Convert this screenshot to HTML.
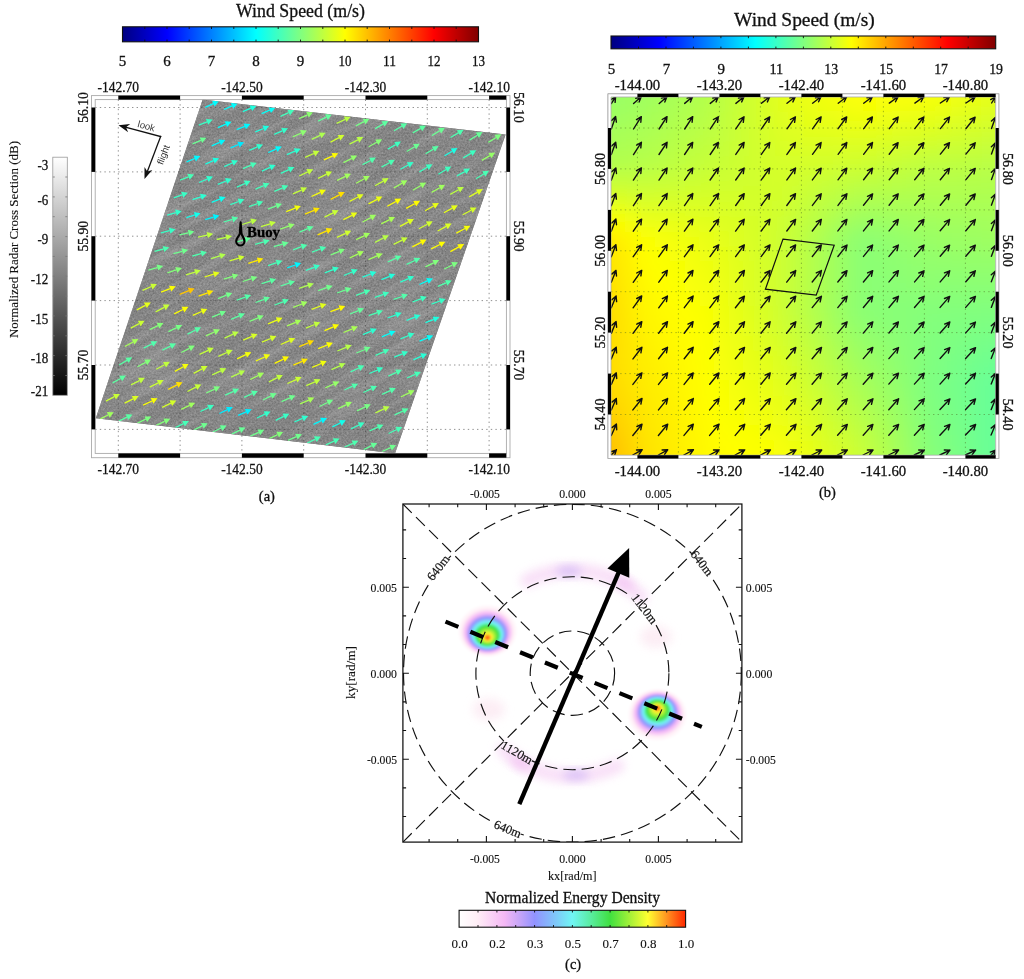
<!DOCTYPE html>
<html lang="en">
<head>
<meta charset="utf-8">
<title>SAR wind field, model wind field and wave spectrum</title>
<style>
html,body{margin:0;padding:0;background:#fff;}
body{width:1024px;height:979px;overflow:hidden;}
svg{display:block;font-family:"Liberation Serif", "DejaVu Serif", serif;}
</style>
</head>
<body>
<svg width="1024" height="979" viewBox="0 0 1024 979">
<defs>
<linearGradient id="jet" x1="0" x2="1" y1="0" y2="0"><stop offset="0" stop-color="#000080"/><stop offset="0.125" stop-color="#0000ff"/><stop offset="0.25" stop-color="#0080ff"/><stop offset="0.375" stop-color="#00ffff"/><stop offset="0.5" stop-color="#80ff80"/><stop offset="0.625" stop-color="#ffff00"/><stop offset="0.75" stop-color="#ff8000"/><stop offset="0.875" stop-color="#ff0000"/><stop offset="1" stop-color="#800000"/></linearGradient>
<linearGradient id="grey" x1="0" x2="0" y1="0" y2="1"><stop offset="0" stop-color="#ffffff"/><stop offset="1" stop-color="#000000"/></linearGradient>
<clipPath id="sarclip"><polygon points="202.7,99.6 505.6,134.6 395.0,453.4 95.8,418.3"/></clipPath>
<filter id="noise" x="0" y="0" width="100%" height="100%" color-interpolation-filters="sRGB"><feTurbulence type="fractalNoise" baseFrequency="0.55" numOctaves="2" seed="7" result="t"/><feColorMatrix in="t" type="matrix" values="0.24 0 0 0 0.395  0.24 0 0 0 0.395  0.24 0 0 0 0.395  0 0 0 0 1"/></filter>
<filter id="streak" x="0" y="0" width="100%" height="100%" color-interpolation-filters="sRGB"><feTurbulence type="fractalNoise" baseFrequency="0.012 0.11" numOctaves="2" seed="11" result="t"/><feColorMatrix in="t" type="matrix" values="0 0 0 0 1  0 0 0 0 1  0 0 0 0 1  1.6 0 0 0 -0.62"/></filter>
<clipPath id="bclip"><rect x="611.0" y="97.0" width="384.70000000000005" height="358.2"/></clipPath>
<filter id="bblur" x="-5%" y="-5%" width="110%" height="110%"><feGaussianBlur stdDeviation="9"/></filter>
<clipPath id="cclip"><rect x="402.9" y="504.0" width="339.0" height="338.1"/></clipPath>
<linearGradient id="ecm" x1="0" x2="1" y1="0" y2="0"><stop offset="0.0" stop-color="#ffffff"/><stop offset="0.08" stop-color="#ffeef6"/><stop offset="0.2" stop-color="#f5b8f5"/><stop offset="0.27" stop-color="#c4a4f8"/><stop offset="0.333" stop-color="#9292ff"/><stop offset="0.42" stop-color="#80c4fa"/><stop offset="0.5" stop-color="#70f6f4"/><stop offset="0.585" stop-color="#58ec9c"/><stop offset="0.667" stop-color="#40e040"/><stop offset="0.75" stop-color="#a0f038"/><stop offset="0.833" stop-color="#ffff30"/><stop offset="0.92" stop-color="#ff9020"/><stop offset="1.0" stop-color="#ff2800"/></linearGradient>
<filter id="fb6" x="-50%" y="-50%" width="200%" height="200%"><feGaussianBlur stdDeviation="5"/></filter>
<filter id="fb3" x="-50%" y="-50%" width="200%" height="200%"><feGaussianBlur stdDeviation="0.9"/></filter>
<radialGradient id="blob0" gradientUnits="userSpaceOnUse" cx="487.5" cy="630.8" r="26.5" fx="487.5" fy="638.3"><stop offset="0" stop-color="#ff2800"/><stop offset="0.065" stop-color="#ff831c"/><stop offset="0.14" stop-color="#fff62f"/><stop offset="0.245" stop-color="#a0f038"/><stop offset="0.35" stop-color="#40e040"/><stop offset="0.415" stop-color="#58ec9c"/><stop offset="0.47" stop-color="#70f6f4"/><stop offset="0.54" stop-color="#80c4fa"/><stop offset="0.605" stop-color="#9292ff"/><stop offset="0.66" stop-color="#c4a4f8"/><stop offset="0.73" stop-color="#f5b8f5"/><stop offset="0.86" stop-color="#ffeef6"/><stop offset="1.0" stop-color="#ffffff"/></radialGradient>
<radialGradient id="blob1" gradientUnits="userSpaceOnUse" cx="657.5" cy="714.9" r="26.5" fx="657.5" fy="707.4"><stop offset="0" stop-color="#ff2800"/><stop offset="0.065" stop-color="#ff831c"/><stop offset="0.14" stop-color="#fff62f"/><stop offset="0.245" stop-color="#a0f038"/><stop offset="0.35" stop-color="#40e040"/><stop offset="0.415" stop-color="#58ec9c"/><stop offset="0.47" stop-color="#70f6f4"/><stop offset="0.54" stop-color="#80c4fa"/><stop offset="0.605" stop-color="#9292ff"/><stop offset="0.66" stop-color="#c4a4f8"/><stop offset="0.73" stop-color="#f5b8f5"/><stop offset="0.86" stop-color="#ffeef6"/><stop offset="1.0" stop-color="#ffffff"/></radialGradient>
<mask id="ringmask" maskUnits="userSpaceOnUse" x="395" y="495" width="355" height="355"><rect x="397.9" y="499.0" width="349.0" height="348.1" fill="#fff"/><rect x="424.6" y="561.9" width="27.5" height="12" fill="#000" transform="rotate(-52 438.4 567.9)"/><rect x="688.0" y="557.2" width="27.5" height="12" fill="#000" transform="rotate(52 701.8 563.2)"/><rect x="627.4" y="602.9" width="34.0" height="12" fill="#000" transform="rotate(52 644.4 608.9)"/><rect x="499.9" y="746.6" width="34.0" height="12" fill="#000" transform="rotate(30 516.9 752.6)"/><rect x="493.9" y="823.2" width="27.5" height="12" fill="#000" transform="rotate(22 507.6 829.2)"/></mask>
</defs>
<rect width="1024" height="979" fill="#fff"/>
<text x="300.5" y="17.0" font-size="18" text-anchor="middle" fill="#111" textLength="129.0" lengthAdjust="spacingAndGlyphs" stroke="#111" stroke-width="0.3">Wind Speed (m/s)</text>
<rect x="122.5" y="26.8" width="356.0" height="14.999999999999996" fill="url(#jet)" stroke="#111" stroke-width="1.1"/>
<path d="M144.8 26.8v2.2M144.8 41.8v-2.2M167.0 26.8v2.2M167.0 41.8v-2.2M189.2 26.8v2.2M189.2 41.8v-2.2M211.5 26.8v2.2M211.5 41.8v-2.2M233.8 26.8v2.2M233.8 41.8v-2.2M256.0 26.8v2.2M256.0 41.8v-2.2M278.2 26.8v2.2M278.2 41.8v-2.2M300.5 26.8v2.2M300.5 41.8v-2.2M322.8 26.8v2.2M322.8 41.8v-2.2M345.0 26.8v2.2M345.0 41.8v-2.2M367.2 26.8v2.2M367.2 41.8v-2.2M389.5 26.8v2.2M389.5 41.8v-2.2M411.8 26.8v2.2M411.8 41.8v-2.2M434.0 26.8v2.2M434.0 41.8v-2.2M456.2 26.8v2.2M456.2 41.8v-2.2" stroke="#111" stroke-width="0.9" fill="none"/>
<text x="122.5" y="65.6" font-size="15" text-anchor="middle" fill="#111" stroke="#111" stroke-width="0.3">5</text>
<text x="167.0" y="65.6" font-size="15" text-anchor="middle" fill="#111" stroke="#111" stroke-width="0.3">6</text>
<text x="211.5" y="65.6" font-size="15" text-anchor="middle" fill="#111" stroke="#111" stroke-width="0.3">7</text>
<text x="256.0" y="65.6" font-size="15" text-anchor="middle" fill="#111" stroke="#111" stroke-width="0.3">8</text>
<text x="300.5" y="65.6" font-size="15" text-anchor="middle" fill="#111" stroke="#111" stroke-width="0.3">9</text>
<text x="345.0" y="65.6" font-size="15" text-anchor="middle" fill="#111" textLength="13.0" lengthAdjust="spacingAndGlyphs" stroke="#111" stroke-width="0.3">10</text>
<text x="389.5" y="65.6" font-size="15" text-anchor="middle" fill="#111" textLength="13.0" lengthAdjust="spacingAndGlyphs" stroke="#111" stroke-width="0.3">11</text>
<text x="434.0" y="65.6" font-size="15" text-anchor="middle" fill="#111" textLength="13.0" lengthAdjust="spacingAndGlyphs" stroke="#111" stroke-width="0.3">12</text>
<text x="478.5" y="65.6" font-size="15" text-anchor="middle" fill="#111" textLength="13.0" lengthAdjust="spacingAndGlyphs" stroke="#111" stroke-width="0.3">13</text>
<rect x="52.8" y="157.2" width="14.5" height="238.10000000000002" fill="url(#grey)" stroke="#999" stroke-width="0.8"/>
<path d="M52.8 177.0h2M67.3 177.0h-2M52.8 196.9h2M67.3 196.9h-2M52.8 216.7h2M67.3 216.7h-2M52.8 236.6h2M67.3 236.6h-2M52.8 256.4h2M67.3 256.4h-2M52.8 276.2h2M67.3 276.2h-2M52.8 296.1h2M67.3 296.1h-2M52.8 315.9h2M67.3 315.9h-2M52.8 335.8h2M67.3 335.8h-2M52.8 355.6h2M67.3 355.6h-2M52.8 375.5h2M67.3 375.5h-2" stroke="#777" stroke-width="0.8" fill="none"/>
<text x="48.2" y="170.0" font-size="15" text-anchor="end" fill="#111" textLength="10.8" lengthAdjust="spacingAndGlyphs" stroke="#111" stroke-width="0.3">-3</text>
<text x="48.2" y="205.3" font-size="15" text-anchor="end" fill="#111" textLength="10.8" lengthAdjust="spacingAndGlyphs" stroke="#111" stroke-width="0.3">-6</text>
<text x="48.2" y="244.4" font-size="15" text-anchor="end" fill="#111" textLength="10.8" lengthAdjust="spacingAndGlyphs" stroke="#111" stroke-width="0.3">-9</text>
<text x="48.2" y="284.0" font-size="15" text-anchor="end" fill="#111" textLength="17.4" lengthAdjust="spacingAndGlyphs" stroke="#111" stroke-width="0.3">-12</text>
<text x="48.2" y="323.8" font-size="15" text-anchor="end" fill="#111" textLength="17.4" lengthAdjust="spacingAndGlyphs" stroke="#111" stroke-width="0.3">-15</text>
<text x="48.2" y="363.0" font-size="15" text-anchor="end" fill="#111" textLength="17.4" lengthAdjust="spacingAndGlyphs" stroke="#111" stroke-width="0.3">-18</text>
<text x="48.2" y="396.0" font-size="15" text-anchor="end" fill="#111" textLength="17.4" lengthAdjust="spacingAndGlyphs" stroke="#111" stroke-width="0.3">-21</text>
<text x="17.6" y="239.5" font-size="13" text-anchor="middle" fill="#111" textLength="197.0" lengthAdjust="spacingAndGlyphs" transform="rotate(-90.0 17.6 239.5)" stroke="#111" stroke-width="0.12">Normalized Radar Cross Section (dB)</text>
<polygon points="202.7,99.6 505.6,134.6 395.0,453.4 95.8,418.3" fill="#848484"/>
<g clip-path="url(#sarclip)">
<rect x="90" y="95" width="420" height="362" filter="url(#noise)"/>
<g transform="rotate(-28 300 276)" opacity="0.22"><rect x="20" y="-20" width="560" height="600" filter="url(#streak)"/></g>
</g>
<path d="M118.3 99.6V453.4M180.1 99.6V453.4M241.9 99.6V453.4M303.7 99.6V453.4M365.5 99.6V453.4M427.3 99.6V453.4M489.1 99.6V453.4M95.2 107.5H506.4M95.2 171.9H506.4M95.2 236.2H506.4M95.2 300.6H506.4M95.2 365.0H506.4M95.2 429.4H506.4" stroke="#444" stroke-opacity="0.65" stroke-width="0.9" stroke-dasharray="1.4 3.2" fill="none"/>
<g clip-path="url(#sarclip)">
<path d="M205.3 107.3L213.3 103.7" stroke="#00fcff" stroke-width="1.3" fill="none"/><path d="M218.9 101.2L214.6 106.6L212.0 100.8Z" fill="#00fcff"/>
<path d="M224.1 109.5L232.2 105.9" stroke="#00feff" stroke-width="1.3" fill="none"/><path d="M237.7 103.5L233.4 108.8L230.9 103.1Z" fill="#00feff"/>
<path d="M242.8 111.7L251.0 108.1" stroke="#21ffde" stroke-width="1.3" fill="none"/><path d="M256.6 105.7L252.2 111.0L249.7 105.2Z" fill="#21ffde"/>
<path d="M261.6 113.7L269.8 110.2" stroke="#05fffa" stroke-width="1.3" fill="none"/><path d="M275.4 107.8L271.0 113.1L268.5 107.3Z" fill="#05fffa"/>
<path d="M280.4 116.3L288.7 112.6" stroke="#43ffbc" stroke-width="1.3" fill="none"/><path d="M294.2 110.0L290.0 115.4L287.4 109.7Z" fill="#43ffbc"/>
<path d="M299.0 118.7L307.5 114.8" stroke="#8dff72" stroke-width="1.3" fill="none"/><path d="M313.1 112.2L308.8 117.6L306.2 111.9Z" fill="#8dff72"/>
<path d="M318.2 121.2L326.4 117.1" stroke="#62ff9d" stroke-width="1.3" fill="none"/><path d="M331.9 114.5L327.8 120.0L325.0 114.3Z" fill="#62ff9d"/>
<path d="M336.6 123.4L345.2 119.3" stroke="#bcff43" stroke-width="1.3" fill="none"/><path d="M350.7 116.7L346.5 122.1L343.8 116.4Z" fill="#bcff43"/>
<path d="M355.8 125.8L364.1 121.6" stroke="#77ff88" stroke-width="1.3" fill="none"/><path d="M369.5 118.8L365.5 124.4L362.7 118.8Z" fill="#77ff88"/>
<path d="M375.1 128.6L383.1 124.1" stroke="#5dffa2" stroke-width="1.3" fill="none"/><path d="M388.4 121.0L384.6 126.8L381.5 121.3Z" fill="#5dffa2"/>
<path d="M394.0 130.8L401.9 126.3" stroke="#57ffa8" stroke-width="1.3" fill="none"/><path d="M407.2 123.2L403.5 129.0L400.3 123.5Z" fill="#57ffa8"/>
<path d="M412.7 132.9L420.7 128.4" stroke="#5cffa3" stroke-width="1.3" fill="none"/><path d="M426.0 125.5L422.3 131.2L419.2 125.7Z" fill="#5cffa3"/>
<path d="M431.8 135.6L439.7 130.8" stroke="#6bff94" stroke-width="1.3" fill="none"/><path d="M444.9 127.7L441.3 133.5L438.0 128.1Z" fill="#6bff94"/>
<path d="M450.5 137.5L458.4 132.9" stroke="#4effb1" stroke-width="1.3" fill="none"/><path d="M463.7 129.8L460.0 135.6L456.8 130.2Z" fill="#4effb1"/>
<path d="M469.5 140.1L477.3 135.2" stroke="#66ff99" stroke-width="1.3" fill="none"/><path d="M482.5 132.1L479.0 137.9L475.7 132.6Z" fill="#66ff99"/>
<path d="M488.3 142.4L496.2 137.5" stroke="#7fff80" stroke-width="1.3" fill="none"/><path d="M501.4 134.2L497.8 140.2L494.5 134.8Z" fill="#7fff80"/>
<path d="M198.7 125.2L207.0 121.8" stroke="#39ffc6" stroke-width="1.3" fill="none"/><path d="M212.7 119.5L208.2 124.7L205.9 118.9Z" fill="#39ffc6"/>
<path d="M217.9 127.7L225.9 124.2" stroke="#01fffe" stroke-width="1.3" fill="none"/><path d="M231.5 121.7L227.2 127.1L224.7 121.3Z" fill="#01fffe"/>
<path d="M236.7 129.7L244.8 126.3" stroke="#00f7ff" stroke-width="1.3" fill="none"/><path d="M250.4 123.9L246.0 129.2L243.5 123.4Z" fill="#00f7ff"/>
<path d="M255.3 131.9L263.6 128.5" stroke="#1effe1" stroke-width="1.3" fill="none"/><path d="M269.2 126.1L264.8 131.4L262.4 125.6Z" fill="#1effe1"/>
<path d="M274.2 134.4L282.4 130.8" stroke="#33ffcc" stroke-width="1.3" fill="none"/><path d="M288.0 128.3L283.7 133.7L281.2 127.9Z" fill="#33ffcc"/>
<path d="M292.7 136.8L301.3 133.0" stroke="#8eff71" stroke-width="1.3" fill="none"/><path d="M306.9 130.5L302.6 135.9L300.0 130.1Z" fill="#8eff71"/>
<path d="M311.6 139.4L320.2 135.4" stroke="#aeff51" stroke-width="1.3" fill="none"/><path d="M325.7 132.7L321.5 138.2L318.8 132.5Z" fill="#aeff51"/>
<path d="M330.5 142.1L339.1 137.7" stroke="#d0ff2f" stroke-width="1.3" fill="none"/><path d="M344.5 134.9L340.5 140.5L337.7 134.9Z" fill="#d0ff2f"/>
<path d="M349.4 144.2L357.9 139.9" stroke="#b9ff46" stroke-width="1.3" fill="none"/><path d="M363.3 137.1L359.3 142.7L356.5 137.1Z" fill="#b9ff46"/>
<path d="M368.6 146.7L376.8 142.2" stroke="#89ff76" stroke-width="1.3" fill="none"/><path d="M382.2 139.3L378.3 145.0L375.3 139.5Z" fill="#89ff76"/>
<path d="M387.9 149.1L395.7 144.6" stroke="#3fffc0" stroke-width="1.3" fill="none"/><path d="M401.0 141.5L397.3 147.3L394.2 141.9Z" fill="#3fffc0"/>
<path d="M406.7 151.5L414.6 146.8" stroke="#6cff93" stroke-width="1.3" fill="none"/><path d="M419.8 143.7L416.2 149.6L413.0 144.1Z" fill="#6cff93"/>
<path d="M425.6 153.7L433.4 149.1" stroke="#58ffa7" stroke-width="1.3" fill="none"/><path d="M438.7 145.9L435.0 151.8L431.8 146.4Z" fill="#58ffa7"/>
<path d="M444.6 155.8L452.3 151.3" stroke="#1bffe4" stroke-width="1.3" fill="none"/><path d="M457.5 148.1L453.9 154.0L450.6 148.6Z" fill="#1bffe4"/>
<path d="M463.2 157.9L471.0 153.4" stroke="#3effc1" stroke-width="1.3" fill="none"/><path d="M476.3 150.3L472.6 156.1L469.5 150.6Z" fill="#3effc1"/>
<path d="M481.8 160.4L489.9 155.6" stroke="#97ff68" stroke-width="1.3" fill="none"/><path d="M495.2 152.5L491.5 158.3L488.3 152.9Z" fill="#97ff68"/>
<path d="M192.5 143.9L200.9 140.3" stroke="#6bff94" stroke-width="1.3" fill="none"/><path d="M206.5 137.8L202.2 143.1L199.7 137.4Z" fill="#6bff94"/>
<path d="M211.7 145.9L219.7 142.4" stroke="#00f9ff" stroke-width="1.3" fill="none"/><path d="M225.4 140.0L221.0 145.3L218.5 139.6Z" fill="#00f9ff"/>
<path d="M230.5 147.9L238.5 144.6" stroke="#00e9ff" stroke-width="1.3" fill="none"/><path d="M244.2 142.2L239.8 147.5L237.3 141.7Z" fill="#00e9ff"/>
<path d="M249.2 150.4L257.4 146.9" stroke="#30ffcf" stroke-width="1.3" fill="none"/><path d="M263.0 144.4L258.7 149.8L256.2 144.0Z" fill="#30ffcf"/>
<path d="M268.2 152.5L276.2 149.1" stroke="#00fbff" stroke-width="1.3" fill="none"/><path d="M281.8 146.6L277.5 151.9L275.0 146.2Z" fill="#00fbff"/>
<path d="M286.8 154.7L295.1 151.2" stroke="#2dffd2" stroke-width="1.3" fill="none"/><path d="M300.7 148.8L296.3 154.1L293.8 148.3Z" fill="#2dffd2"/>
<path d="M305.1 157.3L313.9 153.5" stroke="#c4ff3b" stroke-width="1.3" fill="none"/><path d="M319.5 151.0L315.2 156.4L312.6 150.6Z" fill="#c4ff3b"/>
<path d="M323.9 159.9L332.8 155.8" stroke="#fffc00" stroke-width="1.3" fill="none"/><path d="M338.3 153.2L334.1 158.6L331.5 152.9Z" fill="#fffc00"/>
<path d="M343.4 162.6L351.8 158.3" stroke="#93ff6c" stroke-width="1.3" fill="none"/><path d="M357.2 155.4L353.2 161.0L350.3 155.5Z" fill="#93ff6c"/>
<path d="M362.5 164.7L370.6 160.5" stroke="#52ffad" stroke-width="1.3" fill="none"/><path d="M376.0 157.6L372.0 163.3L369.1 157.7Z" fill="#52ffad"/>
<path d="M381.5 167.1L389.5 162.7" stroke="#4bffb4" stroke-width="1.3" fill="none"/><path d="M394.8 159.8L391.0 165.5L388.0 160.0Z" fill="#4bffb4"/>
<path d="M400.4 169.3L408.3 165.0" stroke="#35ffca" stroke-width="1.3" fill="none"/><path d="M413.6 162.0L409.8 167.7L406.8 162.2Z" fill="#35ffca"/>
<path d="M419.4 171.9L427.2 167.3" stroke="#3dffc2" stroke-width="1.3" fill="none"/><path d="M432.5 164.2L428.8 170.0L425.6 164.6Z" fill="#3dffc2"/>
<path d="M438.3 174.2L446.1 169.5" stroke="#3fffc0" stroke-width="1.3" fill="none"/><path d="M451.3 166.4L447.7 172.3L444.5 166.8Z" fill="#3fffc0"/>
<path d="M456.9 175.9L464.8 171.6" stroke="#3effc1" stroke-width="1.3" fill="none"/><path d="M470.1 168.6L466.3 174.3L463.3 168.8Z" fill="#3effc1"/>
<path d="M476.0 178.7L483.8 174.0" stroke="#4affb5" stroke-width="1.3" fill="none"/><path d="M489.0 170.8L485.4 176.7L482.1 171.3Z" fill="#4affb5"/>
<path d="M186.6 161.9L194.7 158.5" stroke="#00f9ff" stroke-width="1.3" fill="none"/><path d="M200.3 156.1L195.9 161.4L193.5 155.6Z" fill="#00f9ff"/>
<path d="M205.3 164.1L213.5 160.7" stroke="#1dffe2" stroke-width="1.3" fill="none"/><path d="M219.2 158.3L214.8 163.6L212.3 157.8Z" fill="#1dffe2"/>
<path d="M224.2 166.6L232.4 163.0" stroke="#30ffcf" stroke-width="1.3" fill="none"/><path d="M238.0 160.5L233.7 165.8L231.1 160.1Z" fill="#30ffcf"/>
<path d="M242.9 168.7L251.2 165.1" stroke="#46ffb9" stroke-width="1.3" fill="none"/><path d="M256.8 162.7L252.4 168.0L250.0 162.2Z" fill="#46ffb9"/>
<path d="M261.9 171.1L270.1 167.4" stroke="#2fffd0" stroke-width="1.3" fill="none"/><path d="M275.7 164.9L271.4 170.3L268.8 164.5Z" fill="#2fffd0"/>
<path d="M280.7 173.3L288.9 169.6" stroke="#3affc5" stroke-width="1.3" fill="none"/><path d="M294.5 167.1L290.2 172.5L287.6 166.7Z" fill="#3affc5"/>
<path d="M299.2 176.0L307.8 171.9" stroke="#c2ff3d" stroke-width="1.3" fill="none"/><path d="M313.3 169.3L309.1 174.8L306.4 169.1Z" fill="#c2ff3d"/>
<path d="M318.0 178.3L326.6 174.2" stroke="#c6ff39" stroke-width="1.3" fill="none"/><path d="M332.1 171.5L328.0 177.0L325.3 171.3Z" fill="#c6ff39"/>
<path d="M337.0 180.4L345.5 176.4" stroke="#a3ff5c" stroke-width="1.3" fill="none"/><path d="M351.0 173.7L346.8 179.2L344.1 173.5Z" fill="#a3ff5c"/>
<path d="M356.1 183.2L364.4 178.8" stroke="#a1ff5e" stroke-width="1.3" fill="none"/><path d="M369.8 175.9L365.9 181.6L362.9 176.0Z" fill="#a1ff5e"/>
<path d="M375.0 185.8L383.3 181.1" stroke="#c3ff3c" stroke-width="1.3" fill="none"/><path d="M388.6 178.1L384.9 183.9L381.8 178.4Z" fill="#c3ff3c"/>
<path d="M393.9 187.9L402.1 183.3" stroke="#9fff60" stroke-width="1.3" fill="none"/><path d="M407.5 180.3L403.7 186.1L400.6 180.6Z" fill="#9fff60"/>
<path d="M412.8 190.2L421.0 185.5" stroke="#96ff69" stroke-width="1.3" fill="none"/><path d="M426.3 182.5L422.5 188.3L419.4 182.8Z" fill="#96ff69"/>
<path d="M431.6 192.4L439.8 187.7" stroke="#a0ff5f" stroke-width="1.3" fill="none"/><path d="M445.1 184.7L441.4 190.5L438.3 185.0Z" fill="#a0ff5f"/>
<path d="M450.2 194.4L458.6 189.8" stroke="#bcff43" stroke-width="1.3" fill="none"/><path d="M463.9 186.9L460.1 192.6L457.1 187.1Z" fill="#bcff43"/>
<path d="M469.1 196.9L477.5 192.1" stroke="#ddff22" stroke-width="1.3" fill="none"/><path d="M482.8 189.1L479.0 194.9L475.9 189.4Z" fill="#ddff22"/>
<path d="M180.1 180.2L188.5 176.8" stroke="#47ffb8" stroke-width="1.3" fill="none"/><path d="M194.1 174.4L189.7 179.7L187.3 173.8Z" fill="#47ffb8"/>
<path d="M199.1 182.5L207.4 179.0" stroke="#30ffcf" stroke-width="1.3" fill="none"/><path d="M213.0 176.6L208.6 181.9L206.1 176.1Z" fill="#30ffcf"/>
<path d="M217.8 184.3L226.1 181.0" stroke="#30ffcf" stroke-width="1.3" fill="none"/><path d="M231.8 178.8L227.3 184.0L225.0 178.1Z" fill="#30ffcf"/>
<path d="M236.8 187.1L245.0 183.5" stroke="#3bffc4" stroke-width="1.3" fill="none"/><path d="M250.6 181.0L246.3 186.3L243.8 180.6Z" fill="#3bffc4"/>
<path d="M255.5 189.1L263.8 185.6" stroke="#45ffba" stroke-width="1.3" fill="none"/><path d="M269.5 183.2L265.0 188.5L262.6 182.7Z" fill="#45ffba"/>
<path d="M274.3 191.4L282.7 187.8" stroke="#46ffb9" stroke-width="1.3" fill="none"/><path d="M288.3 185.4L283.9 190.7L281.4 184.9Z" fill="#46ffb9"/>
<path d="M292.8 193.9L301.5 190.1" stroke="#c4ff3b" stroke-width="1.3" fill="none"/><path d="M307.1 187.6L302.8 193.0L300.3 187.2Z" fill="#c4ff3b"/>
<path d="M311.5 196.5L320.4 192.4" stroke="#f6ff09" stroke-width="1.3" fill="none"/><path d="M326.0 189.8L321.7 195.2L319.1 189.5Z" fill="#f6ff09"/>
<path d="M330.6 199.4L339.4 194.8" stroke="#ffde00" stroke-width="1.3" fill="none"/><path d="M344.8 192.0L340.8 197.6L337.9 192.0Z" fill="#ffde00"/>
<path d="M349.5 201.4L358.2 197.0" stroke="#e2ff1d" stroke-width="1.3" fill="none"/><path d="M363.6 194.2L359.6 199.8L356.7 194.2Z" fill="#e2ff1d"/>
<path d="M368.5 203.8L377.1 199.3" stroke="#ebff14" stroke-width="1.3" fill="none"/><path d="M382.4 196.4L378.5 202.1L375.6 196.5Z" fill="#ebff14"/>
<path d="M387.3 206.2L395.9 201.5" stroke="#fdff02" stroke-width="1.3" fill="none"/><path d="M401.3 198.6L397.4 204.3L394.4 198.8Z" fill="#fdff02"/>
<path d="M406.1 208.4L414.7 203.7" stroke="#fffb00" stroke-width="1.3" fill="none"/><path d="M420.1 200.8L416.3 206.5L413.2 201.0Z" fill="#fffb00"/>
<path d="M425.1 210.7L433.6 206.0" stroke="#eaff15" stroke-width="1.3" fill="none"/><path d="M438.9 203.0L435.1 208.7L432.1 203.2Z" fill="#eaff15"/>
<path d="M443.9 212.8L452.4 208.1" stroke="#e7ff18" stroke-width="1.3" fill="none"/><path d="M457.8 205.2L453.9 210.9L450.9 205.4Z" fill="#e7ff18"/>
<path d="M462.7 214.8L471.2 210.3" stroke="#d6ff29" stroke-width="1.3" fill="none"/><path d="M476.6 207.4L472.7 213.1L469.7 207.5Z" fill="#d6ff29"/>
<path d="M173.7 197.9L182.2 194.8" stroke="#39ffc6" stroke-width="1.3" fill="none"/><path d="M187.9 192.7L183.3 197.7L181.1 191.8Z" fill="#39ffc6"/>
<path d="M192.5 199.6L201.0 196.8" stroke="#2cffd3" stroke-width="1.3" fill="none"/><path d="M206.8 194.9L202.0 199.8L200.0 193.8Z" fill="#2cffd3"/>
<path d="M211.6 202.4L219.9 199.2" stroke="#0ffff0" stroke-width="1.3" fill="none"/><path d="M225.6 197.1L221.0 202.2L218.8 196.3Z" fill="#0ffff0"/>
<path d="M230.3 204.6L238.7 201.5" stroke="#38ffc7" stroke-width="1.3" fill="none"/><path d="M244.4 199.3L239.8 204.4L237.6 198.5Z" fill="#38ffc7"/>
<path d="M249.0 206.6L257.5 203.6" stroke="#46ffb9" stroke-width="1.3" fill="none"/><path d="M263.3 201.5L258.6 206.5L256.5 200.6Z" fill="#46ffb9"/>
<path d="M267.8 209.2L276.4 205.9" stroke="#6dff92" stroke-width="1.3" fill="none"/><path d="M282.1 203.7L277.5 208.8L275.3 203.0Z" fill="#6dff92"/>
<path d="M286.2 211.7L295.3 208.1" stroke="#f4ff0b" stroke-width="1.3" fill="none"/><path d="M300.9 205.9L296.4 211.1L294.1 205.2Z" fill="#f4ff0b"/>
<path d="M304.9 214.1L314.1 210.4" stroke="#ffe400" stroke-width="1.3" fill="none"/><path d="M319.8 208.1L315.3 213.3L312.9 207.5Z" fill="#ffe400"/>
<path d="M324.5 217.1L333.1 212.9" stroke="#c8ff37" stroke-width="1.3" fill="none"/><path d="M338.6 210.3L334.5 215.8L331.7 210.1Z" fill="#c8ff37"/>
<path d="M343.3 219.7L352.0 215.3" stroke="#ebff14" stroke-width="1.3" fill="none"/><path d="M357.4 212.5L353.4 218.1L350.6 212.5Z" fill="#ebff14"/>
<path d="M362.6 222.0L370.9 217.6" stroke="#9eff61" stroke-width="1.3" fill="none"/><path d="M376.2 214.7L372.4 220.4L369.4 214.8Z" fill="#9eff61"/>
<path d="M381.2 223.9L389.6 219.7" stroke="#aaff55" stroke-width="1.3" fill="none"/><path d="M395.1 216.9L391.1 222.5L388.2 216.8Z" fill="#aaff55"/>
<path d="M399.9 226.4L408.5 221.9" stroke="#deff21" stroke-width="1.3" fill="none"/><path d="M413.9 219.1L410.0 224.7L407.0 219.1Z" fill="#deff21"/>
<path d="M418.9 228.8L427.4 224.2" stroke="#d1ff2e" stroke-width="1.3" fill="none"/><path d="M432.7 221.3L428.9 227.0L425.9 221.5Z" fill="#d1ff2e"/>
<path d="M437.7 231.0L446.2 226.4" stroke="#dbff24" stroke-width="1.3" fill="none"/><path d="M451.6 223.5L447.7 229.2L444.7 223.6Z" fill="#dbff24"/>
<path d="M456.3 233.1L465.0 228.5" stroke="#f7ff08" stroke-width="1.3" fill="none"/><path d="M470.4 225.7L466.5 231.3L463.5 225.7Z" fill="#f7ff08"/>
<path d="M167.2 215.1L175.9 212.7" stroke="#33ffcc" stroke-width="1.3" fill="none"/><path d="M181.8 211.0L176.8 215.7L175.0 209.6Z" fill="#33ffcc"/>
<path d="M186.3 217.7L194.8 215.0" stroke="#13ffec" stroke-width="1.3" fill="none"/><path d="M200.6 213.2L195.7 218.0L193.8 212.0Z" fill="#13ffec"/>
<path d="M205.2 219.7L213.6 217.1" stroke="#00f3ff" stroke-width="1.3" fill="none"/><path d="M219.4 215.4L214.5 220.2L212.7 214.1Z" fill="#00f3ff"/>
<path d="M223.7 222.0L232.4 219.3" stroke="#51ffae" stroke-width="1.3" fill="none"/><path d="M238.2 217.6L233.3 222.4L231.5 216.3Z" fill="#51ffae"/>
<path d="M242.2 224.5L251.3 221.6" stroke="#bbff44" stroke-width="1.3" fill="none"/><path d="M257.1 219.8L252.2 224.6L250.3 218.6Z" fill="#bbff44"/>
<path d="M261.0 226.7L270.1 223.8" stroke="#c3ff3c" stroke-width="1.3" fill="none"/><path d="M275.9 222.0L271.0 226.8L269.1 220.8Z" fill="#c3ff3c"/>
<path d="M280.1 229.1L289.0 226.1" stroke="#93ff6c" stroke-width="1.3" fill="none"/><path d="M294.7 224.2L290.0 229.1L288.0 223.1Z" fill="#93ff6c"/>
<path d="M299.4 232.1L307.9 228.7" stroke="#5dffa2" stroke-width="1.3" fill="none"/><path d="M313.6 226.4L309.1 231.6L306.7 225.7Z" fill="#5dffa2"/>
<path d="M317.6 234.8L326.8 230.9" stroke="#ffe500" stroke-width="1.3" fill="none"/><path d="M332.4 228.6L328.0 233.9L325.6 228.0Z" fill="#ffe500"/>
<path d="M336.9 237.3L345.7 233.3" stroke="#d0ff2f" stroke-width="1.3" fill="none"/><path d="M351.2 230.8L347.0 236.2L344.4 230.5Z" fill="#d0ff2f"/>
<path d="M356.1 239.7L364.6 235.6" stroke="#a2ff5d" stroke-width="1.3" fill="none"/><path d="M370.1 233.0L365.9 238.5L363.2 232.8Z" fill="#a2ff5d"/>
<path d="M375.0 242.3L383.5 238.0" stroke="#b8ff47" stroke-width="1.3" fill="none"/><path d="M388.9 235.2L384.9 240.8L382.0 235.2Z" fill="#b8ff47"/>
<path d="M393.6 244.3L402.2 240.1" stroke="#c7ff38" stroke-width="1.3" fill="none"/><path d="M407.7 237.4L403.6 242.9L400.9 237.3Z" fill="#c7ff38"/>
<path d="M412.3 246.8L421.1 242.3" stroke="#fffa00" stroke-width="1.3" fill="none"/><path d="M426.5 239.6L422.5 245.2L419.7 239.5Z" fill="#fffa00"/>
<path d="M431.1 248.9L439.9 244.5" stroke="#feff01" stroke-width="1.3" fill="none"/><path d="M445.4 241.8L441.3 247.3L438.5 241.7Z" fill="#feff01"/>
<path d="M450.3 251.6L458.9 246.9" stroke="#fffb00" stroke-width="1.3" fill="none"/><path d="M464.2 244.0L460.4 249.7L457.3 244.2Z" fill="#fffb00"/>
<path d="M160.9 232.9L169.6 230.7" stroke="#38ffc7" stroke-width="1.3" fill="none"/><path d="M175.6 229.3L170.4 233.8L168.9 227.7Z" fill="#38ffc7"/>
<path d="M179.4 234.8L188.4 232.8" stroke="#70ff8f" stroke-width="1.3" fill="none"/><path d="M194.4 231.5L189.1 235.9L187.8 229.7Z" fill="#70ff8f"/>
<path d="M198.0 237.2L207.3 235.1" stroke="#beff41" stroke-width="1.3" fill="none"/><path d="M213.2 233.7L208.0 238.1L206.6 232.0Z" fill="#beff41"/>
<path d="M216.8 239.5L226.1 237.3" stroke="#bbff44" stroke-width="1.3" fill="none"/><path d="M232.1 235.9L226.8 240.3L225.4 234.2Z" fill="#bbff44"/>
<path d="M236.2 242.1L245.0 239.7" stroke="#62ff9d" stroke-width="1.3" fill="none"/><path d="M250.9 238.1L245.8 242.7L244.2 236.7Z" fill="#62ff9d"/>
<path d="M255.1 244.3L263.8 241.9" stroke="#4cffb3" stroke-width="1.3" fill="none"/><path d="M269.7 240.3L264.7 244.9L263.0 238.9Z" fill="#4cffb3"/>
<path d="M273.8 246.7L282.7 244.1" stroke="#67ff98" stroke-width="1.3" fill="none"/><path d="M288.6 242.5L283.5 247.2L281.8 241.1Z" fill="#67ff98"/>
<path d="M293.1 249.8L301.6 246.7" stroke="#4fffb0" stroke-width="1.3" fill="none"/><path d="M307.4 244.7L302.7 249.7L300.6 243.8Z" fill="#4fffb0"/>
<path d="M312.0 252.1L320.5 249.0" stroke="#4affb5" stroke-width="1.3" fill="none"/><path d="M326.2 246.9L321.6 252.0L319.4 246.0Z" fill="#4affb5"/>
<path d="M330.7 254.8L339.4 251.3" stroke="#7fff80" stroke-width="1.3" fill="none"/><path d="M345.0 249.1L340.5 254.3L338.2 248.4Z" fill="#7fff80"/>
<path d="M349.8 257.9L358.3 253.9" stroke="#a6ff59" stroke-width="1.3" fill="none"/><path d="M363.9 251.3L359.7 256.7L357.0 251.0Z" fill="#a6ff59"/>
<path d="M368.5 259.7L377.1 255.9" stroke="#a3ff5c" stroke-width="1.3" fill="none"/><path d="M382.7 253.5L378.4 258.8L375.8 253.1Z" fill="#a3ff5c"/>
<path d="M387.7 262.0L396.0 258.2" stroke="#57ffa8" stroke-width="1.3" fill="none"/><path d="M401.5 255.7L397.3 261.1L394.7 255.4Z" fill="#57ffa8"/>
<path d="M406.6 264.4L414.9 260.5" stroke="#53ffac" stroke-width="1.3" fill="none"/><path d="M420.4 257.9L416.2 263.3L413.5 257.7Z" fill="#53ffac"/>
<path d="M425.4 266.9L433.7 262.8" stroke="#82ff7d" stroke-width="1.3" fill="none"/><path d="M439.2 260.1L435.1 265.6L432.3 259.9Z" fill="#82ff7d"/>
<path d="M444.2 269.0L452.5 265.0" stroke="#7dff82" stroke-width="1.3" fill="none"/><path d="M458.0 262.3L453.9 267.8L451.2 262.1Z" fill="#7dff82"/>
<path d="M154.6 251.3L163.5 249.0" stroke="#4cffb3" stroke-width="1.3" fill="none"/><path d="M169.4 247.6L164.2 252.1L162.7 246.0Z" fill="#4cffb3"/>
<path d="M173.4 253.6L182.3 251.3" stroke="#70ff8f" stroke-width="1.3" fill="none"/><path d="M188.2 249.8L183.1 254.3L181.5 248.2Z" fill="#70ff8f"/>
<path d="M192.4 256.0L201.2 253.6" stroke="#50ffaf" stroke-width="1.3" fill="none"/><path d="M207.0 252.0L202.0 256.6L200.3 250.5Z" fill="#50ffaf"/>
<path d="M210.9 258.7L220.0 255.9" stroke="#b2ff4d" stroke-width="1.3" fill="none"/><path d="M225.9 254.2L220.9 258.9L219.1 252.9Z" fill="#b2ff4d"/>
<path d="M229.6 260.8L238.9 258.1" stroke="#cfff30" stroke-width="1.3" fill="none"/><path d="M244.7 256.4L239.7 261.1L238.0 255.1Z" fill="#cfff30"/>
<path d="M248.3 263.3L257.7 260.4" stroke="#ffec00" stroke-width="1.3" fill="none"/><path d="M263.5 258.6L258.6 263.4L256.8 257.4Z" fill="#ffec00"/>
<path d="M268.0 265.6L276.6 262.7" stroke="#47ffb8" stroke-width="1.3" fill="none"/><path d="M282.4 260.8L277.6 265.7L275.6 259.7Z" fill="#47ffb8"/>
<path d="M287.2 267.9L295.4 265.0" stroke="#00f6ff" stroke-width="1.3" fill="none"/><path d="M301.2 263.0L296.5 268.0L294.4 262.0Z" fill="#00f6ff"/>
<path d="M305.8 270.4L314.3 267.3" stroke="#38ffc7" stroke-width="1.3" fill="none"/><path d="M320.0 265.2L315.4 270.2L313.2 264.3Z" fill="#38ffc7"/>
<path d="M324.8 272.8L333.2 269.6" stroke="#34ffcb" stroke-width="1.3" fill="none"/><path d="M338.9 267.4L334.3 272.5L332.0 266.6Z" fill="#34ffcb"/>
<path d="M343.8 275.5L352.1 272.0" stroke="#35ffca" stroke-width="1.3" fill="none"/><path d="M357.7 269.6L353.3 274.9L350.8 269.1Z" fill="#35ffca"/>
<path d="M362.5 277.2L370.8 274.0" stroke="#25ffda" stroke-width="1.3" fill="none"/><path d="M376.5 271.8L372.0 276.9L369.7 271.0Z" fill="#25ffda"/>
<path d="M381.4 279.7L389.7 276.3" stroke="#22ffdd" stroke-width="1.3" fill="none"/><path d="M395.3 274.0L390.9 279.2L388.5 273.4Z" fill="#22ffdd"/>
<path d="M400.3 282.2L408.6 278.6" stroke="#31ffce" stroke-width="1.3" fill="none"/><path d="M414.2 276.2L409.8 281.5L407.3 275.7Z" fill="#31ffce"/>
<path d="M419.4 284.5L427.4 280.9" stroke="#07fff8" stroke-width="1.3" fill="none"/><path d="M433.0 278.4L428.7 283.8L426.1 278.0Z" fill="#07fff8"/>
<path d="M437.8 286.4L446.2 282.9" stroke="#52ffad" stroke-width="1.3" fill="none"/><path d="M451.8 280.6L447.4 285.8L445.0 280.0Z" fill="#52ffad"/>
<path d="M148.4 270.2L157.3 267.6" stroke="#77ff88" stroke-width="1.3" fill="none"/><path d="M163.2 265.9L158.2 270.6L156.5 264.5Z" fill="#77ff88"/>
<path d="M167.4 272.8L176.2 269.9" stroke="#85ff7a" stroke-width="1.3" fill="none"/><path d="M182.0 268.1L177.2 272.9L175.2 267.0Z" fill="#85ff7a"/>
<path d="M185.9 274.9L195.0 272.1" stroke="#c0ff3f" stroke-width="1.3" fill="none"/><path d="M200.8 270.3L196.0 275.1L194.1 269.1Z" fill="#c0ff3f"/>
<path d="M204.5 277.0L213.8 274.2" stroke="#e6ff19" stroke-width="1.3" fill="none"/><path d="M219.7 272.5L214.7 277.2L212.9 271.2Z" fill="#e6ff19"/>
<path d="M223.7 279.1L232.7 276.4" stroke="#83ff7c" stroke-width="1.3" fill="none"/><path d="M238.5 274.7L233.6 279.4L231.8 273.4Z" fill="#83ff7c"/>
<path d="M242.7 281.5L251.5 278.7" stroke="#7bff84" stroke-width="1.3" fill="none"/><path d="M257.3 276.9L252.5 281.7L250.6 275.7Z" fill="#7bff84"/>
<path d="M261.6 283.7L270.4 280.9" stroke="#5bffa4" stroke-width="1.3" fill="none"/><path d="M276.2 279.1L271.3 283.9L269.4 277.9Z" fill="#5bffa4"/>
<path d="M280.5 286.0L289.2 283.1" stroke="#5bffa4" stroke-width="1.3" fill="none"/><path d="M295.0 281.3L290.2 286.1L288.2 280.1Z" fill="#5bffa4"/>
<path d="M299.0 288.3L308.0 285.4" stroke="#b0ff4f" stroke-width="1.3" fill="none"/><path d="M313.8 283.5L309.0 288.4L307.1 282.4Z" fill="#b0ff4f"/>
<path d="M318.2 290.7L326.9 287.7" stroke="#72ff8d" stroke-width="1.3" fill="none"/><path d="M332.7 285.7L327.9 290.7L325.9 284.7Z" fill="#72ff8d"/>
<path d="M337.0 293.0L345.7 289.9" stroke="#6bff94" stroke-width="1.3" fill="none"/><path d="M351.5 287.9L346.8 292.9L344.7 286.9Z" fill="#6bff94"/>
<path d="M356.1 295.4L364.6 292.2" stroke="#4affb5" stroke-width="1.3" fill="none"/><path d="M370.3 290.1L365.7 295.2L363.5 289.3Z" fill="#4affb5"/>
<path d="M374.9 297.4L383.4 294.3" stroke="#3effc1" stroke-width="1.3" fill="none"/><path d="M389.2 292.3L384.5 297.3L382.3 291.4Z" fill="#3effc1"/>
<path d="M393.6 299.4L402.2 296.5" stroke="#53ffac" stroke-width="1.3" fill="none"/><path d="M408.0 294.5L403.2 299.4L401.2 293.5Z" fill="#53ffac"/>
<path d="M412.6 301.9L421.1 298.8" stroke="#3effc1" stroke-width="1.3" fill="none"/><path d="M426.8 296.7L422.2 301.7L420.0 295.8Z" fill="#3effc1"/>
<path d="M431.5 304.2L439.9 301.0" stroke="#37ffc8" stroke-width="1.3" fill="none"/><path d="M445.6 298.9L441.0 303.9L438.8 298.0Z" fill="#37ffc8"/>
<path d="M142.6 290.3L151.4 286.5" stroke="#cbff34" stroke-width="1.3" fill="none"/><path d="M157.0 284.1L152.6 289.4L150.2 283.7Z" fill="#cbff34"/>
<path d="M161.1 292.2L170.2 288.6" stroke="#fbff04" stroke-width="1.3" fill="none"/><path d="M175.8 286.3L171.3 291.5L169.0 285.7Z" fill="#fbff04"/>
<path d="M179.6 294.4L189.0 290.7" stroke="#ffc500" stroke-width="1.3" fill="none"/><path d="M194.7 288.5L190.1 293.7L187.8 287.8Z" fill="#ffc500"/>
<path d="M198.5 296.2L207.8 292.8" stroke="#ffe700" stroke-width="1.3" fill="none"/><path d="M213.5 290.8L208.8 295.8L206.7 289.9Z" fill="#ffe700"/>
<path d="M218.0 298.6L226.6 295.2" stroke="#74ff8b" stroke-width="1.3" fill="none"/><path d="M232.3 292.9L227.8 298.1L225.5 292.3Z" fill="#74ff8b"/>
<path d="M236.8 300.2L245.4 297.2" stroke="#54ffab" stroke-width="1.3" fill="none"/><path d="M251.2 295.1L246.4 300.1L244.4 294.2Z" fill="#54ffab"/>
<path d="M255.6 302.5L264.2 299.4" stroke="#5fffa0" stroke-width="1.3" fill="none"/><path d="M270.0 297.3L265.3 302.4L263.2 296.4Z" fill="#5fffa0"/>
<path d="M274.6 305.0L283.1 301.8" stroke="#4effb1" stroke-width="1.3" fill="none"/><path d="M288.8 299.5L284.3 304.7L282.0 298.8Z" fill="#4effb1"/>
<path d="M293.2 307.4L302.0 304.0" stroke="#a1ff5e" stroke-width="1.3" fill="none"/><path d="M307.6 301.8L303.1 306.9L300.8 301.0Z" fill="#a1ff5e"/>
<path d="M311.6 309.3L320.7 306.0" stroke="#e2ff1d" stroke-width="1.3" fill="none"/><path d="M326.5 303.9L321.8 309.0L319.7 303.1Z" fill="#e2ff1d"/>
<path d="M330.4 311.7L339.6 308.3" stroke="#fffa00" stroke-width="1.3" fill="none"/><path d="M345.3 306.1L340.7 311.2L338.5 305.3Z" fill="#fffa00"/>
<path d="M349.9 314.0L358.5 310.6" stroke="#62ff9d" stroke-width="1.3" fill="none"/><path d="M364.1 308.3L359.6 313.5L357.3 307.7Z" fill="#62ff9d"/>
<path d="M368.7 315.7L377.2 312.6" stroke="#4affb5" stroke-width="1.3" fill="none"/><path d="M383.0 310.5L378.3 315.6L376.2 309.7Z" fill="#4affb5"/>
<path d="M387.6 318.0L396.1 314.9" stroke="#2fffd0" stroke-width="1.3" fill="none"/><path d="M401.8 312.8L397.2 317.8L395.0 311.9Z" fill="#2fffd0"/>
<path d="M406.6 320.3L414.9 317.1" stroke="#29ffd6" stroke-width="1.3" fill="none"/><path d="M420.6 314.9L416.0 320.1L413.8 314.2Z" fill="#29ffd6"/>
<path d="M425.5 322.7L433.8 319.4" stroke="#1fffe0" stroke-width="1.3" fill="none"/><path d="M439.5 317.1L434.9 322.3L432.6 316.5Z" fill="#1fffe0"/>
<path d="M136.8 309.8L145.4 305.3" stroke="#e6ff19" stroke-width="1.3" fill="none"/><path d="M150.8 302.4L146.9 308.1L143.9 302.5Z" fill="#e6ff19"/>
<path d="M155.7 311.8L164.2 307.4" stroke="#c7ff38" stroke-width="1.3" fill="none"/><path d="M169.6 304.6L165.7 310.2L162.8 304.6Z" fill="#c7ff38"/>
<path d="M174.2 313.9L183.0 309.5" stroke="#fdff02" stroke-width="1.3" fill="none"/><path d="M188.5 306.8L184.4 312.4L181.6 306.7Z" fill="#fdff02"/>
<path d="M192.8 315.3L201.7 311.5" stroke="#edff12" stroke-width="1.3" fill="none"/><path d="M207.3 309.0L203.0 314.4L200.5 308.6Z" fill="#edff12"/>
<path d="M212.0 317.2L220.5 313.6" stroke="#70ff8f" stroke-width="1.3" fill="none"/><path d="M226.1 311.2L221.7 316.5L219.3 310.7Z" fill="#70ff8f"/>
<path d="M230.9 319.3L239.3 315.8" stroke="#5cffa3" stroke-width="1.3" fill="none"/><path d="M245.0 313.4L240.5 318.7L238.1 312.9Z" fill="#5cffa3"/>
<path d="M249.5 321.3L258.1 317.9" stroke="#81ff7e" stroke-width="1.3" fill="none"/><path d="M263.8 315.6L259.3 320.8L257.0 315.0Z" fill="#81ff7e"/>
<path d="M268.0 323.8L277.0 320.1" stroke="#eaff15" stroke-width="1.3" fill="none"/><path d="M282.6 317.8L278.2 323.1L275.8 317.2Z" fill="#eaff15"/>
<path d="M287.0 325.8L295.8 322.3" stroke="#a7ff58" stroke-width="1.3" fill="none"/><path d="M301.4 320.0L297.0 325.2L294.6 319.4Z" fill="#a7ff58"/>
<path d="M305.8 328.1L314.6 324.5" stroke="#c2ff3d" stroke-width="1.3" fill="none"/><path d="M320.3 322.2L315.8 327.5L313.4 321.6Z" fill="#c2ff3d"/>
<path d="M324.5 330.6L333.5 326.8" stroke="#ffff00" stroke-width="1.3" fill="none"/><path d="M339.1 324.4L334.7 329.7L332.3 323.9Z" fill="#ffff00"/>
<path d="M343.5 332.5L352.3 328.9" stroke="#aaff55" stroke-width="1.3" fill="none"/><path d="M357.9 326.6L353.5 331.8L351.1 326.0Z" fill="#aaff55"/>
<path d="M362.9 334.7L371.1 331.2" stroke="#2dffd2" stroke-width="1.3" fill="none"/><path d="M376.8 328.8L372.4 334.1L369.9 328.3Z" fill="#2dffd2"/>
<path d="M381.8 336.8L390.0 333.4" stroke="#05fffa" stroke-width="1.3" fill="none"/><path d="M395.6 331.0L391.2 336.3L388.8 330.5Z" fill="#05fffa"/>
<path d="M400.4 338.8L408.8 335.5" stroke="#32ffcd" stroke-width="1.3" fill="none"/><path d="M414.4 333.2L409.9 338.4L407.6 332.6Z" fill="#32ffcd"/>
<path d="M419.5 341.1L427.6 337.8" stroke="#05fffa" stroke-width="1.3" fill="none"/><path d="M433.3 335.4L428.8 340.7L426.4 334.9Z" fill="#05fffa"/>
<path d="M130.7 328.1L139.2 323.6" stroke="#cbff34" stroke-width="1.3" fill="none"/><path d="M144.6 320.7L140.7 326.4L137.8 320.8Z" fill="#cbff34"/>
<path d="M149.6 329.7L158.0 325.6" stroke="#86ff79" stroke-width="1.3" fill="none"/><path d="M163.5 322.9L159.4 328.4L156.6 322.8Z" fill="#86ff79"/>
<path d="M168.4 331.7L176.8 327.7" stroke="#79ff86" stroke-width="1.3" fill="none"/><path d="M182.3 325.1L178.1 330.6L175.4 324.9Z" fill="#79ff86"/>
<path d="M187.5 334.1L195.6 330.0" stroke="#55ffaa" stroke-width="1.3" fill="none"/><path d="M201.1 327.3L197.0 332.9L194.2 327.2Z" fill="#55ffaa"/>
<path d="M205.8 335.8L214.4 332.0" stroke="#91ff6e" stroke-width="1.3" fill="none"/><path d="M219.9 329.5L215.6 334.9L213.1 329.1Z" fill="#91ff6e"/>
<path d="M224.5 338.1L233.2 334.2" stroke="#bcff43" stroke-width="1.3" fill="none"/><path d="M238.8 331.7L234.5 337.1L231.9 331.3Z" fill="#bcff43"/>
<path d="M243.1 340.2L252.0 336.3" stroke="#d8ff27" stroke-width="1.3" fill="none"/><path d="M257.6 333.9L253.2 339.2L250.8 333.4Z" fill="#d8ff27"/>
<path d="M261.9 342.2L270.8 338.5" stroke="#d5ff2a" stroke-width="1.3" fill="none"/><path d="M276.4 336.1L272.0 341.4L269.6 335.6Z" fill="#d5ff2a"/>
<path d="M280.7 344.5L289.6 340.7" stroke="#dfff20" stroke-width="1.3" fill="none"/><path d="M295.3 338.3L290.9 343.6L288.4 337.8Z" fill="#dfff20"/>
<path d="M299.2 346.6L308.4 342.8" stroke="#ffdb00" stroke-width="1.3" fill="none"/><path d="M314.1 340.5L309.6 345.7L307.3 339.9Z" fill="#ffdb00"/>
<path d="M318.2 348.7L327.3 345.0" stroke="#fdff02" stroke-width="1.3" fill="none"/><path d="M332.9 342.7L328.5 347.9L326.1 342.1Z" fill="#fdff02"/>
<path d="M337.4 351.0L346.1 347.3" stroke="#b7ff48" stroke-width="1.3" fill="none"/><path d="M351.8 344.9L347.3 350.2L344.9 344.4Z" fill="#b7ff48"/>
<path d="M356.4 353.0L365.0 349.5" stroke="#6eff91" stroke-width="1.3" fill="none"/><path d="M370.6 347.1L366.2 352.4L363.7 346.6Z" fill="#6eff91"/>
<path d="M375.5 355.4L383.8 351.8" stroke="#45ffba" stroke-width="1.3" fill="none"/><path d="M389.4 349.3L385.1 354.6L382.6 348.9Z" fill="#45ffba"/>
<path d="M394.2 357.2L402.6 353.8" stroke="#35ffca" stroke-width="1.3" fill="none"/><path d="M408.2 351.5L403.8 356.7L401.4 350.9Z" fill="#35ffca"/>
<path d="M413.3 359.9L421.5 356.2" stroke="#28ffd7" stroke-width="1.3" fill="none"/><path d="M427.1 353.7L422.8 359.1L420.2 353.3Z" fill="#28ffd7"/>
<path d="M124.8 346.5L133.1 342.0" stroke="#a7ff58" stroke-width="1.3" fill="none"/><path d="M138.4 339.0L134.6 344.7L131.6 339.2Z" fill="#a7ff58"/>
<path d="M143.7 348.2L151.8 344.0" stroke="#51ffae" stroke-width="1.3" fill="none"/><path d="M157.3 341.2L153.3 346.8L150.4 341.2Z" fill="#51ffae"/>
<path d="M162.4 350.1L170.6 346.1" stroke="#57ffa8" stroke-width="1.3" fill="none"/><path d="M176.1 343.4L172.0 348.9L169.2 343.3Z" fill="#57ffa8"/>
<path d="M181.2 352.5L189.5 348.4" stroke="#81ff7e" stroke-width="1.3" fill="none"/><path d="M194.9 345.6L190.9 351.2L188.1 345.5Z" fill="#81ff7e"/>
<path d="M199.5 354.4L208.2 350.4" stroke="#c4ff3b" stroke-width="1.3" fill="none"/><path d="M213.8 347.8L209.5 353.2L206.9 347.5Z" fill="#c4ff3b"/>
<path d="M218.3 356.4L227.0 352.5" stroke="#c4ff3b" stroke-width="1.3" fill="none"/><path d="M232.6 350.0L228.3 355.4L225.7 349.6Z" fill="#c4ff3b"/>
<path d="M237.0 358.8L245.9 354.7" stroke="#f4ff0b" stroke-width="1.3" fill="none"/><path d="M251.4 352.2L247.1 357.6L244.6 351.9Z" fill="#f4ff0b"/>
<path d="M255.8 361.0L264.7 357.0" stroke="#f4ff0b" stroke-width="1.3" fill="none"/><path d="M270.2 354.4L266.0 359.8L263.4 354.1Z" fill="#f4ff0b"/>
<path d="M274.6 363.3L283.5 359.2" stroke="#fff900" stroke-width="1.3" fill="none"/><path d="M289.1 356.6L284.8 362.0L282.2 356.3Z" fill="#fff900"/>
<path d="M293.3 365.2L302.3 361.3" stroke="#ffe900" stroke-width="1.3" fill="none"/><path d="M307.9 358.8L303.6 364.2L301.0 358.4Z" fill="#ffe900"/>
<path d="M312.2 367.4L321.2 363.5" stroke="#f2ff0d" stroke-width="1.3" fill="none"/><path d="M326.7 361.0L322.4 366.4L319.9 360.6Z" fill="#f2ff0d"/>
<path d="M331.4 369.7L340.0 365.8" stroke="#b4ff4b" stroke-width="1.3" fill="none"/><path d="M345.6 363.2L341.3 368.6L338.7 362.9Z" fill="#b4ff4b"/>
<path d="M350.6 371.8L358.9 368.0" stroke="#49ffb6" stroke-width="1.3" fill="none"/><path d="M364.4 365.4L360.2 370.9L357.5 365.1Z" fill="#49ffb6"/>
<path d="M369.3 373.5L377.6 370.0" stroke="#37ffc8" stroke-width="1.3" fill="none"/><path d="M383.2 367.6L378.8 372.9L376.4 367.1Z" fill="#37ffc8"/>
<path d="M388.3 376.2L396.5 372.4" stroke="#4fffb0" stroke-width="1.3" fill="none"/><path d="M402.0 369.8L397.8 375.2L395.2 369.5Z" fill="#4fffb0"/>
<path d="M406.9 378.0L415.3 374.4" stroke="#46ffb9" stroke-width="1.3" fill="none"/><path d="M420.9 372.0L416.5 377.3L414.0 371.5Z" fill="#46ffb9"/>
<path d="M119.1 365.0L127.0 360.4" stroke="#59ffa6" stroke-width="1.3" fill="none"/><path d="M132.2 357.3L128.6 363.1L125.4 357.7Z" fill="#59ffa6"/>
<path d="M137.5 366.8L145.7 362.4" stroke="#84ff7b" stroke-width="1.3" fill="none"/><path d="M151.1 359.5L147.2 365.2L144.2 359.6Z" fill="#84ff7b"/>
<path d="M156.2 369.3L164.6 364.7" stroke="#c1ff3e" stroke-width="1.3" fill="none"/><path d="M169.9 361.7L166.1 367.4L163.0 361.9Z" fill="#c1ff3e"/>
<path d="M174.8 371.4L183.4 366.8" stroke="#f5ff0a" stroke-width="1.3" fill="none"/><path d="M188.7 363.9L184.9 369.6L181.9 364.0Z" fill="#f5ff0a"/>
<path d="M193.6 373.3L202.1 368.9" stroke="#ccff33" stroke-width="1.3" fill="none"/><path d="M207.6 366.1L203.6 371.7L200.7 366.1Z" fill="#ccff33"/>
<path d="M212.2 374.9L220.9 370.9" stroke="#bdff42" stroke-width="1.3" fill="none"/><path d="M226.4 368.3L222.2 373.7L219.5 368.0Z" fill="#bdff42"/>
<path d="M231.1 377.1L239.7 373.1" stroke="#b6ff49" stroke-width="1.3" fill="none"/><path d="M245.2 370.5L241.0 375.9L238.4 370.2Z" fill="#b6ff49"/>
<path d="M250.1 379.5L258.6 375.4" stroke="#a3ff5c" stroke-width="1.3" fill="none"/><path d="M264.1 372.7L259.9 378.2L257.2 372.5Z" fill="#a3ff5c"/>
<path d="M268.9 381.9L277.4 377.6" stroke="#c1ff3e" stroke-width="1.3" fill="none"/><path d="M282.9 374.9L278.8 380.5L276.0 374.8Z" fill="#c1ff3e"/>
<path d="M287.4 383.5L296.1 379.6" stroke="#cbff34" stroke-width="1.3" fill="none"/><path d="M301.7 377.1L297.4 382.5L294.9 376.7Z" fill="#cbff34"/>
<path d="M306.2 385.7L315.0 381.8" stroke="#c2ff3d" stroke-width="1.3" fill="none"/><path d="M320.5 379.3L316.3 384.7L313.7 378.9Z" fill="#c2ff3d"/>
<path d="M325.3 387.9L333.8 384.0" stroke="#96ff69" stroke-width="1.3" fill="none"/><path d="M339.4 381.5L335.1 386.9L332.5 381.2Z" fill="#96ff69"/>
<path d="M344.4 390.0L352.6 386.2" stroke="#50ffaf" stroke-width="1.3" fill="none"/><path d="M358.2 383.7L354.0 389.1L351.3 383.4Z" fill="#50ffaf"/>
<path d="M363.3 392.5L371.5 388.6" stroke="#4cffb3" stroke-width="1.3" fill="none"/><path d="M377.0 385.9L372.9 391.4L370.2 385.7Z" fill="#4cffb3"/>
<path d="M382.0 394.3L390.3 390.6" stroke="#53ffac" stroke-width="1.3" fill="none"/><path d="M395.9 388.1L391.6 393.5L389.0 387.7Z" fill="#53ffac"/>
<path d="M400.7 397.0L409.2 392.9" stroke="#9fff60" stroke-width="1.3" fill="none"/><path d="M414.7 390.3L410.5 395.8L407.8 390.1Z" fill="#9fff60"/>
<path d="M112.6 382.9L120.7 378.5" stroke="#5dffa2" stroke-width="1.3" fill="none"/><path d="M126.0 375.6L122.2 381.3L119.2 375.7Z" fill="#5dffa2"/>
<path d="M130.9 384.9L139.4 380.6" stroke="#c1ff3e" stroke-width="1.3" fill="none"/><path d="M144.9 377.8L140.9 383.4L138.0 377.8Z" fill="#c1ff3e"/>
<path d="M149.7 387.1L158.3 382.8" stroke="#caff35" stroke-width="1.3" fill="none"/><path d="M163.7 380.0L159.7 385.6L156.8 380.0Z" fill="#caff35"/>
<path d="M168.2 389.4L177.1 384.9" stroke="#ffe000" stroke-width="1.3" fill="none"/><path d="M182.5 382.2L178.5 387.8L175.7 382.1Z" fill="#ffe000"/>
<path d="M187.4 391.5L195.9 387.1" stroke="#c6ff39" stroke-width="1.3" fill="none"/><path d="M201.4 384.4L197.3 390.0L194.5 384.3Z" fill="#c6ff39"/>
<path d="M206.2 393.0L214.7 389.1" stroke="#7dff82" stroke-width="1.3" fill="none"/><path d="M220.2 386.6L216.0 392.0L213.3 386.3Z" fill="#7dff82"/>
<path d="M225.2 395.2L233.5 391.4" stroke="#55ffaa" stroke-width="1.3" fill="none"/><path d="M239.0 388.8L234.8 394.2L232.2 388.5Z" fill="#55ffaa"/>
<path d="M244.0 397.3L252.3 393.5" stroke="#54ffab" stroke-width="1.3" fill="none"/><path d="M257.9 391.0L253.6 396.4L251.0 390.6Z" fill="#54ffab"/>
<path d="M262.9 400.0L271.2 395.9" stroke="#6eff91" stroke-width="1.3" fill="none"/><path d="M276.7 393.2L272.6 398.7L269.8 393.1Z" fill="#6eff91"/>
<path d="M281.5 401.7L290.0 397.9" stroke="#6fff90" stroke-width="1.3" fill="none"/><path d="M295.5 395.4L291.2 400.8L288.7 395.0Z" fill="#6fff90"/>
<path d="M300.1 403.9L308.8 400.1" stroke="#a8ff57" stroke-width="1.3" fill="none"/><path d="M314.3 397.6L310.1 403.0L307.5 397.2Z" fill="#a8ff57"/>
<path d="M319.4 406.5L327.7 402.5" stroke="#73ff8c" stroke-width="1.3" fill="none"/><path d="M333.2 399.8L329.1 405.3L326.3 399.6Z" fill="#73ff8c"/>
<path d="M338.0 408.6L346.5 404.6" stroke="#97ff68" stroke-width="1.3" fill="none"/><path d="M352.0 402.0L347.8 407.4L345.1 401.7Z" fill="#97ff68"/>
<path d="M357.0 410.9L365.3 406.9" stroke="#79ff86" stroke-width="1.3" fill="none"/><path d="M370.8 404.2L366.7 409.7L364.0 404.0Z" fill="#79ff86"/>
<path d="M375.4 412.8L384.1 408.9" stroke="#bcff43" stroke-width="1.3" fill="none"/><path d="M389.7 406.4L385.4 411.8L382.8 406.0Z" fill="#bcff43"/>
<path d="M394.6 414.8L402.9 411.1" stroke="#54ffab" stroke-width="1.3" fill="none"/><path d="M408.5 408.6L404.2 413.9L401.6 408.2Z" fill="#54ffab"/>
<path d="M105.9 401.1L114.4 396.7" stroke="#c9ff36" stroke-width="1.3" fill="none"/><path d="M119.9 393.9L115.9 399.5L113.0 393.9Z" fill="#c9ff36"/>
<path d="M124.6 403.1L133.2 398.8" stroke="#dbff24" stroke-width="1.3" fill="none"/><path d="M138.7 396.1L134.6 401.6L131.8 396.0Z" fill="#dbff24"/>
<path d="M143.2 405.2L152.0 401.0" stroke="#faff05" stroke-width="1.3" fill="none"/><path d="M157.5 398.3L153.4 403.8L150.7 398.1Z" fill="#faff05"/>
<path d="M162.2 407.3L170.9 403.1" stroke="#d5ff2a" stroke-width="1.3" fill="none"/><path d="M176.3 400.5L172.2 406.0L169.5 400.3Z" fill="#d5ff2a"/>
<path d="M181.1 409.3L189.7 405.3" stroke="#a0ff5f" stroke-width="1.3" fill="none"/><path d="M195.2 402.7L191.0 408.1L188.3 402.4Z" fill="#a0ff5f"/>
<path d="M200.4 411.5L208.5 407.6" stroke="#3cffc3" stroke-width="1.3" fill="none"/><path d="M214.0 404.9L209.9 410.4L207.1 404.7Z" fill="#3cffc3"/>
<path d="M219.5 413.5L227.3 409.7" stroke="#00ecff" stroke-width="1.3" fill="none"/><path d="M232.8 407.1L228.7 412.6L226.0 406.9Z" fill="#00ecff"/>
<path d="M238.1 415.3L246.1 411.8" stroke="#00f0ff" stroke-width="1.3" fill="none"/><path d="M251.7 409.3L247.4 414.7L244.8 408.9Z" fill="#00f0ff"/>
<path d="M256.9 418.0L265.0 414.1" stroke="#34ffcb" stroke-width="1.3" fill="none"/><path d="M270.5 411.5L266.3 417.0L263.6 411.3Z" fill="#34ffcb"/>
<path d="M275.7 420.3L283.8 416.4" stroke="#39ffc6" stroke-width="1.3" fill="none"/><path d="M289.3 413.7L285.2 419.2L282.5 413.5Z" fill="#39ffc6"/>
<path d="M294.4 422.0L302.6 418.4" stroke="#2fffd0" stroke-width="1.3" fill="none"/><path d="M308.2 415.9L303.9 421.2L301.3 415.5Z" fill="#2fffd0"/>
<path d="M313.5 424.3L321.4 420.6" stroke="#00f8ff" stroke-width="1.3" fill="none"/><path d="M327.0 418.1L322.8 423.5L320.1 417.8Z" fill="#00f8ff"/>
<path d="M332.4 426.9L340.3 423.0" stroke="#13ffec" stroke-width="1.3" fill="none"/><path d="M345.8 420.3L341.7 425.8L339.0 420.1Z" fill="#13ffec"/>
<path d="M350.9 428.8L359.1 425.0" stroke="#38ffc7" stroke-width="1.3" fill="none"/><path d="M364.6 422.5L360.4 427.9L357.8 422.2Z" fill="#38ffc7"/>
<path d="M369.6 430.9L377.9 427.2" stroke="#4fffb0" stroke-width="1.3" fill="none"/><path d="M383.5 424.7L379.2 430.1L376.6 424.3Z" fill="#4fffb0"/>
<path d="M388.6 433.5L396.8 429.5" stroke="#47ffb8" stroke-width="1.3" fill="none"/><path d="M402.3 426.9L398.2 432.4L395.4 426.7Z" fill="#47ffb8"/>
<path d="M99.8 419.2L108.2 415.0" stroke="#a1ff5e" stroke-width="1.3" fill="none"/><path d="M113.7 412.2L109.7 417.8L106.8 412.1Z" fill="#a1ff5e"/>
<path d="M118.9 421.2L127.0 417.1" stroke="#5affa5" stroke-width="1.3" fill="none"/><path d="M132.5 414.4L128.4 419.9L125.6 414.3Z" fill="#5affa5"/>
<path d="M137.4 423.2L145.8 419.2" stroke="#7eff81" stroke-width="1.3" fill="none"/><path d="M151.3 416.6L147.2 422.1L144.5 416.4Z" fill="#7eff81"/>
<path d="M156.2 425.3L164.6 421.4" stroke="#84ff7b" stroke-width="1.3" fill="none"/><path d="M170.2 418.8L166.0 424.2L163.3 418.5Z" fill="#84ff7b"/>
<path d="M175.4 427.7L183.5 423.7" stroke="#47ffb8" stroke-width="1.3" fill="none"/><path d="M189.0 421.0L184.9 426.5L182.1 420.9Z" fill="#47ffb8"/>
<path d="M194.0 429.8L202.3 425.8" stroke="#6fff90" stroke-width="1.3" fill="none"/><path d="M207.8 423.2L203.7 428.7L201.0 423.0Z" fill="#6fff90"/>
<path d="M212.9 432.0L221.2 428.0" stroke="#67ff98" stroke-width="1.3" fill="none"/><path d="M226.6 425.4L222.5 430.9L219.8 425.2Z" fill="#67ff98"/>
<path d="M231.7 434.1L240.0 430.2" stroke="#68ff97" stroke-width="1.3" fill="none"/><path d="M245.5 427.6L241.3 433.0L238.6 427.3Z" fill="#68ff97"/>
<path d="M250.3 436.1L258.8 432.3" stroke="#71ff8e" stroke-width="1.3" fill="none"/><path d="M264.3 429.8L260.1 435.2L257.5 429.4Z" fill="#71ff8e"/>
<path d="M269.2 438.7L277.6 434.6" stroke="#85ff7a" stroke-width="1.3" fill="none"/><path d="M283.1 432.0L279.0 437.5L276.3 431.8Z" fill="#85ff7a"/>
<path d="M287.9 440.4L296.4 436.6" stroke="#71ff8e" stroke-width="1.3" fill="none"/><path d="M302.0 434.2L297.7 439.5L295.1 433.8Z" fill="#71ff8e"/>
<path d="M307.2 443.1L315.3 439.1" stroke="#49ffb6" stroke-width="1.3" fill="none"/><path d="M320.8 436.4L316.7 441.9L313.9 436.2Z" fill="#49ffb6"/>
<path d="M325.8 444.8L334.1 441.1" stroke="#49ffb6" stroke-width="1.3" fill="none"/><path d="M339.6 438.6L335.4 444.0L332.8 438.2Z" fill="#49ffb6"/>
<path d="M344.6 447.0L352.9 443.3" stroke="#4fffb0" stroke-width="1.3" fill="none"/><path d="M358.5 440.8L354.2 446.1L351.6 440.4Z" fill="#4fffb0"/>
<path d="M363.6 449.7L371.8 445.7" stroke="#66ff99" stroke-width="1.3" fill="none"/><path d="M377.3 443.0L373.2 448.5L370.4 442.8Z" fill="#66ff99"/>
<path d="M382.2 451.5L390.6 447.7" stroke="#70ff8f" stroke-width="1.3" fill="none"/><path d="M396.1 445.2L391.9 450.6L389.3 444.8Z" fill="#70ff8f"/>
</g>
<rect x="91.5" y="95.6" width="418.5" height="362.1" fill="none" stroke="#aaa" stroke-width="0.9"/>
<rect x="95.2" y="99.6" width="411.2" height="353.79999999999995" fill="none" stroke="#aaa" stroke-width="0.9"/>
<g fill="#000"><rect x="118.3" y="95.6" width="61.8" height="4.0"/><rect x="118.3" y="453.4" width="61.8" height="4.3"/><rect x="241.9" y="95.6" width="61.8" height="4.0"/><rect x="241.9" y="453.4" width="61.8" height="4.3"/><rect x="365.5" y="95.6" width="61.8" height="4.0"/><rect x="365.5" y="453.4" width="61.8" height="4.3"/><rect x="489.1" y="95.6" width="17.3" height="4.0"/><rect x="489.1" y="453.4" width="17.3" height="4.3"/><rect x="91.5" y="107.5" width="3.7" height="64.4"/><rect x="506.4" y="107.5" width="3.6" height="64.4"/><rect x="91.5" y="236.2" width="3.7" height="64.4"/><rect x="506.4" y="236.2" width="3.6" height="64.4"/><rect x="91.5" y="365.0" width="3.7" height="64.4"/><rect x="506.4" y="365.0" width="3.6" height="64.4"/></g>
<text x="118.3" y="92.3" font-size="15.3" text-anchor="middle" fill="#111" textLength="41.5" lengthAdjust="spacingAndGlyphs" stroke="#111" stroke-width="0.3">-142.70</text>
<text x="118.3" y="473.7" font-size="15.3" text-anchor="middle" fill="#111" textLength="41.5" lengthAdjust="spacingAndGlyphs" stroke="#111" stroke-width="0.3">-142.70</text>
<text x="241.9" y="92.3" font-size="15.3" text-anchor="middle" fill="#111" textLength="41.5" lengthAdjust="spacingAndGlyphs" stroke="#111" stroke-width="0.3">-142.50</text>
<text x="241.9" y="473.7" font-size="15.3" text-anchor="middle" fill="#111" textLength="41.5" lengthAdjust="spacingAndGlyphs" stroke="#111" stroke-width="0.3">-142.50</text>
<text x="365.5" y="92.3" font-size="15.3" text-anchor="middle" fill="#111" textLength="41.5" lengthAdjust="spacingAndGlyphs" stroke="#111" stroke-width="0.3">-142.30</text>
<text x="365.5" y="473.7" font-size="15.3" text-anchor="middle" fill="#111" textLength="41.5" lengthAdjust="spacingAndGlyphs" stroke="#111" stroke-width="0.3">-142.30</text>
<text x="489.2" y="92.3" font-size="15.3" text-anchor="middle" fill="#111" textLength="41.5" lengthAdjust="spacingAndGlyphs" stroke="#111" stroke-width="0.3">-142.10</text>
<text x="489.2" y="473.7" font-size="15.3" text-anchor="middle" fill="#111" textLength="41.5" lengthAdjust="spacingAndGlyphs" stroke="#111" stroke-width="0.3">-142.10</text>
<text x="87.6" y="107.5" font-size="15.3" text-anchor="middle" fill="#111" textLength="30.7" lengthAdjust="spacingAndGlyphs" transform="rotate(-90.0 87.6 107.5)" stroke="#111" stroke-width="0.3">56.10</text>
<text x="513.8" y="107.5" font-size="15.3" text-anchor="middle" fill="#111" textLength="30.7" lengthAdjust="spacingAndGlyphs" transform="rotate(90.0 513.8 107.5)" stroke="#111" stroke-width="0.3">56.10</text>
<text x="87.6" y="236.2" font-size="15.3" text-anchor="middle" fill="#111" textLength="30.7" lengthAdjust="spacingAndGlyphs" transform="rotate(-90.0 87.6 236.2)" stroke="#111" stroke-width="0.3">55.90</text>
<text x="513.8" y="236.2" font-size="15.3" text-anchor="middle" fill="#111" textLength="30.7" lengthAdjust="spacingAndGlyphs" transform="rotate(90.0 513.8 236.2)" stroke="#111" stroke-width="0.3">55.90</text>
<text x="87.6" y="365.0" font-size="15.3" text-anchor="middle" fill="#111" textLength="30.7" lengthAdjust="spacingAndGlyphs" transform="rotate(-90.0 87.6 365.0)" stroke="#111" stroke-width="0.3">55.70</text>
<text x="513.8" y="365.0" font-size="15.3" text-anchor="middle" fill="#111" textLength="30.7" lengthAdjust="spacingAndGlyphs" transform="rotate(90.0 513.8 365.0)" stroke="#111" stroke-width="0.3">55.70</text>
<path d="M160.6 136.5L126.0 127.3" stroke="#111" stroke-width="1.3" fill="none" stroke-linecap="square"/><path d="M118.5 125.3L130.2 124.1L126.0 127.3L128.1 132.2Z" fill="#111"/>
<path d="M160.6 136.5L147.3 171.6" stroke="#111" stroke-width="1.3" fill="none" stroke-linecap="square"/><path d="M144.5 178.9L144.5 167.1L147.3 171.6L152.3 170.1Z" fill="#111"/>
<text x="145.5" y="129.2" font-size="9.5" text-anchor="middle" fill="#333" transform="rotate(15.5 145.5 129.2)" font-family='"Liberation Sans", "DejaVu Sans", sans-serif'>look</text>
<text x="166.3" y="155.8" font-size="9.5" text-anchor="middle" fill="#333" transform="rotate(-69.2 166.3 155.8)" font-family='"Liberation Sans", "DejaVu Sans", sans-serif'>flight</text>
<path d="M240.6 222.2 L239.8 233.4 C239.5 236.2 236.2 237.6 236.2 241.3 A4.15 4.15 0 1 0 244.5 241.3 C244.5 237.6 241.8 236.2 241.5 233.4 Z" fill="none" stroke="#000" stroke-width="2.1" stroke-linejoin="round"/>
<text x="247.0" y="237.0" font-size="14" text-anchor="start" fill="#000" textLength="33.0" lengthAdjust="spacingAndGlyphs" font-weight="bold" stroke="#000" stroke-width="0.3">Buoy</text>
<text x="266.9" y="501.0" font-size="14.5" text-anchor="middle" fill="#111" stroke="#111" stroke-width="0.3">(a)</text>
<text x="804.4" y="26.0" font-size="19" text-anchor="middle" fill="#111" textLength="140.6" lengthAdjust="spacingAndGlyphs" stroke="#111" stroke-width="0.3">Wind Speed (m/s)</text>
<rect x="611.0" y="36.0" width="384.70000000000005" height="12.799999999999997" fill="url(#jet)" stroke="#111" stroke-width="1.1"/>
<path d="M638.5 36.0v2.2M638.5 48.8v-2.2M666.0 36.0v2.2M666.0 48.8v-2.2M693.4 36.0v2.2M693.4 48.8v-2.2M720.9 36.0v2.2M720.9 48.8v-2.2M748.4 36.0v2.2M748.4 48.8v-2.2M775.9 36.0v2.2M775.9 48.8v-2.2M803.4 36.0v2.2M803.4 48.8v-2.2M830.8 36.0v2.2M830.8 48.8v-2.2M858.3 36.0v2.2M858.3 48.8v-2.2M885.8 36.0v2.2M885.8 48.8v-2.2M913.3 36.0v2.2M913.3 48.8v-2.2M940.7 36.0v2.2M940.7 48.8v-2.2M968.2 36.0v2.2M968.2 48.8v-2.2" stroke="#111" stroke-width="0.9" fill="none"/>
<text x="611.4" y="74.2" font-size="15" text-anchor="middle" fill="#111" stroke="#111" stroke-width="0.3">5</text>
<text x="666.4" y="74.2" font-size="15" text-anchor="middle" fill="#111" stroke="#111" stroke-width="0.3">7</text>
<text x="721.3" y="74.2" font-size="15" text-anchor="middle" fill="#111" stroke="#111" stroke-width="0.3">9</text>
<text x="776.3" y="74.2" font-size="15" text-anchor="middle" fill="#111" textLength="13.8" lengthAdjust="spacingAndGlyphs" stroke="#111" stroke-width="0.3">11</text>
<text x="831.2" y="74.2" font-size="15" text-anchor="middle" fill="#111" textLength="13.8" lengthAdjust="spacingAndGlyphs" stroke="#111" stroke-width="0.3">13</text>
<text x="886.2" y="74.2" font-size="15" text-anchor="middle" fill="#111" textLength="13.8" lengthAdjust="spacingAndGlyphs" stroke="#111" stroke-width="0.3">15</text>
<text x="941.1" y="74.2" font-size="15" text-anchor="middle" fill="#111" textLength="13.8" lengthAdjust="spacingAndGlyphs" stroke="#111" stroke-width="0.3">17</text>
<text x="996.1" y="74.2" font-size="15" text-anchor="middle" fill="#111" textLength="13.8" lengthAdjust="spacingAndGlyphs" stroke="#111" stroke-width="0.3">19</text>
<g clip-path="url(#bclip)"><g filter="url(#bblur)" shape-rendering="crispEdges">
<rect x="581.1" y="66.9" width="15.4" height="15.5" fill="#99ff66"/><rect x="595.9" y="66.9" width="15.4" height="15.5" fill="#99ff66"/><rect x="610.7" y="66.9" width="15.4" height="15.5" fill="#9aff65"/><rect x="625.5" y="66.9" width="15.4" height="15.5" fill="#9dff62"/><rect x="640.3" y="66.9" width="15.4" height="15.5" fill="#a0ff5f"/><rect x="655.1" y="66.9" width="15.4" height="15.5" fill="#a5ff5a"/><rect x="669.9" y="66.9" width="15.4" height="15.5" fill="#a9ff56"/><rect x="684.7" y="66.9" width="15.4" height="15.5" fill="#aeff51"/><rect x="699.5" y="66.9" width="15.4" height="15.5" fill="#b3ff4c"/><rect x="714.3" y="66.9" width="15.4" height="15.5" fill="#bcff43"/><rect x="729.1" y="66.9" width="15.4" height="15.5" fill="#c6ff39"/><rect x="743.9" y="66.9" width="15.4" height="15.5" fill="#d0ff2f"/><rect x="758.7" y="66.9" width="15.4" height="15.5" fill="#daff25"/><rect x="773.5" y="66.9" width="15.4" height="15.5" fill="#e4ff1b"/><rect x="788.3" y="66.9" width="15.4" height="15.5" fill="#e9ff16"/><rect x="803.1" y="66.9" width="15.4" height="15.5" fill="#eeff11"/><rect x="817.8" y="66.9" width="15.4" height="15.5" fill="#f3ff0c"/><rect x="832.6" y="66.9" width="15.4" height="15.5" fill="#f8ff07"/><rect x="847.4" y="66.9" width="15.4" height="15.5" fill="#fdff02"/><rect x="862.2" y="66.9" width="15.4" height="15.5" fill="#feff01"/><rect x="877.0" y="66.9" width="15.4" height="15.5" fill="#fdff02"/><rect x="891.8" y="66.9" width="15.4" height="15.5" fill="#fcff03"/><rect x="906.6" y="66.9" width="15.4" height="15.5" fill="#fbff04"/><rect x="921.4" y="66.9" width="15.4" height="15.5" fill="#f9ff06"/><rect x="936.2" y="66.9" width="15.4" height="15.5" fill="#f5ff0a"/><rect x="951.0" y="66.9" width="15.4" height="15.5" fill="#f0ff0f"/><rect x="965.8" y="66.9" width="15.4" height="15.5" fill="#ecff13"/><rect x="980.6" y="66.9" width="15.4" height="15.5" fill="#e8ff17"/><rect x="995.4" y="66.9" width="15.4" height="15.5" fill="#e5ff1a"/><rect x="1010.2" y="66.9" width="15.4" height="15.5" fill="#e5ff1a"/><rect x="581.1" y="81.8" width="15.4" height="15.5" fill="#99ff66"/><rect x="595.9" y="81.8" width="15.4" height="15.5" fill="#99ff66"/><rect x="610.7" y="81.8" width="15.4" height="15.5" fill="#9aff65"/><rect x="625.5" y="81.8" width="15.4" height="15.5" fill="#9dff62"/><rect x="640.3" y="81.8" width="15.4" height="15.5" fill="#a0ff5f"/><rect x="655.1" y="81.8" width="15.4" height="15.5" fill="#a5ff5a"/><rect x="669.9" y="81.8" width="15.4" height="15.5" fill="#a9ff56"/><rect x="684.7" y="81.8" width="15.4" height="15.5" fill="#aeff51"/><rect x="699.5" y="81.8" width="15.4" height="15.5" fill="#b3ff4c"/><rect x="714.3" y="81.8" width="15.4" height="15.5" fill="#bcff43"/><rect x="729.1" y="81.8" width="15.4" height="15.5" fill="#c6ff39"/><rect x="743.9" y="81.8" width="15.4" height="15.5" fill="#d0ff2f"/><rect x="758.7" y="81.8" width="15.4" height="15.5" fill="#daff25"/><rect x="773.5" y="81.8" width="15.4" height="15.5" fill="#e4ff1b"/><rect x="788.3" y="81.8" width="15.4" height="15.5" fill="#e9ff16"/><rect x="803.1" y="81.8" width="15.4" height="15.5" fill="#eeff11"/><rect x="817.8" y="81.8" width="15.4" height="15.5" fill="#f3ff0c"/><rect x="832.6" y="81.8" width="15.4" height="15.5" fill="#f8ff07"/><rect x="847.4" y="81.8" width="15.4" height="15.5" fill="#fdff02"/><rect x="862.2" y="81.8" width="15.4" height="15.5" fill="#feff01"/><rect x="877.0" y="81.8" width="15.4" height="15.5" fill="#fdff02"/><rect x="891.8" y="81.8" width="15.4" height="15.5" fill="#fcff03"/><rect x="906.6" y="81.8" width="15.4" height="15.5" fill="#fbff04"/><rect x="921.4" y="81.8" width="15.4" height="15.5" fill="#f9ff06"/><rect x="936.2" y="81.8" width="15.4" height="15.5" fill="#f5ff0a"/><rect x="951.0" y="81.8" width="15.4" height="15.5" fill="#f0ff0f"/><rect x="965.8" y="81.8" width="15.4" height="15.5" fill="#ecff13"/><rect x="980.6" y="81.8" width="15.4" height="15.5" fill="#e8ff17"/><rect x="995.4" y="81.8" width="15.4" height="15.5" fill="#e5ff1a"/><rect x="1010.2" y="81.8" width="15.4" height="15.5" fill="#e5ff1a"/><rect x="581.1" y="96.7" width="15.4" height="15.5" fill="#9cff63"/><rect x="595.9" y="96.7" width="15.4" height="15.5" fill="#9cff63"/><rect x="610.7" y="96.7" width="15.4" height="15.5" fill="#9dff62"/><rect x="625.5" y="96.7" width="15.4" height="15.5" fill="#9fff60"/><rect x="640.3" y="96.7" width="15.4" height="15.5" fill="#a3ff5c"/><rect x="655.1" y="96.7" width="15.4" height="15.5" fill="#a7ff58"/><rect x="669.9" y="96.7" width="15.4" height="15.5" fill="#acff53"/><rect x="684.7" y="96.7" width="15.4" height="15.5" fill="#b0ff4f"/><rect x="699.5" y="96.7" width="15.4" height="15.5" fill="#b5ff4a"/><rect x="714.3" y="96.7" width="15.4" height="15.5" fill="#beff41"/><rect x="729.1" y="96.7" width="15.4" height="15.5" fill="#c7ff38"/><rect x="743.9" y="96.7" width="15.4" height="15.5" fill="#d0ff2f"/><rect x="758.7" y="96.7" width="15.4" height="15.5" fill="#d9ff26"/><rect x="773.5" y="96.7" width="15.4" height="15.5" fill="#e2ff1d"/><rect x="788.3" y="96.7" width="15.4" height="15.5" fill="#e7ff18"/><rect x="803.1" y="96.7" width="15.4" height="15.5" fill="#ebff14"/><rect x="817.8" y="96.7" width="15.4" height="15.5" fill="#f0ff0f"/><rect x="832.6" y="96.7" width="15.4" height="15.5" fill="#f4ff0b"/><rect x="847.4" y="96.7" width="15.4" height="15.5" fill="#f8ff07"/><rect x="862.2" y="96.7" width="15.4" height="15.5" fill="#f9ff06"/><rect x="877.0" y="96.7" width="15.4" height="15.5" fill="#f7ff08"/><rect x="891.8" y="96.7" width="15.4" height="15.5" fill="#f6ff09"/><rect x="906.6" y="96.7" width="15.4" height="15.5" fill="#f5ff0a"/><rect x="921.4" y="96.7" width="15.4" height="15.5" fill="#f3ff0c"/><rect x="936.2" y="96.7" width="15.4" height="15.5" fill="#efff10"/><rect x="951.0" y="96.7" width="15.4" height="15.5" fill="#ebff14"/><rect x="965.8" y="96.7" width="15.4" height="15.5" fill="#e7ff18"/><rect x="980.6" y="96.7" width="15.4" height="15.5" fill="#e3ff1c"/><rect x="995.4" y="96.7" width="15.4" height="15.5" fill="#e1ff1e"/><rect x="1010.2" y="96.7" width="15.4" height="15.5" fill="#e1ff1e"/><rect x="581.1" y="111.6" width="15.4" height="15.5" fill="#a1ff5e"/><rect x="595.9" y="111.6" width="15.4" height="15.5" fill="#a1ff5e"/><rect x="610.7" y="111.6" width="15.4" height="15.5" fill="#a2ff5d"/><rect x="625.5" y="111.6" width="15.4" height="15.5" fill="#a5ff5a"/><rect x="640.3" y="111.6" width="15.4" height="15.5" fill="#a8ff57"/><rect x="655.1" y="111.6" width="15.4" height="15.5" fill="#acff53"/><rect x="669.9" y="111.6" width="15.4" height="15.5" fill="#b0ff4f"/><rect x="684.7" y="111.6" width="15.4" height="15.5" fill="#b5ff4a"/><rect x="699.5" y="111.6" width="15.4" height="15.5" fill="#b9ff46"/><rect x="714.3" y="111.6" width="15.4" height="15.5" fill="#c1ff3e"/><rect x="729.1" y="111.6" width="15.4" height="15.5" fill="#c8ff37"/><rect x="743.9" y="111.6" width="15.4" height="15.5" fill="#d0ff2f"/><rect x="758.7" y="111.6" width="15.4" height="15.5" fill="#d8ff27"/><rect x="773.5" y="111.6" width="15.4" height="15.5" fill="#dfff20"/><rect x="788.3" y="111.6" width="15.4" height="15.5" fill="#e3ff1c"/><rect x="803.1" y="111.6" width="15.4" height="15.5" fill="#e6ff19"/><rect x="817.8" y="111.6" width="15.4" height="15.5" fill="#e8ff17"/><rect x="832.6" y="111.6" width="15.4" height="15.5" fill="#ebff14"/><rect x="847.4" y="111.6" width="15.4" height="15.5" fill="#eeff11"/><rect x="862.2" y="111.6" width="15.4" height="15.5" fill="#eeff11"/><rect x="877.0" y="111.6" width="15.4" height="15.5" fill="#ecff13"/><rect x="891.8" y="111.6" width="15.4" height="15.5" fill="#eaff15"/><rect x="906.6" y="111.6" width="15.4" height="15.5" fill="#e8ff17"/><rect x="921.4" y="111.6" width="15.4" height="15.5" fill="#e6ff19"/><rect x="936.2" y="111.6" width="15.4" height="15.5" fill="#e3ff1c"/><rect x="951.0" y="111.6" width="15.4" height="15.5" fill="#dfff20"/><rect x="965.8" y="111.6" width="15.4" height="15.5" fill="#dcff23"/><rect x="980.6" y="111.6" width="15.4" height="15.5" fill="#d9ff26"/><rect x="995.4" y="111.6" width="15.4" height="15.5" fill="#d7ff28"/><rect x="1010.2" y="111.6" width="15.4" height="15.5" fill="#d7ff28"/><rect x="581.1" y="126.5" width="15.4" height="15.5" fill="#a6ff59"/><rect x="595.9" y="126.5" width="15.4" height="15.5" fill="#a6ff59"/><rect x="610.7" y="126.5" width="15.4" height="15.5" fill="#a8ff57"/><rect x="625.5" y="126.5" width="15.4" height="15.5" fill="#aaff55"/><rect x="640.3" y="126.5" width="15.4" height="15.5" fill="#adff52"/><rect x="655.1" y="126.5" width="15.4" height="15.5" fill="#b1ff4e"/><rect x="669.9" y="126.5" width="15.4" height="15.5" fill="#b5ff4a"/><rect x="684.7" y="126.5" width="15.4" height="15.5" fill="#b9ff46"/><rect x="699.5" y="126.5" width="15.4" height="15.5" fill="#bdff42"/><rect x="714.3" y="126.5" width="15.4" height="15.5" fill="#c3ff3c"/><rect x="729.1" y="126.5" width="15.4" height="15.5" fill="#caff35"/><rect x="743.9" y="126.5" width="15.4" height="15.5" fill="#d0ff2f"/><rect x="758.7" y="126.5" width="15.4" height="15.5" fill="#d6ff29"/><rect x="773.5" y="126.5" width="15.4" height="15.5" fill="#dcff23"/><rect x="788.3" y="126.5" width="15.4" height="15.5" fill="#dfff20"/><rect x="803.1" y="126.5" width="15.4" height="15.5" fill="#e0ff1f"/><rect x="817.8" y="126.5" width="15.4" height="15.5" fill="#e1ff1e"/><rect x="832.6" y="126.5" width="15.4" height="15.5" fill="#e3ff1c"/><rect x="847.4" y="126.5" width="15.4" height="15.5" fill="#e4ff1b"/><rect x="862.2" y="126.5" width="15.4" height="15.5" fill="#e3ff1c"/><rect x="877.0" y="126.5" width="15.4" height="15.5" fill="#e1ff1e"/><rect x="891.8" y="126.5" width="15.4" height="15.5" fill="#deff21"/><rect x="906.6" y="126.5" width="15.4" height="15.5" fill="#dcff23"/><rect x="921.4" y="126.5" width="15.4" height="15.5" fill="#daff25"/><rect x="936.2" y="126.5" width="15.4" height="15.5" fill="#d7ff28"/><rect x="951.0" y="126.5" width="15.4" height="15.5" fill="#d4ff2b"/><rect x="965.8" y="126.5" width="15.4" height="15.5" fill="#d2ff2d"/><rect x="980.6" y="126.5" width="15.4" height="15.5" fill="#cfff30"/><rect x="995.4" y="126.5" width="15.4" height="15.5" fill="#ceff31"/><rect x="1010.2" y="126.5" width="15.4" height="15.5" fill="#ceff31"/><rect x="581.1" y="141.5" width="15.4" height="15.5" fill="#acff53"/><rect x="595.9" y="141.5" width="15.4" height="15.5" fill="#acff53"/><rect x="610.7" y="141.5" width="15.4" height="15.5" fill="#adff52"/><rect x="625.5" y="141.5" width="15.4" height="15.5" fill="#afff50"/><rect x="640.3" y="141.5" width="15.4" height="15.5" fill="#b2ff4d"/><rect x="655.1" y="141.5" width="15.4" height="15.5" fill="#b6ff49"/><rect x="669.9" y="141.5" width="15.4" height="15.5" fill="#baff45"/><rect x="684.7" y="141.5" width="15.4" height="15.5" fill="#beff41"/><rect x="699.5" y="141.5" width="15.4" height="15.5" fill="#c1ff3e"/><rect x="714.3" y="141.5" width="15.4" height="15.5" fill="#c6ff39"/><rect x="729.1" y="141.5" width="15.4" height="15.5" fill="#cbff34"/><rect x="743.9" y="141.5" width="15.4" height="15.5" fill="#d0ff2f"/><rect x="758.7" y="141.5" width="15.4" height="15.5" fill="#d5ff2a"/><rect x="773.5" y="141.5" width="15.4" height="15.5" fill="#d9ff26"/><rect x="788.3" y="141.5" width="15.4" height="15.5" fill="#daff25"/><rect x="803.1" y="141.5" width="15.4" height="15.5" fill="#daff25"/><rect x="817.8" y="141.5" width="15.4" height="15.5" fill="#daff25"/><rect x="832.6" y="141.5" width="15.4" height="15.5" fill="#daff25"/><rect x="847.4" y="141.5" width="15.4" height="15.5" fill="#daff25"/><rect x="862.2" y="141.5" width="15.4" height="15.5" fill="#d8ff27"/><rect x="877.0" y="141.5" width="15.4" height="15.5" fill="#d5ff2a"/><rect x="891.8" y="141.5" width="15.4" height="15.5" fill="#d2ff2d"/><rect x="906.6" y="141.5" width="15.4" height="15.5" fill="#d0ff2f"/><rect x="921.4" y="141.5" width="15.4" height="15.5" fill="#cdff32"/><rect x="936.2" y="141.5" width="15.4" height="15.5" fill="#cbff34"/><rect x="951.0" y="141.5" width="15.4" height="15.5" fill="#c9ff36"/><rect x="965.8" y="141.5" width="15.4" height="15.5" fill="#c7ff38"/><rect x="980.6" y="141.5" width="15.4" height="15.5" fill="#c5ff3a"/><rect x="995.4" y="141.5" width="15.4" height="15.5" fill="#c4ff3b"/><rect x="1010.2" y="141.5" width="15.4" height="15.5" fill="#c4ff3b"/><rect x="581.1" y="156.4" width="15.4" height="15.5" fill="#b1ff4e"/><rect x="595.9" y="156.4" width="15.4" height="15.5" fill="#b1ff4e"/><rect x="610.7" y="156.4" width="15.4" height="15.5" fill="#b2ff4d"/><rect x="625.5" y="156.4" width="15.4" height="15.5" fill="#b5ff4a"/><rect x="640.3" y="156.4" width="15.4" height="15.5" fill="#b7ff48"/><rect x="655.1" y="156.4" width="15.4" height="15.5" fill="#bbff44"/><rect x="669.9" y="156.4" width="15.4" height="15.5" fill="#bfff40"/><rect x="684.7" y="156.4" width="15.4" height="15.5" fill="#c2ff3d"/><rect x="699.5" y="156.4" width="15.4" height="15.5" fill="#c6ff39"/><rect x="714.3" y="156.4" width="15.4" height="15.5" fill="#c9ff36"/><rect x="729.1" y="156.4" width="15.4" height="15.5" fill="#ccff33"/><rect x="743.9" y="156.4" width="15.4" height="15.5" fill="#d0ff2f"/><rect x="758.7" y="156.4" width="15.4" height="15.5" fill="#d3ff2c"/><rect x="773.5" y="156.4" width="15.4" height="15.5" fill="#d6ff29"/><rect x="788.3" y="156.4" width="15.4" height="15.5" fill="#d6ff29"/><rect x="803.1" y="156.4" width="15.4" height="15.5" fill="#d4ff2b"/><rect x="817.8" y="156.4" width="15.4" height="15.5" fill="#d3ff2c"/><rect x="832.6" y="156.4" width="15.4" height="15.5" fill="#d1ff2e"/><rect x="847.4" y="156.4" width="15.4" height="15.5" fill="#d0ff2f"/><rect x="862.2" y="156.4" width="15.4" height="15.5" fill="#cdff32"/><rect x="877.0" y="156.4" width="15.4" height="15.5" fill="#caff35"/><rect x="891.8" y="156.4" width="15.4" height="15.5" fill="#c7ff38"/><rect x="906.6" y="156.4" width="15.4" height="15.5" fill="#c3ff3c"/><rect x="921.4" y="156.4" width="15.4" height="15.5" fill="#c0ff3f"/><rect x="936.2" y="156.4" width="15.4" height="15.5" fill="#bfff40"/><rect x="951.0" y="156.4" width="15.4" height="15.5" fill="#beff41"/><rect x="965.8" y="156.4" width="15.4" height="15.5" fill="#bcff43"/><rect x="980.6" y="156.4" width="15.4" height="15.5" fill="#bbff44"/><rect x="995.4" y="156.4" width="15.4" height="15.5" fill="#baff45"/><rect x="1010.2" y="156.4" width="15.4" height="15.5" fill="#baff45"/><rect x="581.1" y="171.3" width="15.4" height="15.5" fill="#c1ff3e"/><rect x="595.9" y="171.3" width="15.4" height="15.5" fill="#c1ff3e"/><rect x="610.7" y="171.3" width="15.4" height="15.5" fill="#c2ff3d"/><rect x="625.5" y="171.3" width="15.4" height="15.5" fill="#c2ff3d"/><rect x="640.3" y="171.3" width="15.4" height="15.5" fill="#c3ff3c"/><rect x="655.1" y="171.3" width="15.4" height="15.5" fill="#c5ff3a"/><rect x="669.9" y="171.3" width="15.4" height="15.5" fill="#c8ff37"/><rect x="684.7" y="171.3" width="15.4" height="15.5" fill="#caff35"/><rect x="699.5" y="171.3" width="15.4" height="15.5" fill="#ccff33"/><rect x="714.3" y="171.3" width="15.4" height="15.5" fill="#ceff31"/><rect x="729.1" y="171.3" width="15.4" height="15.5" fill="#cfff30"/><rect x="743.9" y="171.3" width="15.4" height="15.5" fill="#d1ff2e"/><rect x="758.7" y="171.3" width="15.4" height="15.5" fill="#d3ff2c"/><rect x="773.5" y="171.3" width="15.4" height="15.5" fill="#d4ff2b"/><rect x="788.3" y="171.3" width="15.4" height="15.5" fill="#d2ff2d"/><rect x="803.1" y="171.3" width="15.4" height="15.5" fill="#ceff31"/><rect x="817.8" y="171.3" width="15.4" height="15.5" fill="#cbff34"/><rect x="832.6" y="171.3" width="15.4" height="15.5" fill="#c7ff38"/><rect x="847.4" y="171.3" width="15.4" height="15.5" fill="#c4ff3b"/><rect x="862.2" y="171.3" width="15.4" height="15.5" fill="#c1ff3e"/><rect x="877.0" y="171.3" width="15.4" height="15.5" fill="#beff41"/><rect x="891.8" y="171.3" width="15.4" height="15.5" fill="#bcff43"/><rect x="906.6" y="171.3" width="15.4" height="15.5" fill="#baff45"/><rect x="921.4" y="171.3" width="15.4" height="15.5" fill="#b7ff48"/><rect x="936.2" y="171.3" width="15.4" height="15.5" fill="#b7ff48"/><rect x="951.0" y="171.3" width="15.4" height="15.5" fill="#b6ff49"/><rect x="965.8" y="171.3" width="15.4" height="15.5" fill="#b5ff4a"/><rect x="980.6" y="171.3" width="15.4" height="15.5" fill="#b4ff4b"/><rect x="995.4" y="171.3" width="15.4" height="15.5" fill="#b4ff4b"/><rect x="1010.2" y="171.3" width="15.4" height="15.5" fill="#b4ff4b"/><rect x="581.1" y="186.2" width="15.4" height="15.5" fill="#d7ff28"/><rect x="595.9" y="186.2" width="15.4" height="15.5" fill="#d7ff28"/><rect x="610.7" y="186.2" width="15.4" height="15.5" fill="#d5ff2a"/><rect x="625.5" y="186.2" width="15.4" height="15.5" fill="#d2ff2d"/><rect x="640.3" y="186.2" width="15.4" height="15.5" fill="#d1ff2e"/><rect x="655.1" y="186.2" width="15.4" height="15.5" fill="#d2ff2d"/><rect x="669.9" y="186.2" width="15.4" height="15.5" fill="#d2ff2d"/><rect x="684.7" y="186.2" width="15.4" height="15.5" fill="#d3ff2c"/><rect x="699.5" y="186.2" width="15.4" height="15.5" fill="#d4ff2b"/><rect x="714.3" y="186.2" width="15.4" height="15.5" fill="#d3ff2c"/><rect x="729.1" y="186.2" width="15.4" height="15.5" fill="#d3ff2c"/><rect x="743.9" y="186.2" width="15.4" height="15.5" fill="#d3ff2c"/><rect x="758.7" y="186.2" width="15.4" height="15.5" fill="#d3ff2c"/><rect x="773.5" y="186.2" width="15.4" height="15.5" fill="#d3ff2c"/><rect x="788.3" y="186.2" width="15.4" height="15.5" fill="#ceff31"/><rect x="803.1" y="186.2" width="15.4" height="15.5" fill="#c8ff37"/><rect x="817.8" y="186.2" width="15.4" height="15.5" fill="#c2ff3d"/><rect x="832.6" y="186.2" width="15.4" height="15.5" fill="#bdff42"/><rect x="847.4" y="186.2" width="15.4" height="15.5" fill="#b7ff48"/><rect x="862.2" y="186.2" width="15.4" height="15.5" fill="#b4ff4b"/><rect x="877.0" y="186.2" width="15.4" height="15.5" fill="#b3ff4c"/><rect x="891.8" y="186.2" width="15.4" height="15.5" fill="#b2ff4d"/><rect x="906.6" y="186.2" width="15.4" height="15.5" fill="#b1ff4e"/><rect x="921.4" y="186.2" width="15.4" height="15.5" fill="#b0ff4f"/><rect x="936.2" y="186.2" width="15.4" height="15.5" fill="#b0ff4f"/><rect x="951.0" y="186.2" width="15.4" height="15.5" fill="#afff50"/><rect x="965.8" y="186.2" width="15.4" height="15.5" fill="#afff50"/><rect x="980.6" y="186.2" width="15.4" height="15.5" fill="#afff50"/><rect x="995.4" y="186.2" width="15.4" height="15.5" fill="#afff50"/><rect x="1010.2" y="186.2" width="15.4" height="15.5" fill="#afff50"/><rect x="581.1" y="201.2" width="15.4" height="15.5" fill="#ecff13"/><rect x="595.9" y="201.2" width="15.4" height="15.5" fill="#ecff13"/><rect x="610.7" y="201.2" width="15.4" height="15.5" fill="#e9ff16"/><rect x="625.5" y="201.2" width="15.4" height="15.5" fill="#e3ff1c"/><rect x="640.3" y="201.2" width="15.4" height="15.5" fill="#dfff20"/><rect x="655.1" y="201.2" width="15.4" height="15.5" fill="#deff21"/><rect x="669.9" y="201.2" width="15.4" height="15.5" fill="#ddff22"/><rect x="684.7" y="201.2" width="15.4" height="15.5" fill="#dcff23"/><rect x="699.5" y="201.2" width="15.4" height="15.5" fill="#dbff24"/><rect x="714.3" y="201.2" width="15.4" height="15.5" fill="#d9ff26"/><rect x="729.1" y="201.2" width="15.4" height="15.5" fill="#d7ff28"/><rect x="743.9" y="201.2" width="15.4" height="15.5" fill="#d5ff2a"/><rect x="758.7" y="201.2" width="15.4" height="15.5" fill="#d3ff2c"/><rect x="773.5" y="201.2" width="15.4" height="15.5" fill="#d1ff2e"/><rect x="788.3" y="201.2" width="15.4" height="15.5" fill="#caff35"/><rect x="803.1" y="201.2" width="15.4" height="15.5" fill="#c2ff3d"/><rect x="817.8" y="201.2" width="15.4" height="15.5" fill="#baff45"/><rect x="832.6" y="201.2" width="15.4" height="15.5" fill="#b2ff4d"/><rect x="847.4" y="201.2" width="15.4" height="15.5" fill="#aaff55"/><rect x="862.2" y="201.2" width="15.4" height="15.5" fill="#a7ff58"/><rect x="877.0" y="201.2" width="15.4" height="15.5" fill="#a7ff58"/><rect x="891.8" y="201.2" width="15.4" height="15.5" fill="#a8ff57"/><rect x="906.6" y="201.2" width="15.4" height="15.5" fill="#a8ff57"/><rect x="921.4" y="201.2" width="15.4" height="15.5" fill="#a9ff56"/><rect x="936.2" y="201.2" width="15.4" height="15.5" fill="#a9ff56"/><rect x="951.0" y="201.2" width="15.4" height="15.5" fill="#a9ff56"/><rect x="965.8" y="201.2" width="15.4" height="15.5" fill="#a9ff56"/><rect x="980.6" y="201.2" width="15.4" height="15.5" fill="#a9ff56"/><rect x="995.4" y="201.2" width="15.4" height="15.5" fill="#a9ff56"/><rect x="1010.2" y="201.2" width="15.4" height="15.5" fill="#a9ff56"/><rect x="581.1" y="216.1" width="15.4" height="15.5" fill="#fffd00"/><rect x="595.9" y="216.1" width="15.4" height="15.5" fill="#fffd00"/><rect x="610.7" y="216.1" width="15.4" height="15.5" fill="#fdff02"/><rect x="625.5" y="216.1" width="15.4" height="15.5" fill="#f4ff0b"/><rect x="640.3" y="216.1" width="15.4" height="15.5" fill="#edff12"/><rect x="655.1" y="216.1" width="15.4" height="15.5" fill="#ebff14"/><rect x="669.9" y="216.1" width="15.4" height="15.5" fill="#e8ff17"/><rect x="684.7" y="216.1" width="15.4" height="15.5" fill="#e5ff1a"/><rect x="699.5" y="216.1" width="15.4" height="15.5" fill="#e2ff1d"/><rect x="714.3" y="216.1" width="15.4" height="15.5" fill="#dfff20"/><rect x="729.1" y="216.1" width="15.4" height="15.5" fill="#dbff24"/><rect x="743.9" y="216.1" width="15.4" height="15.5" fill="#d7ff28"/><rect x="758.7" y="216.1" width="15.4" height="15.5" fill="#d3ff2c"/><rect x="773.5" y="216.1" width="15.4" height="15.5" fill="#cfff30"/><rect x="788.3" y="216.1" width="15.4" height="15.5" fill="#c6ff39"/><rect x="803.1" y="216.1" width="15.4" height="15.5" fill="#bcff43"/><rect x="817.8" y="216.1" width="15.4" height="15.5" fill="#b2ff4d"/><rect x="832.6" y="216.1" width="15.4" height="15.5" fill="#a7ff58"/><rect x="847.4" y="216.1" width="15.4" height="15.5" fill="#9dff62"/><rect x="862.2" y="216.1" width="15.4" height="15.5" fill="#9aff65"/><rect x="877.0" y="216.1" width="15.4" height="15.5" fill="#9cff63"/><rect x="891.8" y="216.1" width="15.4" height="15.5" fill="#9eff61"/><rect x="906.6" y="216.1" width="15.4" height="15.5" fill="#a0ff5f"/><rect x="921.4" y="216.1" width="15.4" height="15.5" fill="#a1ff5e"/><rect x="936.2" y="216.1" width="15.4" height="15.5" fill="#a2ff5d"/><rect x="951.0" y="216.1" width="15.4" height="15.5" fill="#a2ff5d"/><rect x="965.8" y="216.1" width="15.4" height="15.5" fill="#a3ff5c"/><rect x="980.6" y="216.1" width="15.4" height="15.5" fill="#a4ff5b"/><rect x="995.4" y="216.1" width="15.4" height="15.5" fill="#a4ff5b"/><rect x="1010.2" y="216.1" width="15.4" height="15.5" fill="#a4ff5b"/><rect x="581.1" y="231.0" width="15.4" height="15.5" fill="#ffe800"/><rect x="595.9" y="231.0" width="15.4" height="15.5" fill="#ffe800"/><rect x="610.7" y="231.0" width="15.4" height="15.5" fill="#ffee00"/><rect x="625.5" y="231.0" width="15.4" height="15.5" fill="#fffa00"/><rect x="640.3" y="231.0" width="15.4" height="15.5" fill="#fcff03"/><rect x="655.1" y="231.0" width="15.4" height="15.5" fill="#f7ff08"/><rect x="669.9" y="231.0" width="15.4" height="15.5" fill="#f3ff0c"/><rect x="684.7" y="231.0" width="15.4" height="15.5" fill="#eeff11"/><rect x="699.5" y="231.0" width="15.4" height="15.5" fill="#eaff15"/><rect x="714.3" y="231.0" width="15.4" height="15.5" fill="#e4ff1b"/><rect x="729.1" y="231.0" width="15.4" height="15.5" fill="#deff21"/><rect x="743.9" y="231.0" width="15.4" height="15.5" fill="#d9ff26"/><rect x="758.7" y="231.0" width="15.4" height="15.5" fill="#d3ff2c"/><rect x="773.5" y="231.0" width="15.4" height="15.5" fill="#cdff32"/><rect x="788.3" y="231.0" width="15.4" height="15.5" fill="#c2ff3d"/><rect x="803.1" y="231.0" width="15.4" height="15.5" fill="#b6ff49"/><rect x="817.8" y="231.0" width="15.4" height="15.5" fill="#a9ff56"/><rect x="832.6" y="231.0" width="15.4" height="15.5" fill="#9dff62"/><rect x="847.4" y="231.0" width="15.4" height="15.5" fill="#90ff6f"/><rect x="862.2" y="231.0" width="15.4" height="15.5" fill="#8dff72"/><rect x="877.0" y="231.0" width="15.4" height="15.5" fill="#90ff6f"/><rect x="891.8" y="231.0" width="15.4" height="15.5" fill="#94ff6b"/><rect x="906.6" y="231.0" width="15.4" height="15.5" fill="#97ff68"/><rect x="921.4" y="231.0" width="15.4" height="15.5" fill="#9aff65"/><rect x="936.2" y="231.0" width="15.4" height="15.5" fill="#9bff64"/><rect x="951.0" y="231.0" width="15.4" height="15.5" fill="#9cff63"/><rect x="965.8" y="231.0" width="15.4" height="15.5" fill="#9dff62"/><rect x="980.6" y="231.0" width="15.4" height="15.5" fill="#9eff61"/><rect x="995.4" y="231.0" width="15.4" height="15.5" fill="#9fff60"/><rect x="1010.2" y="231.0" width="15.4" height="15.5" fill="#9fff60"/><rect x="581.1" y="245.9" width="15.4" height="15.5" fill="#ffe400"/><rect x="595.9" y="245.9" width="15.4" height="15.5" fill="#ffe400"/><rect x="610.7" y="245.9" width="15.4" height="15.5" fill="#ffea00"/><rect x="625.5" y="245.9" width="15.4" height="15.5" fill="#fff600"/><rect x="640.3" y="245.9" width="15.4" height="15.5" fill="#ffff00"/><rect x="655.1" y="245.9" width="15.4" height="15.5" fill="#fbff04"/><rect x="669.9" y="245.9" width="15.4" height="15.5" fill="#f6ff09"/><rect x="684.7" y="245.9" width="15.4" height="15.5" fill="#f2ff0d"/><rect x="699.5" y="245.9" width="15.4" height="15.5" fill="#edff12"/><rect x="714.3" y="245.9" width="15.4" height="15.5" fill="#e7ff18"/><rect x="729.1" y="245.9" width="15.4" height="15.5" fill="#e1ff1e"/><rect x="743.9" y="245.9" width="15.4" height="15.5" fill="#daff25"/><rect x="758.7" y="245.9" width="15.4" height="15.5" fill="#d4ff2b"/><rect x="773.5" y="245.9" width="15.4" height="15.5" fill="#cdff32"/><rect x="788.3" y="245.9" width="15.4" height="15.5" fill="#c2ff3d"/><rect x="803.1" y="245.9" width="15.4" height="15.5" fill="#b5ff4a"/><rect x="817.8" y="245.9" width="15.4" height="15.5" fill="#a8ff57"/><rect x="832.6" y="245.9" width="15.4" height="15.5" fill="#9cff63"/><rect x="847.4" y="245.9" width="15.4" height="15.5" fill="#8fff70"/><rect x="862.2" y="245.9" width="15.4" height="15.5" fill="#8bff74"/><rect x="877.0" y="245.9" width="15.4" height="15.5" fill="#8eff71"/><rect x="891.8" y="245.9" width="15.4" height="15.5" fill="#90ff6f"/><rect x="906.6" y="245.9" width="15.4" height="15.5" fill="#93ff6c"/><rect x="921.4" y="245.9" width="15.4" height="15.5" fill="#95ff6a"/><rect x="936.2" y="245.9" width="15.4" height="15.5" fill="#96ff69"/><rect x="951.0" y="245.9" width="15.4" height="15.5" fill="#97ff68"/><rect x="965.8" y="245.9" width="15.4" height="15.5" fill="#97ff68"/><rect x="980.6" y="245.9" width="15.4" height="15.5" fill="#98ff67"/><rect x="995.4" y="245.9" width="15.4" height="15.5" fill="#98ff67"/><rect x="1010.2" y="245.9" width="15.4" height="15.5" fill="#98ff67"/><rect x="581.1" y="260.9" width="15.4" height="15.5" fill="#ffe100"/><rect x="595.9" y="260.9" width="15.4" height="15.5" fill="#ffe100"/><rect x="610.7" y="260.9" width="15.4" height="15.5" fill="#ffe800"/><rect x="625.5" y="260.9" width="15.4" height="15.5" fill="#fff400"/><rect x="640.3" y="260.9" width="15.4" height="15.5" fill="#fffd00"/><rect x="655.1" y="260.9" width="15.4" height="15.5" fill="#fdff02"/><rect x="669.9" y="260.9" width="15.4" height="15.5" fill="#f9ff06"/><rect x="684.7" y="260.9" width="15.4" height="15.5" fill="#f5ff0a"/><rect x="699.5" y="260.9" width="15.4" height="15.5" fill="#f1ff0e"/><rect x="714.3" y="260.9" width="15.4" height="15.5" fill="#eaff15"/><rect x="729.1" y="260.9" width="15.4" height="15.5" fill="#e3ff1c"/><rect x="743.9" y="260.9" width="15.4" height="15.5" fill="#dcff23"/><rect x="758.7" y="260.9" width="15.4" height="15.5" fill="#d4ff2b"/><rect x="773.5" y="260.9" width="15.4" height="15.5" fill="#cdff32"/><rect x="788.3" y="260.9" width="15.4" height="15.5" fill="#c2ff3d"/><rect x="803.1" y="260.9" width="15.4" height="15.5" fill="#b5ff4a"/><rect x="817.8" y="260.9" width="15.4" height="15.5" fill="#a8ff57"/><rect x="832.6" y="260.9" width="15.4" height="15.5" fill="#9cff63"/><rect x="847.4" y="260.9" width="15.4" height="15.5" fill="#8fff70"/><rect x="862.2" y="260.9" width="15.4" height="15.5" fill="#8bff74"/><rect x="877.0" y="260.9" width="15.4" height="15.5" fill="#8cff73"/><rect x="891.8" y="260.9" width="15.4" height="15.5" fill="#8eff71"/><rect x="906.6" y="260.9" width="15.4" height="15.5" fill="#90ff6f"/><rect x="921.4" y="260.9" width="15.4" height="15.5" fill="#91ff6e"/><rect x="936.2" y="260.9" width="15.4" height="15.5" fill="#91ff6e"/><rect x="951.0" y="260.9" width="15.4" height="15.5" fill="#91ff6e"/><rect x="965.8" y="260.9" width="15.4" height="15.5" fill="#92ff6d"/><rect x="980.6" y="260.9" width="15.4" height="15.5" fill="#92ff6d"/><rect x="995.4" y="260.9" width="15.4" height="15.5" fill="#92ff6d"/><rect x="1010.2" y="260.9" width="15.4" height="15.5" fill="#92ff6d"/><rect x="581.1" y="275.8" width="15.4" height="15.5" fill="#ffdf00"/><rect x="595.9" y="275.8" width="15.4" height="15.5" fill="#ffdf00"/><rect x="610.7" y="275.8" width="15.4" height="15.5" fill="#ffe500"/><rect x="625.5" y="275.8" width="15.4" height="15.5" fill="#fff200"/><rect x="640.3" y="275.8" width="15.4" height="15.5" fill="#fffa00"/><rect x="655.1" y="275.8" width="15.4" height="15.5" fill="#fffe00"/><rect x="669.9" y="275.8" width="15.4" height="15.5" fill="#fcff03"/><rect x="684.7" y="275.8" width="15.4" height="15.5" fill="#f8ff07"/><rect x="699.5" y="275.8" width="15.4" height="15.5" fill="#f4ff0b"/><rect x="714.3" y="275.8" width="15.4" height="15.5" fill="#ecff13"/><rect x="729.1" y="275.8" width="15.4" height="15.5" fill="#e5ff1a"/><rect x="743.9" y="275.8" width="15.4" height="15.5" fill="#ddff22"/><rect x="758.7" y="275.8" width="15.4" height="15.5" fill="#d5ff2a"/><rect x="773.5" y="275.8" width="15.4" height="15.5" fill="#ceff31"/><rect x="788.3" y="275.8" width="15.4" height="15.5" fill="#c2ff3d"/><rect x="803.1" y="275.8" width="15.4" height="15.5" fill="#b5ff4a"/><rect x="817.8" y="275.8" width="15.4" height="15.5" fill="#a8ff57"/><rect x="832.6" y="275.8" width="15.4" height="15.5" fill="#9cff63"/><rect x="847.4" y="275.8" width="15.4" height="15.5" fill="#8fff70"/><rect x="862.2" y="275.8" width="15.4" height="15.5" fill="#8aff75"/><rect x="877.0" y="275.8" width="15.4" height="15.5" fill="#8bff74"/><rect x="891.8" y="275.8" width="15.4" height="15.5" fill="#8bff74"/><rect x="906.6" y="275.8" width="15.4" height="15.5" fill="#8cff73"/><rect x="921.4" y="275.8" width="15.4" height="15.5" fill="#8dff72"/><rect x="936.2" y="275.8" width="15.4" height="15.5" fill="#8cff73"/><rect x="951.0" y="275.8" width="15.4" height="15.5" fill="#8cff73"/><rect x="965.8" y="275.8" width="15.4" height="15.5" fill="#8cff73"/><rect x="980.6" y="275.8" width="15.4" height="15.5" fill="#8cff73"/><rect x="995.4" y="275.8" width="15.4" height="15.5" fill="#8cff73"/><rect x="1010.2" y="275.8" width="15.4" height="15.5" fill="#8cff73"/><rect x="581.1" y="290.7" width="15.4" height="15.5" fill="#ffdd00"/><rect x="595.9" y="290.7" width="15.4" height="15.5" fill="#ffdd00"/><rect x="610.7" y="290.7" width="15.4" height="15.5" fill="#ffe300"/><rect x="625.5" y="290.7" width="15.4" height="15.5" fill="#fff000"/><rect x="640.3" y="290.7" width="15.4" height="15.5" fill="#fff800"/><rect x="655.1" y="290.7" width="15.4" height="15.5" fill="#fffc00"/><rect x="669.9" y="290.7" width="15.4" height="15.5" fill="#feff01"/><rect x="684.7" y="290.7" width="15.4" height="15.5" fill="#fbff04"/><rect x="699.5" y="290.7" width="15.4" height="15.5" fill="#f7ff08"/><rect x="714.3" y="290.7" width="15.4" height="15.5" fill="#efff10"/><rect x="729.1" y="290.7" width="15.4" height="15.5" fill="#e6ff19"/><rect x="743.9" y="290.7" width="15.4" height="15.5" fill="#deff21"/><rect x="758.7" y="290.7" width="15.4" height="15.5" fill="#d6ff29"/><rect x="773.5" y="290.7" width="15.4" height="15.5" fill="#ceff31"/><rect x="788.3" y="290.7" width="15.4" height="15.5" fill="#c2ff3d"/><rect x="803.1" y="290.7" width="15.4" height="15.5" fill="#b5ff4a"/><rect x="817.8" y="290.7" width="15.4" height="15.5" fill="#a8ff57"/><rect x="832.6" y="290.7" width="15.4" height="15.5" fill="#9cff63"/><rect x="847.4" y="290.7" width="15.4" height="15.5" fill="#8fff70"/><rect x="862.2" y="290.7" width="15.4" height="15.5" fill="#8aff75"/><rect x="877.0" y="290.7" width="15.4" height="15.5" fill="#89ff76"/><rect x="891.8" y="290.7" width="15.4" height="15.5" fill="#89ff76"/><rect x="906.6" y="290.7" width="15.4" height="15.5" fill="#89ff76"/><rect x="921.4" y="290.7" width="15.4" height="15.5" fill="#88ff77"/><rect x="936.2" y="290.7" width="15.4" height="15.5" fill="#88ff77"/><rect x="951.0" y="290.7" width="15.4" height="15.5" fill="#87ff78"/><rect x="965.8" y="290.7" width="15.4" height="15.5" fill="#86ff79"/><rect x="980.6" y="290.7" width="15.4" height="15.5" fill="#86ff79"/><rect x="995.4" y="290.7" width="15.4" height="15.5" fill="#85ff7a"/><rect x="1010.2" y="290.7" width="15.4" height="15.5" fill="#85ff7a"/><rect x="581.1" y="305.6" width="15.4" height="15.5" fill="#ffdb00"/><rect x="595.9" y="305.6" width="15.4" height="15.5" fill="#ffdb00"/><rect x="610.7" y="305.6" width="15.4" height="15.5" fill="#ffe100"/><rect x="625.5" y="305.6" width="15.4" height="15.5" fill="#ffee00"/><rect x="640.3" y="305.6" width="15.4" height="15.5" fill="#fff600"/><rect x="655.1" y="305.6" width="15.4" height="15.5" fill="#fffa00"/><rect x="669.9" y="305.6" width="15.4" height="15.5" fill="#fffd00"/><rect x="684.7" y="305.6" width="15.4" height="15.5" fill="#fdff02"/><rect x="699.5" y="305.6" width="15.4" height="15.5" fill="#faff05"/><rect x="714.3" y="305.6" width="15.4" height="15.5" fill="#f1ff0e"/><rect x="729.1" y="305.6" width="15.4" height="15.5" fill="#e8ff17"/><rect x="743.9" y="305.6" width="15.4" height="15.5" fill="#e0ff1f"/><rect x="758.7" y="305.6" width="15.4" height="15.5" fill="#d7ff28"/><rect x="773.5" y="305.6" width="15.4" height="15.5" fill="#ceff31"/><rect x="788.3" y="305.6" width="15.4" height="15.5" fill="#c2ff3d"/><rect x="803.1" y="305.6" width="15.4" height="15.5" fill="#b6ff49"/><rect x="817.8" y="305.6" width="15.4" height="15.5" fill="#a9ff56"/><rect x="832.6" y="305.6" width="15.4" height="15.5" fill="#9cff63"/><rect x="847.4" y="305.6" width="15.4" height="15.5" fill="#8fff70"/><rect x="862.2" y="305.6" width="15.4" height="15.5" fill="#8aff75"/><rect x="877.0" y="305.6" width="15.4" height="15.5" fill="#88ff77"/><rect x="891.8" y="305.6" width="15.4" height="15.5" fill="#87ff78"/><rect x="906.6" y="305.6" width="15.4" height="15.5" fill="#86ff79"/><rect x="921.4" y="305.6" width="15.4" height="15.5" fill="#84ff7b"/><rect x="936.2" y="305.6" width="15.4" height="15.5" fill="#83ff7c"/><rect x="951.0" y="305.6" width="15.4" height="15.5" fill="#82ff7d"/><rect x="965.8" y="305.6" width="15.4" height="15.5" fill="#81ff7e"/><rect x="980.6" y="305.6" width="15.4" height="15.5" fill="#80ff7f"/><rect x="995.4" y="305.6" width="15.4" height="15.5" fill="#7fff80"/><rect x="1010.2" y="305.6" width="15.4" height="15.5" fill="#7fff80"/><rect x="581.1" y="320.6" width="15.4" height="15.5" fill="#ffdb00"/><rect x="595.9" y="320.6" width="15.4" height="15.5" fill="#ffdb00"/><rect x="610.7" y="320.6" width="15.4" height="15.5" fill="#ffe100"/><rect x="625.5" y="320.6" width="15.4" height="15.5" fill="#ffec00"/><rect x="640.3" y="320.6" width="15.4" height="15.5" fill="#fff400"/><rect x="655.1" y="320.6" width="15.4" height="15.5" fill="#fff800"/><rect x="669.9" y="320.6" width="15.4" height="15.5" fill="#fffb00"/><rect x="684.7" y="320.6" width="15.4" height="15.5" fill="#ffff00"/><rect x="699.5" y="320.6" width="15.4" height="15.5" fill="#fbff04"/><rect x="714.3" y="320.6" width="15.4" height="15.5" fill="#f3ff0c"/><rect x="729.1" y="320.6" width="15.4" height="15.5" fill="#ebff14"/><rect x="743.9" y="320.6" width="15.4" height="15.5" fill="#e3ff1c"/><rect x="758.7" y="320.6" width="15.4" height="15.5" fill="#daff25"/><rect x="773.5" y="320.6" width="15.4" height="15.5" fill="#d2ff2d"/><rect x="788.3" y="320.6" width="15.4" height="15.5" fill="#c7ff38"/><rect x="803.1" y="320.6" width="15.4" height="15.5" fill="#bbff44"/><rect x="817.8" y="320.6" width="15.4" height="15.5" fill="#aeff51"/><rect x="832.6" y="320.6" width="15.4" height="15.5" fill="#a2ff5d"/><rect x="847.4" y="320.6" width="15.4" height="15.5" fill="#96ff69"/><rect x="862.2" y="320.6" width="15.4" height="15.5" fill="#8fff70"/><rect x="877.0" y="320.6" width="15.4" height="15.5" fill="#8cff73"/><rect x="891.8" y="320.6" width="15.4" height="15.5" fill="#89ff76"/><rect x="906.6" y="320.6" width="15.4" height="15.5" fill="#86ff79"/><rect x="921.4" y="320.6" width="15.4" height="15.5" fill="#83ff7c"/><rect x="936.2" y="320.6" width="15.4" height="15.5" fill="#81ff7e"/><rect x="951.0" y="320.6" width="15.4" height="15.5" fill="#7fff80"/><rect x="965.8" y="320.6" width="15.4" height="15.5" fill="#7dff82"/><rect x="980.6" y="320.6" width="15.4" height="15.5" fill="#7bff84"/><rect x="995.4" y="320.6" width="15.4" height="15.5" fill="#7aff85"/><rect x="1010.2" y="320.6" width="15.4" height="15.5" fill="#7aff85"/><rect x="581.1" y="335.5" width="15.4" height="15.5" fill="#ffdb00"/><rect x="595.9" y="335.5" width="15.4" height="15.5" fill="#ffdb00"/><rect x="610.7" y="335.5" width="15.4" height="15.5" fill="#ffe000"/><rect x="625.5" y="335.5" width="15.4" height="15.5" fill="#ffea00"/><rect x="640.3" y="335.5" width="15.4" height="15.5" fill="#fff200"/><rect x="655.1" y="335.5" width="15.4" height="15.5" fill="#fff600"/><rect x="669.9" y="335.5" width="15.4" height="15.5" fill="#fffa00"/><rect x="684.7" y="335.5" width="15.4" height="15.5" fill="#fffe00"/><rect x="699.5" y="335.5" width="15.4" height="15.5" fill="#fcff03"/><rect x="714.3" y="335.5" width="15.4" height="15.5" fill="#f5ff0a"/><rect x="729.1" y="335.5" width="15.4" height="15.5" fill="#edff12"/><rect x="743.9" y="335.5" width="15.4" height="15.5" fill="#e6ff19"/><rect x="758.7" y="335.5" width="15.4" height="15.5" fill="#deff21"/><rect x="773.5" y="335.5" width="15.4" height="15.5" fill="#d6ff29"/><rect x="788.3" y="335.5" width="15.4" height="15.5" fill="#cbff34"/><rect x="803.1" y="335.5" width="15.4" height="15.5" fill="#c0ff3f"/><rect x="817.8" y="335.5" width="15.4" height="15.5" fill="#b4ff4b"/><rect x="832.6" y="335.5" width="15.4" height="15.5" fill="#a8ff57"/><rect x="847.4" y="335.5" width="15.4" height="15.5" fill="#9cff63"/><rect x="862.2" y="335.5" width="15.4" height="15.5" fill="#94ff6b"/><rect x="877.0" y="335.5" width="15.4" height="15.5" fill="#90ff6f"/><rect x="891.8" y="335.5" width="15.4" height="15.5" fill="#8bff74"/><rect x="906.6" y="335.5" width="15.4" height="15.5" fill="#86ff79"/><rect x="921.4" y="335.5" width="15.4" height="15.5" fill="#82ff7d"/><rect x="936.2" y="335.5" width="15.4" height="15.5" fill="#7fff80"/><rect x="951.0" y="335.5" width="15.4" height="15.5" fill="#7cff83"/><rect x="965.8" y="335.5" width="15.4" height="15.5" fill="#79ff86"/><rect x="980.6" y="335.5" width="15.4" height="15.5" fill="#76ff89"/><rect x="995.4" y="335.5" width="15.4" height="15.5" fill="#74ff8b"/><rect x="1010.2" y="335.5" width="15.4" height="15.5" fill="#74ff8b"/><rect x="581.1" y="350.4" width="15.4" height="15.5" fill="#ffdb00"/><rect x="595.9" y="350.4" width="15.4" height="15.5" fill="#ffdb00"/><rect x="610.7" y="350.4" width="15.4" height="15.5" fill="#ffe000"/><rect x="625.5" y="350.4" width="15.4" height="15.5" fill="#ffe900"/><rect x="640.3" y="350.4" width="15.4" height="15.5" fill="#fff000"/><rect x="655.1" y="350.4" width="15.4" height="15.5" fill="#fff400"/><rect x="669.9" y="350.4" width="15.4" height="15.5" fill="#fff800"/><rect x="684.7" y="350.4" width="15.4" height="15.5" fill="#fffd00"/><rect x="699.5" y="350.4" width="15.4" height="15.5" fill="#fdff02"/><rect x="714.3" y="350.4" width="15.4" height="15.5" fill="#f6ff09"/><rect x="729.1" y="350.4" width="15.4" height="15.5" fill="#efff10"/><rect x="743.9" y="350.4" width="15.4" height="15.5" fill="#e8ff17"/><rect x="758.7" y="350.4" width="15.4" height="15.5" fill="#e1ff1e"/><rect x="773.5" y="350.4" width="15.4" height="15.5" fill="#dbff24"/><rect x="788.3" y="350.4" width="15.4" height="15.5" fill="#d0ff2f"/><rect x="803.1" y="350.4" width="15.4" height="15.5" fill="#c5ff3a"/><rect x="817.8" y="350.4" width="15.4" height="15.5" fill="#b9ff46"/><rect x="832.6" y="350.4" width="15.4" height="15.5" fill="#aeff51"/><rect x="847.4" y="350.4" width="15.4" height="15.5" fill="#a2ff5d"/><rect x="862.2" y="350.4" width="15.4" height="15.5" fill="#9aff65"/><rect x="877.0" y="350.4" width="15.4" height="15.5" fill="#93ff6c"/><rect x="891.8" y="350.4" width="15.4" height="15.5" fill="#8dff72"/><rect x="906.6" y="350.4" width="15.4" height="15.5" fill="#87ff78"/><rect x="921.4" y="350.4" width="15.4" height="15.5" fill="#81ff7e"/><rect x="936.2" y="350.4" width="15.4" height="15.5" fill="#7dff82"/><rect x="951.0" y="350.4" width="15.4" height="15.5" fill="#79ff86"/><rect x="965.8" y="350.4" width="15.4" height="15.5" fill="#75ff8a"/><rect x="980.6" y="350.4" width="15.4" height="15.5" fill="#71ff8e"/><rect x="995.4" y="350.4" width="15.4" height="15.5" fill="#6fff90"/><rect x="1010.2" y="350.4" width="15.4" height="15.5" fill="#6fff90"/><rect x="581.1" y="365.3" width="15.4" height="15.5" fill="#ffdb00"/><rect x="595.9" y="365.3" width="15.4" height="15.5" fill="#ffdb00"/><rect x="610.7" y="365.3" width="15.4" height="15.5" fill="#ffdf00"/><rect x="625.5" y="365.3" width="15.4" height="15.5" fill="#ffe700"/><rect x="640.3" y="365.3" width="15.4" height="15.5" fill="#ffee00"/><rect x="655.1" y="365.3" width="15.4" height="15.5" fill="#fff200"/><rect x="669.9" y="365.3" width="15.4" height="15.5" fill="#fff700"/><rect x="684.7" y="365.3" width="15.4" height="15.5" fill="#fffb00"/><rect x="699.5" y="365.3" width="15.4" height="15.5" fill="#feff01"/><rect x="714.3" y="365.3" width="15.4" height="15.5" fill="#f8ff07"/><rect x="729.1" y="365.3" width="15.4" height="15.5" fill="#f2ff0d"/><rect x="743.9" y="365.3" width="15.4" height="15.5" fill="#ebff14"/><rect x="758.7" y="365.3" width="15.4" height="15.5" fill="#e5ff1a"/><rect x="773.5" y="365.3" width="15.4" height="15.5" fill="#dfff20"/><rect x="788.3" y="365.3" width="15.4" height="15.5" fill="#d5ff2a"/><rect x="803.1" y="365.3" width="15.4" height="15.5" fill="#c9ff36"/><rect x="817.8" y="365.3" width="15.4" height="15.5" fill="#beff41"/><rect x="832.6" y="365.3" width="15.4" height="15.5" fill="#b3ff4c"/><rect x="847.4" y="365.3" width="15.4" height="15.5" fill="#a8ff57"/><rect x="862.2" y="365.3" width="15.4" height="15.5" fill="#9fff60"/><rect x="877.0" y="365.3" width="15.4" height="15.5" fill="#97ff68"/><rect x="891.8" y="365.3" width="15.4" height="15.5" fill="#8fff70"/><rect x="906.6" y="365.3" width="15.4" height="15.5" fill="#87ff78"/><rect x="921.4" y="365.3" width="15.4" height="15.5" fill="#7fff80"/><rect x="936.2" y="365.3" width="15.4" height="15.5" fill="#7bff84"/><rect x="951.0" y="365.3" width="15.4" height="15.5" fill="#76ff89"/><rect x="965.8" y="365.3" width="15.4" height="15.5" fill="#71ff8e"/><rect x="980.6" y="365.3" width="15.4" height="15.5" fill="#6cff93"/><rect x="995.4" y="365.3" width="15.4" height="15.5" fill="#6aff95"/><rect x="1010.2" y="365.3" width="15.4" height="15.5" fill="#6aff95"/><rect x="581.1" y="380.3" width="15.4" height="15.5" fill="#ffd900"/><rect x="595.9" y="380.3" width="15.4" height="15.5" fill="#ffd900"/><rect x="610.7" y="380.3" width="15.4" height="15.5" fill="#ffdd00"/><rect x="625.5" y="380.3" width="15.4" height="15.5" fill="#ffe500"/><rect x="640.3" y="380.3" width="15.4" height="15.5" fill="#ffec00"/><rect x="655.1" y="380.3" width="15.4" height="15.5" fill="#fff100"/><rect x="669.9" y="380.3" width="15.4" height="15.5" fill="#fff500"/><rect x="684.7" y="380.3" width="15.4" height="15.5" fill="#fffa00"/><rect x="699.5" y="380.3" width="15.4" height="15.5" fill="#ffff00"/><rect x="714.3" y="380.3" width="15.4" height="15.5" fill="#faff05"/><rect x="729.1" y="380.3" width="15.4" height="15.5" fill="#f4ff0b"/><rect x="743.9" y="380.3" width="15.4" height="15.5" fill="#eeff11"/><rect x="758.7" y="380.3" width="15.4" height="15.5" fill="#e9ff16"/><rect x="773.5" y="380.3" width="15.4" height="15.5" fill="#e3ff1c"/><rect x="788.3" y="380.3" width="15.4" height="15.5" fill="#d9ff26"/><rect x="803.1" y="380.3" width="15.4" height="15.5" fill="#cfff30"/><rect x="817.8" y="380.3" width="15.4" height="15.5" fill="#c4ff3b"/><rect x="832.6" y="380.3" width="15.4" height="15.5" fill="#b9ff46"/><rect x="847.4" y="380.3" width="15.4" height="15.5" fill="#afff50"/><rect x="862.2" y="380.3" width="15.4" height="15.5" fill="#a5ff5a"/><rect x="877.0" y="380.3" width="15.4" height="15.5" fill="#9bff64"/><rect x="891.8" y="380.3" width="15.4" height="15.5" fill="#92ff6d"/><rect x="906.6" y="380.3" width="15.4" height="15.5" fill="#88ff77"/><rect x="921.4" y="380.3" width="15.4" height="15.5" fill="#7fff80"/><rect x="936.2" y="380.3" width="15.4" height="15.5" fill="#7aff85"/><rect x="951.0" y="380.3" width="15.4" height="15.5" fill="#74ff8b"/><rect x="965.8" y="380.3" width="15.4" height="15.5" fill="#6eff91"/><rect x="980.6" y="380.3" width="15.4" height="15.5" fill="#69ff96"/><rect x="995.4" y="380.3" width="15.4" height="15.5" fill="#66ff99"/><rect x="1010.2" y="380.3" width="15.4" height="15.5" fill="#66ff99"/><rect x="581.1" y="395.2" width="15.4" height="15.5" fill="#ffd300"/><rect x="595.9" y="395.2" width="15.4" height="15.5" fill="#ffd300"/><rect x="610.7" y="395.2" width="15.4" height="15.5" fill="#ffd800"/><rect x="625.5" y="395.2" width="15.4" height="15.5" fill="#ffe200"/><rect x="640.3" y="395.2" width="15.4" height="15.5" fill="#ffea00"/><rect x="655.1" y="395.2" width="15.4" height="15.5" fill="#ffef00"/><rect x="669.9" y="395.2" width="15.4" height="15.5" fill="#fff400"/><rect x="684.7" y="395.2" width="15.4" height="15.5" fill="#fff900"/><rect x="699.5" y="395.2" width="15.4" height="15.5" fill="#fffe00"/><rect x="714.3" y="395.2" width="15.4" height="15.5" fill="#fcff03"/><rect x="729.1" y="395.2" width="15.4" height="15.5" fill="#f7ff08"/><rect x="743.9" y="395.2" width="15.4" height="15.5" fill="#f2ff0d"/><rect x="758.7" y="395.2" width="15.4" height="15.5" fill="#edff12"/><rect x="773.5" y="395.2" width="15.4" height="15.5" fill="#e8ff17"/><rect x="788.3" y="395.2" width="15.4" height="15.5" fill="#dfff20"/><rect x="803.1" y="395.2" width="15.4" height="15.5" fill="#d5ff2a"/><rect x="817.8" y="395.2" width="15.4" height="15.5" fill="#cbff34"/><rect x="832.6" y="395.2" width="15.4" height="15.5" fill="#c0ff3f"/><rect x="847.4" y="395.2" width="15.4" height="15.5" fill="#b6ff49"/><rect x="862.2" y="395.2" width="15.4" height="15.5" fill="#abff54"/><rect x="877.0" y="395.2" width="15.4" height="15.5" fill="#a1ff5e"/><rect x="891.8" y="395.2" width="15.4" height="15.5" fill="#96ff69"/><rect x="906.6" y="395.2" width="15.4" height="15.5" fill="#8bff74"/><rect x="921.4" y="395.2" width="15.4" height="15.5" fill="#81ff7e"/><rect x="936.2" y="395.2" width="15.4" height="15.5" fill="#7bff84"/><rect x="951.0" y="395.2" width="15.4" height="15.5" fill="#75ff8a"/><rect x="965.8" y="395.2" width="15.4" height="15.5" fill="#6fff90"/><rect x="980.6" y="395.2" width="15.4" height="15.5" fill="#69ff96"/><rect x="995.4" y="395.2" width="15.4" height="15.5" fill="#66ff99"/><rect x="1010.2" y="395.2" width="15.4" height="15.5" fill="#66ff99"/><rect x="581.1" y="410.1" width="15.4" height="15.5" fill="#ffcd00"/><rect x="595.9" y="410.1" width="15.4" height="15.5" fill="#ffcd00"/><rect x="610.7" y="410.1" width="15.4" height="15.5" fill="#ffd300"/><rect x="625.5" y="410.1" width="15.4" height="15.5" fill="#ffdf00"/><rect x="640.3" y="410.1" width="15.4" height="15.5" fill="#ffe800"/><rect x="655.1" y="410.1" width="15.4" height="15.5" fill="#ffed00"/><rect x="669.9" y="410.1" width="15.4" height="15.5" fill="#fff200"/><rect x="684.7" y="410.1" width="15.4" height="15.5" fill="#fff700"/><rect x="699.5" y="410.1" width="15.4" height="15.5" fill="#fffd00"/><rect x="714.3" y="410.1" width="15.4" height="15.5" fill="#fdff02"/><rect x="729.1" y="410.1" width="15.4" height="15.5" fill="#f9ff06"/><rect x="743.9" y="410.1" width="15.4" height="15.5" fill="#f5ff0a"/><rect x="758.7" y="410.1" width="15.4" height="15.5" fill="#f1ff0e"/><rect x="773.5" y="410.1" width="15.4" height="15.5" fill="#edff12"/><rect x="788.3" y="410.1" width="15.4" height="15.5" fill="#e5ff1a"/><rect x="803.1" y="410.1" width="15.4" height="15.5" fill="#dbff24"/><rect x="817.8" y="410.1" width="15.4" height="15.5" fill="#d1ff2e"/><rect x="832.6" y="410.1" width="15.4" height="15.5" fill="#c7ff38"/><rect x="847.4" y="410.1" width="15.4" height="15.5" fill="#bdff42"/><rect x="862.2" y="410.1" width="15.4" height="15.5" fill="#b2ff4d"/><rect x="877.0" y="410.1" width="15.4" height="15.5" fill="#a6ff59"/><rect x="891.8" y="410.1" width="15.4" height="15.5" fill="#9aff65"/><rect x="906.6" y="410.1" width="15.4" height="15.5" fill="#8eff71"/><rect x="921.4" y="410.1" width="15.4" height="15.5" fill="#83ff7c"/><rect x="936.2" y="410.1" width="15.4" height="15.5" fill="#7dff82"/><rect x="951.0" y="410.1" width="15.4" height="15.5" fill="#76ff89"/><rect x="965.8" y="410.1" width="15.4" height="15.5" fill="#70ff8f"/><rect x="980.6" y="410.1" width="15.4" height="15.5" fill="#69ff96"/><rect x="995.4" y="410.1" width="15.4" height="15.5" fill="#66ff99"/><rect x="1010.2" y="410.1" width="15.4" height="15.5" fill="#66ff99"/><rect x="581.1" y="425.0" width="15.4" height="15.5" fill="#ffc600"/><rect x="595.9" y="425.0" width="15.4" height="15.5" fill="#ffc600"/><rect x="610.7" y="425.0" width="15.4" height="15.5" fill="#ffcd00"/><rect x="625.5" y="425.0" width="15.4" height="15.5" fill="#ffdb00"/><rect x="640.3" y="425.0" width="15.4" height="15.5" fill="#ffe600"/><rect x="655.1" y="425.0" width="15.4" height="15.5" fill="#ffeb00"/><rect x="669.9" y="425.0" width="15.4" height="15.5" fill="#fff100"/><rect x="684.7" y="425.0" width="15.4" height="15.5" fill="#fff600"/><rect x="699.5" y="425.0" width="15.4" height="15.5" fill="#fffb00"/><rect x="714.3" y="425.0" width="15.4" height="15.5" fill="#ffff00"/><rect x="729.1" y="425.0" width="15.4" height="15.5" fill="#fcff03"/><rect x="743.9" y="425.0" width="15.4" height="15.5" fill="#f9ff06"/><rect x="758.7" y="425.0" width="15.4" height="15.5" fill="#f6ff09"/><rect x="773.5" y="425.0" width="15.4" height="15.5" fill="#f3ff0c"/><rect x="788.3" y="425.0" width="15.4" height="15.5" fill="#eaff15"/><rect x="803.1" y="425.0" width="15.4" height="15.5" fill="#e1ff1e"/><rect x="817.8" y="425.0" width="15.4" height="15.5" fill="#d7ff28"/><rect x="832.6" y="425.0" width="15.4" height="15.5" fill="#ceff31"/><rect x="847.4" y="425.0" width="15.4" height="15.5" fill="#c5ff3a"/><rect x="862.2" y="425.0" width="15.4" height="15.5" fill="#b9ff46"/><rect x="877.0" y="425.0" width="15.4" height="15.5" fill="#acff53"/><rect x="891.8" y="425.0" width="15.4" height="15.5" fill="#9fff60"/><rect x="906.6" y="425.0" width="15.4" height="15.5" fill="#91ff6e"/><rect x="921.4" y="425.0" width="15.4" height="15.5" fill="#85ff7a"/><rect x="936.2" y="425.0" width="15.4" height="15.5" fill="#7eff81"/><rect x="951.0" y="425.0" width="15.4" height="15.5" fill="#77ff88"/><rect x="965.8" y="425.0" width="15.4" height="15.5" fill="#70ff8f"/><rect x="980.6" y="425.0" width="15.4" height="15.5" fill="#69ff96"/><rect x="995.4" y="425.0" width="15.4" height="15.5" fill="#66ff99"/><rect x="1010.2" y="425.0" width="15.4" height="15.5" fill="#66ff99"/><rect x="581.1" y="440.0" width="15.4" height="15.5" fill="#ffc000"/><rect x="595.9" y="440.0" width="15.4" height="15.5" fill="#ffc000"/><rect x="610.7" y="440.0" width="15.4" height="15.5" fill="#ffc800"/><rect x="625.5" y="440.0" width="15.4" height="15.5" fill="#ffd800"/><rect x="640.3" y="440.0" width="15.4" height="15.5" fill="#ffe400"/><rect x="655.1" y="440.0" width="15.4" height="15.5" fill="#ffe900"/><rect x="669.9" y="440.0" width="15.4" height="15.5" fill="#ffef00"/><rect x="684.7" y="440.0" width="15.4" height="15.5" fill="#fff500"/><rect x="699.5" y="440.0" width="15.4" height="15.5" fill="#fffa00"/><rect x="714.3" y="440.0" width="15.4" height="15.5" fill="#fffd00"/><rect x="729.1" y="440.0" width="15.4" height="15.5" fill="#ffff00"/><rect x="743.9" y="440.0" width="15.4" height="15.5" fill="#fcff03"/><rect x="758.7" y="440.0" width="15.4" height="15.5" fill="#faff05"/><rect x="773.5" y="440.0" width="15.4" height="15.5" fill="#f8ff07"/><rect x="788.3" y="440.0" width="15.4" height="15.5" fill="#f0ff0f"/><rect x="803.1" y="440.0" width="15.4" height="15.5" fill="#e7ff18"/><rect x="817.8" y="440.0" width="15.4" height="15.5" fill="#deff21"/><rect x="832.6" y="440.0" width="15.4" height="15.5" fill="#d5ff2a"/><rect x="847.4" y="440.0" width="15.4" height="15.5" fill="#ccff33"/><rect x="862.2" y="440.0" width="15.4" height="15.5" fill="#c0ff3f"/><rect x="877.0" y="440.0" width="15.4" height="15.5" fill="#b1ff4e"/><rect x="891.8" y="440.0" width="15.4" height="15.5" fill="#a3ff5c"/><rect x="906.6" y="440.0" width="15.4" height="15.5" fill="#94ff6b"/><rect x="921.4" y="440.0" width="15.4" height="15.5" fill="#87ff78"/><rect x="936.2" y="440.0" width="15.4" height="15.5" fill="#80ff7f"/><rect x="951.0" y="440.0" width="15.4" height="15.5" fill="#79ff86"/><rect x="965.8" y="440.0" width="15.4" height="15.5" fill="#71ff8e"/><rect x="980.6" y="440.0" width="15.4" height="15.5" fill="#6aff95"/><rect x="995.4" y="440.0" width="15.4" height="15.5" fill="#66ff99"/><rect x="1010.2" y="440.0" width="15.4" height="15.5" fill="#66ff99"/><rect x="581.1" y="454.9" width="15.4" height="15.5" fill="#ffbd00"/><rect x="595.9" y="454.9" width="15.4" height="15.5" fill="#ffbd00"/><rect x="610.7" y="454.9" width="15.4" height="15.5" fill="#ffc500"/><rect x="625.5" y="454.9" width="15.4" height="15.5" fill="#ffd600"/><rect x="640.3" y="454.9" width="15.4" height="15.5" fill="#ffe300"/><rect x="655.1" y="454.9" width="15.4" height="15.5" fill="#ffe900"/><rect x="669.9" y="454.9" width="15.4" height="15.5" fill="#ffee00"/><rect x="684.7" y="454.9" width="15.4" height="15.5" fill="#fff400"/><rect x="699.5" y="454.9" width="15.4" height="15.5" fill="#fffa00"/><rect x="714.3" y="454.9" width="15.4" height="15.5" fill="#fffc00"/><rect x="729.1" y="454.9" width="15.4" height="15.5" fill="#fffe00"/><rect x="743.9" y="454.9" width="15.4" height="15.5" fill="#feff01"/><rect x="758.7" y="454.9" width="15.4" height="15.5" fill="#fcff03"/><rect x="773.5" y="454.9" width="15.4" height="15.5" fill="#faff05"/><rect x="788.3" y="454.9" width="15.4" height="15.5" fill="#f3ff0c"/><rect x="803.1" y="454.9" width="15.4" height="15.5" fill="#eaff15"/><rect x="817.8" y="454.9" width="15.4" height="15.5" fill="#e1ff1e"/><rect x="832.6" y="454.9" width="15.4" height="15.5" fill="#d8ff27"/><rect x="847.4" y="454.9" width="15.4" height="15.5" fill="#d0ff2f"/><rect x="862.2" y="454.9" width="15.4" height="15.5" fill="#c3ff3c"/><rect x="877.0" y="454.9" width="15.4" height="15.5" fill="#b4ff4b"/><rect x="891.8" y="454.9" width="15.4" height="15.5" fill="#a5ff5a"/><rect x="906.6" y="454.9" width="15.4" height="15.5" fill="#96ff69"/><rect x="921.4" y="454.9" width="15.4" height="15.5" fill="#88ff77"/><rect x="936.2" y="454.9" width="15.4" height="15.5" fill="#81ff7e"/><rect x="951.0" y="454.9" width="15.4" height="15.5" fill="#79ff86"/><rect x="965.8" y="454.9" width="15.4" height="15.5" fill="#71ff8e"/><rect x="980.6" y="454.9" width="15.4" height="15.5" fill="#6aff95"/><rect x="995.4" y="454.9" width="15.4" height="15.5" fill="#66ff99"/><rect x="1010.2" y="454.9" width="15.4" height="15.5" fill="#66ff99"/><rect x="581.1" y="469.8" width="15.4" height="15.5" fill="#ffbd00"/><rect x="595.9" y="469.8" width="15.4" height="15.5" fill="#ffbd00"/><rect x="610.7" y="469.8" width="15.4" height="15.5" fill="#ffc500"/><rect x="625.5" y="469.8" width="15.4" height="15.5" fill="#ffd600"/><rect x="640.3" y="469.8" width="15.4" height="15.5" fill="#ffe300"/><rect x="655.1" y="469.8" width="15.4" height="15.5" fill="#ffe900"/><rect x="669.9" y="469.8" width="15.4" height="15.5" fill="#ffee00"/><rect x="684.7" y="469.8" width="15.4" height="15.5" fill="#fff400"/><rect x="699.5" y="469.8" width="15.4" height="15.5" fill="#fffa00"/><rect x="714.3" y="469.8" width="15.4" height="15.5" fill="#fffc00"/><rect x="729.1" y="469.8" width="15.4" height="15.5" fill="#fffe00"/><rect x="743.9" y="469.8" width="15.4" height="15.5" fill="#feff01"/><rect x="758.7" y="469.8" width="15.4" height="15.5" fill="#fcff03"/><rect x="773.5" y="469.8" width="15.4" height="15.5" fill="#faff05"/><rect x="788.3" y="469.8" width="15.4" height="15.5" fill="#f3ff0c"/><rect x="803.1" y="469.8" width="15.4" height="15.5" fill="#eaff15"/><rect x="817.8" y="469.8" width="15.4" height="15.5" fill="#e1ff1e"/><rect x="832.6" y="469.8" width="15.4" height="15.5" fill="#d8ff27"/><rect x="847.4" y="469.8" width="15.4" height="15.5" fill="#d0ff2f"/><rect x="862.2" y="469.8" width="15.4" height="15.5" fill="#c3ff3c"/><rect x="877.0" y="469.8" width="15.4" height="15.5" fill="#b4ff4b"/><rect x="891.8" y="469.8" width="15.4" height="15.5" fill="#a5ff5a"/><rect x="906.6" y="469.8" width="15.4" height="15.5" fill="#96ff69"/><rect x="921.4" y="469.8" width="15.4" height="15.5" fill="#88ff77"/><rect x="936.2" y="469.8" width="15.4" height="15.5" fill="#81ff7e"/><rect x="951.0" y="469.8" width="15.4" height="15.5" fill="#79ff86"/><rect x="965.8" y="469.8" width="15.4" height="15.5" fill="#71ff8e"/><rect x="980.6" y="469.8" width="15.4" height="15.5" fill="#6aff95"/><rect x="995.4" y="469.8" width="15.4" height="15.5" fill="#66ff99"/><rect x="1010.2" y="469.8" width="15.4" height="15.5" fill="#66ff99"/>
</g></g>
<path d="M637.4 97.0V455.2M678.4 97.0V455.2M719.4 97.0V455.2M760.4 97.0V455.2M801.4 97.0V455.2M842.4 97.0V455.2M883.4 97.0V455.2M924.4 97.0V455.2M965.4 97.0V455.2M611.0 128.0H995.7M611.0 168.9H995.7M611.0 209.9H995.7M611.0 250.8H995.7M611.0 291.7H995.7M611.0 332.6H995.7M611.0 373.6H995.7M611.0 414.5H995.7" stroke="#4a6a20" stroke-opacity="0.6" stroke-width="0.8" stroke-dasharray="1.4 3.2" fill="none"/>
<g clip-path="url(#bclip)" stroke="#111" stroke-width="1.4" fill="none" stroke-linecap="round" stroke-linejoin="miter">
<path d="M616.4 449.8l-1.7 5.3M616.4 449.8l-5.3 1.8M611.3 455.0L616.4 449.8M642.1 449.8l-3.1 4.7M642.1 449.8l-5.6 0.2M632.8 455.0L642.1 449.8M667.7 449.8l-3.1 4.6M667.7 449.8l-5.6 0.2M658.4 455.0L667.7 449.8M693.4 449.8l-3.2 4.6M693.4 449.8l-5.6 0.2M683.9 455.0L693.4 449.8M719.1 449.9l-3.2 4.6M719.1 449.9l-5.6 0.1M709.5 455.0L719.1 449.9M744.7 449.9l-3.2 4.6M744.7 449.9l-5.6 0.1M735.1 455.0L744.7 449.9M770.4 449.9l-3.2 4.6M770.4 449.9l-5.6 0.1M760.7 455.0L770.4 449.9M796.0 449.9l-3.2 4.6M796.0 449.9l-5.6 0.1M786.3 455.0L796.0 449.9M821.7 450.0l-3.3 4.5M821.7 450.0l-5.6 0.0M811.9 455.0L821.7 450.0M847.3 450.0l-3.3 4.5M847.3 450.0l-5.6 0.0M837.5 455.0L847.3 450.0M873.0 450.0l-3.3 4.5M873.0 450.0l-5.6 -0.0M863.1 455.0L873.0 450.0M898.6 450.0l-3.3 4.5M898.6 450.0l-5.6 -0.0M888.7 455.0L898.6 450.0M924.3 450.1l-3.3 4.5M924.3 450.1l-5.6 -0.1M914.3 455.0L924.3 450.1M949.9 450.1l-3.4 4.5M949.9 450.1l-5.6 -0.1M939.9 455.0L949.9 450.1M975.6 450.1l-3.4 4.5M975.6 450.1l-5.6 -0.1M965.5 455.0L975.6 450.1M995.5 450.1l-1.5 5.4M995.5 450.1l-5.2 2.0M991.1 455.0L995.5 450.1M616.4 424.1l0.3 5.6M616.4 424.1l-4.4 3.5M611.3 435.5L616.4 424.1M642.0 424.2l-1.2 5.5M642.0 424.2l-5.1 2.3M632.8 435.5L642.0 424.2M667.7 424.2l-1.2 5.5M667.7 424.2l-5.1 2.2M658.4 435.5L667.7 424.2M693.3 424.2l-1.2 5.5M693.3 424.2l-5.1 2.2M684.0 435.4L693.3 424.2M719.0 424.2l-1.3 5.5M719.0 424.2l-5.2 2.2M709.6 435.4L719.0 424.2M744.7 424.3l-1.3 5.4M744.7 424.3l-5.2 2.1M735.2 435.4L744.7 424.3M770.3 424.3l-1.3 5.4M770.3 424.3l-5.2 2.1M760.8 435.3L770.3 424.3M796.0 424.3l-1.4 5.4M796.0 424.3l-5.2 2.1M786.4 435.3L796.0 424.3M821.6 424.3l-1.4 5.4M821.6 424.3l-5.2 2.1M812.0 435.3L821.6 424.3M847.3 424.4l-1.4 5.4M847.3 424.4l-5.2 2.0M837.6 435.3L847.3 424.4M872.9 424.4l-1.5 5.4M872.9 424.4l-5.2 2.0M863.2 435.2L872.9 424.4M898.6 424.4l-1.5 5.4M898.6 424.4l-5.2 2.0M888.8 435.2L898.6 424.4M924.2 424.5l-1.5 5.4M924.2 424.5l-5.3 1.9M914.4 435.2L924.2 424.5M949.9 424.5l-1.5 5.4M949.9 424.5l-5.3 1.9M939.9 435.2L949.9 424.5M975.6 424.5l-1.6 5.4M975.6 424.5l-5.3 1.9M965.5 435.1L975.6 424.5M995.5 424.5l0.4 5.6M995.5 424.5l-4.3 3.6M991.1 435.1L995.5 424.5M616.3 398.5l0.3 5.6M616.3 398.5l-4.3 3.6M611.3 410.0L616.3 398.5M642.0 398.5l-1.1 5.5M642.0 398.5l-5.1 2.3M632.9 409.9L642.0 398.5M667.6 398.6l-1.2 5.5M667.6 398.6l-5.1 2.3M658.5 409.9L667.6 398.6M693.3 398.6l-1.2 5.5M693.3 398.6l-5.1 2.3M684.1 409.9L693.3 398.6M719.0 398.6l-1.2 5.5M719.0 398.6l-5.1 2.2M709.6 409.9L719.0 398.6M744.6 398.6l-1.3 5.5M744.6 398.6l-5.2 2.2M735.2 409.8L744.6 398.6M770.3 398.7l-1.3 5.5M770.3 398.7l-5.2 2.2M760.8 409.8L770.3 398.7M795.9 398.7l-1.3 5.4M795.9 398.7l-5.2 2.1M786.4 409.8L795.9 398.7M821.6 398.7l-1.3 5.4M821.6 398.7l-5.2 2.1M812.0 409.8L821.6 398.7M847.2 398.8l-1.4 5.4M847.2 398.8l-5.2 2.1M837.6 409.7L847.2 398.8M872.9 398.8l-1.4 5.4M872.9 398.8l-5.2 2.0M863.2 409.7L872.9 398.8M898.6 398.8l-1.4 5.4M898.6 398.8l-5.2 2.0M888.8 409.7L898.6 398.8M924.2 398.8l-1.5 5.4M924.2 398.8l-5.2 2.0M914.4 409.6L924.2 398.8M949.9 398.9l-1.5 5.4M949.9 398.9l-5.2 1.9M940.0 409.6L949.9 398.9M975.5 398.9l-1.5 5.4M975.5 398.9l-5.3 1.9M965.6 409.6L975.5 398.9M995.5 398.9l0.5 5.6M995.5 398.9l-4.2 3.7M991.2 409.6L995.5 398.9M616.3 372.9l0.4 5.6M616.3 372.9l-4.3 3.6M611.3 384.4L616.3 372.9M641.9 372.9l-1.1 5.5M641.9 372.9l-5.1 2.4M632.9 384.4L641.9 372.9M667.6 372.9l-1.1 5.5M667.6 372.9l-5.1 2.3M658.5 384.4L667.6 372.9M693.2 373.0l-1.1 5.5M693.2 373.0l-5.1 2.3M684.1 384.4L693.2 373.0M718.9 373.0l-1.2 5.5M718.9 373.0l-5.1 2.3M709.7 384.3L718.9 373.0M744.6 373.0l-1.2 5.5M744.6 373.0l-5.1 2.2M735.3 384.3L744.6 373.0M770.2 373.0l-1.2 5.5M770.2 373.0l-5.1 2.2M760.9 384.3L770.2 373.0M795.9 373.1l-1.3 5.5M795.9 373.1l-5.2 2.2M786.5 384.2L795.9 373.1M821.5 373.1l-1.3 5.4M821.5 373.1l-5.2 2.1M812.1 384.2L821.5 373.1M847.2 373.1l-1.3 5.4M847.2 373.1l-5.2 2.1M837.7 384.2L847.2 373.1M872.9 373.2l-1.4 5.4M872.9 373.2l-5.2 2.1M863.2 384.2L872.9 373.2M898.5 373.2l-1.4 5.4M898.5 373.2l-5.2 2.0M888.8 384.1L898.5 373.2M924.2 373.2l-1.4 5.4M924.2 373.2l-5.2 2.0M914.4 384.1L924.2 373.2M949.8 373.3l-1.5 5.4M949.8 373.3l-5.2 2.0M940.0 384.1L949.8 373.3M975.5 373.3l-1.5 5.4M975.5 373.3l-5.2 2.0M965.6 384.0L975.5 373.3M995.5 373.3l0.5 5.6M995.5 373.3l-4.2 3.7M991.2 384.0L995.5 373.3M616.2 347.3l0.4 5.6M616.2 347.3l-4.3 3.6M611.3 358.9L616.2 347.3M641.9 347.3l-1.0 5.5M641.9 347.3l-5.1 2.4M633.0 358.9L641.9 347.3M667.5 347.3l-1.0 5.5M667.5 347.3l-5.1 2.4M658.6 358.8L667.5 347.3M693.2 347.3l-1.1 5.5M693.2 347.3l-5.1 2.4M684.2 358.8L693.2 347.3M718.8 347.4l-1.1 5.5M718.8 347.4l-5.1 2.3M709.8 358.8L718.8 347.4M744.5 347.4l-1.2 5.5M744.5 347.4l-5.1 2.3M735.3 358.8L744.5 347.4M770.2 347.4l-1.2 5.5M770.2 347.4l-5.1 2.3M760.9 358.7L770.2 347.4M795.8 347.5l-1.2 5.5M795.8 347.5l-5.1 2.2M786.5 358.7L795.8 347.5M821.5 347.5l-1.3 5.5M821.5 347.5l-5.2 2.2M812.1 358.7L821.5 347.5M847.2 347.5l-1.3 5.4M847.2 347.5l-5.2 2.2M837.7 358.6L847.2 347.5M872.8 347.5l-1.3 5.4M872.8 347.5l-5.2 2.1M863.3 358.6L872.8 347.5M898.5 347.6l-1.4 5.4M898.5 347.6l-5.2 2.1M888.9 358.6L898.5 347.6M924.1 347.6l-1.4 5.4M924.1 347.6l-5.2 2.1M914.5 358.5L924.1 347.6M949.8 347.6l-1.4 5.4M949.8 347.6l-5.2 2.0M940.1 358.5L949.8 347.6M975.5 347.7l-1.5 5.4M975.5 347.7l-5.2 2.0M965.6 358.5L975.5 347.7M995.5 347.7l0.5 5.6M995.5 347.7l-4.2 3.7M991.2 358.5L995.5 347.7M616.1 321.6l0.5 5.6M616.1 321.6l-4.3 3.6M611.3 333.4L616.1 321.6M641.8 321.7l-1.0 5.5M641.8 321.7l-5.0 2.5M633.0 333.3L641.8 321.7M667.5 321.7l-1.0 5.5M667.5 321.7l-5.0 2.4M658.6 333.3L667.5 321.7M693.1 321.7l-1.0 5.5M693.1 321.7l-5.1 2.4M684.2 333.3L693.1 321.7M718.8 321.7l-1.1 5.5M718.8 321.7l-5.1 2.4M709.8 333.3L718.8 321.7M744.5 321.8l-1.1 5.5M744.5 321.8l-5.1 2.3M735.4 333.2L744.5 321.8M770.1 321.8l-1.1 5.5M770.1 321.8l-5.1 2.3M761.0 333.2L770.1 321.8M795.8 321.8l-1.2 5.5M795.8 321.8l-5.1 2.3M786.6 333.2L795.8 321.8M821.4 321.9l-1.2 5.5M821.4 321.9l-5.1 2.2M812.2 333.1L821.4 321.9M847.1 321.9l-1.3 5.5M847.1 321.9l-5.2 2.2M837.7 333.1L847.1 321.9M872.8 321.9l-1.3 5.4M872.8 321.9l-5.2 2.2M863.3 333.1L872.8 321.9M898.4 322.0l-1.3 5.4M898.4 322.0l-5.2 2.1M888.9 333.0L898.4 322.0M924.1 322.0l-1.4 5.4M924.1 322.0l-5.2 2.1M914.5 333.0L924.1 322.0M949.8 322.0l-1.4 5.4M949.8 322.0l-5.2 2.1M940.1 333.0L949.8 322.0M975.4 322.1l-1.4 5.4M975.4 322.1l-5.2 2.0M965.7 332.9L975.4 322.1M995.5 322.1l0.5 5.6M995.5 322.1l-4.2 3.7M991.3 332.9L995.5 322.1M616.1 296.0l0.5 5.6M616.1 296.0l-4.2 3.7M611.3 307.8L616.1 296.0M641.7 296.0l-0.9 5.5M641.7 296.0l-5.0 2.5M633.1 307.8L641.7 296.0M667.4 296.1l-0.9 5.5M667.4 296.1l-5.0 2.5M658.7 307.8L667.4 296.1M693.1 296.1l-1.0 5.5M693.1 296.1l-5.0 2.5M684.3 307.7L693.1 296.1M718.7 296.1l-1.0 5.5M718.7 296.1l-5.1 2.4M709.9 307.7L718.7 296.1M744.4 296.2l-1.1 5.5M744.4 296.2l-5.1 2.4M735.4 307.7L744.4 296.2M770.1 296.2l-1.1 5.5M770.1 296.2l-5.1 2.3M761.0 307.7L770.1 296.2M795.7 296.2l-1.1 5.5M795.7 296.2l-5.1 2.3M786.6 307.6L795.7 296.2M821.4 296.3l-1.2 5.5M821.4 296.3l-5.1 2.3M812.2 307.6L821.4 296.3M847.1 296.3l-1.2 5.5M847.1 296.3l-5.1 2.2M837.8 307.6L847.1 296.3M872.7 296.3l-1.2 5.5M872.7 296.3l-5.1 2.2M863.4 307.5L872.7 296.3M898.4 296.3l-1.3 5.5M898.4 296.3l-5.2 2.2M889.0 307.5L898.4 296.3M924.1 296.4l-1.3 5.4M924.1 296.4l-5.2 2.1M914.5 307.5L924.1 296.4M949.7 296.4l-1.4 5.4M949.7 296.4l-5.2 2.1M940.1 307.4L949.7 296.4M975.4 296.4l-1.4 5.4M975.4 296.4l-5.2 2.1M965.7 307.4L975.4 296.4M995.5 296.5l0.6 5.6M995.5 296.5l-4.2 3.7M991.3 307.4L995.5 296.5M616.0 270.4l0.5 5.6M616.0 270.4l-4.2 3.7M611.3 282.3L616.0 270.4M641.7 270.4l-0.8 5.5M641.7 270.4l-5.0 2.6M633.2 282.3L641.7 270.4M667.3 270.4l-0.9 5.5M667.3 270.4l-5.0 2.5M658.8 282.2L667.3 270.4M693.0 270.5l-0.9 5.5M693.0 270.5l-5.0 2.5M684.3 282.2L693.0 270.5M718.7 270.5l-1.0 5.5M718.7 270.5l-5.0 2.5M709.9 282.2L718.7 270.5M744.4 270.5l-1.0 5.5M744.4 270.5l-5.0 2.4M735.5 282.1L744.4 270.5M770.0 270.6l-1.0 5.5M770.0 270.6l-5.1 2.4M761.1 282.1L770.0 270.6M795.7 270.6l-1.1 5.5M795.7 270.6l-5.1 2.4M786.7 282.1L795.7 270.6M821.4 270.6l-1.1 5.5M821.4 270.6l-5.1 2.3M812.2 282.0L821.4 270.6M847.0 270.7l-1.2 5.5M847.0 270.7l-5.1 2.3M837.8 282.0L847.0 270.7M872.7 270.7l-1.2 5.5M872.7 270.7l-5.1 2.2M863.4 282.0L872.7 270.7M898.4 270.7l-1.2 5.5M898.4 270.7l-5.1 2.2M889.0 281.9L898.4 270.7M924.0 270.8l-1.3 5.5M924.0 270.8l-5.2 2.2M914.6 281.9L924.0 270.8M949.7 270.8l-1.3 5.4M949.7 270.8l-5.2 2.1M940.2 281.9L949.7 270.8M975.3 270.8l-1.4 5.4M975.3 270.8l-5.2 2.1M965.8 281.8L975.3 270.8M995.5 270.9l0.6 5.6M995.5 270.9l-4.2 3.8M991.3 281.8L995.5 270.9M615.9 244.8l0.6 5.6M615.9 244.8l-4.2 3.7M611.3 256.8L615.9 244.8M641.6 244.8l-0.8 5.5M641.6 244.8l-4.9 2.6M633.2 256.7L641.6 244.8M667.3 244.8l-0.8 5.5M667.3 244.8l-5.0 2.6M658.8 256.7L667.3 244.8M693.0 244.8l-0.9 5.5M693.0 244.8l-5.0 2.5M684.4 256.7L693.0 244.8M718.6 244.9l-0.9 5.5M718.6 244.9l-5.0 2.5M710.0 256.6L718.6 244.9M744.3 244.9l-1.0 5.5M744.3 244.9l-5.0 2.5M735.6 256.6L744.3 244.9M770.0 244.9l-1.0 5.5M770.0 244.9l-5.0 2.4M761.1 256.6L770.0 244.9M795.6 245.0l-1.0 5.5M795.6 245.0l-5.1 2.4M786.7 256.5L795.6 245.0M821.3 245.0l-1.1 5.5M821.3 245.0l-5.1 2.4M812.3 256.5L821.3 245.0M847.0 245.1l-1.1 5.5M847.0 245.1l-5.1 2.3M837.9 256.5L847.0 245.1M872.6 245.1l-1.2 5.5M872.6 245.1l-5.1 2.3M863.5 256.4L872.6 245.1M898.3 245.1l-1.2 5.5M898.3 245.1l-5.1 2.2M889.0 256.4L898.3 245.1M924.0 245.2l-1.2 5.5M924.0 245.2l-5.1 2.2M914.6 256.4L924.0 245.2M949.6 245.2l-1.3 5.5M949.6 245.2l-5.2 2.2M940.2 256.3L949.6 245.2M975.3 245.2l-1.3 5.4M975.3 245.2l-5.2 2.1M965.8 256.3L975.3 245.2M995.5 245.3l0.6 5.6M995.5 245.3l-4.1 3.8M991.4 256.3L995.5 245.3M615.9 219.1l0.6 5.6M615.9 219.1l-4.1 3.8M611.3 231.2L615.9 219.1M641.6 219.2l-0.7 5.6M641.6 219.2l-4.9 2.7M633.3 231.2L641.6 219.2M667.2 219.2l-0.8 5.5M667.2 219.2l-4.9 2.6M658.9 231.2L667.2 219.2M692.9 219.2l-0.8 5.5M692.9 219.2l-5.0 2.6M684.4 231.1L692.9 219.2M718.6 219.3l-0.9 5.5M718.6 219.3l-5.0 2.6M710.0 231.1L718.6 219.3M744.2 219.3l-0.9 5.5M744.2 219.3l-5.0 2.5M735.6 231.1L744.2 219.3M769.9 219.3l-0.9 5.5M769.9 219.3l-5.0 2.5M761.2 231.0L769.9 219.3M795.6 219.4l-1.0 5.5M795.6 219.4l-5.0 2.4M786.8 231.0L795.6 219.4M821.3 219.4l-1.0 5.5M821.3 219.4l-5.1 2.4M812.3 231.0L821.3 219.4M846.9 219.4l-1.1 5.5M846.9 219.4l-5.1 2.4M837.9 230.9L846.9 219.4M872.6 219.5l-1.1 5.5M872.6 219.5l-5.1 2.3M863.5 230.9L872.6 219.5M898.3 219.5l-1.2 5.5M898.3 219.5l-5.1 2.3M889.1 230.9L898.3 219.5M923.9 219.5l-1.2 5.5M923.9 219.5l-5.1 2.2M914.7 230.8L923.9 219.5M949.6 219.6l-1.2 5.5M949.6 219.6l-5.2 2.2M940.2 230.8L949.6 219.6M975.3 219.6l-1.3 5.4M975.3 219.6l-5.2 2.2M965.8 230.7L975.3 219.6M995.5 219.7l0.7 5.6M995.5 219.7l-4.1 3.8M991.4 230.7L995.5 219.7M615.8 193.5l0.6 5.6M615.8 193.5l-4.1 3.8M611.3 205.7L615.8 193.5M641.5 193.5l-0.7 5.6M641.5 193.5l-4.9 2.7M633.4 205.7L641.5 193.5M667.2 193.6l-0.7 5.6M667.2 193.6l-4.9 2.7M658.9 205.6L667.2 193.6M692.8 193.6l-0.8 5.5M692.8 193.6l-4.9 2.6M684.5 205.6L692.8 193.6M718.5 193.6l-0.8 5.5M718.5 193.6l-5.0 2.6M710.1 205.6L718.5 193.6M744.2 193.7l-0.9 5.5M744.2 193.7l-5.0 2.6M735.7 205.5L744.2 193.7M769.9 193.7l-0.9 5.5M769.9 193.7l-5.0 2.5M761.2 205.5L769.9 193.7M795.5 193.7l-0.9 5.5M795.5 193.7l-5.0 2.5M786.8 205.5L795.5 193.7M821.2 193.8l-1.0 5.5M821.2 193.8l-5.0 2.4M812.4 205.4L821.2 193.8M846.9 193.8l-1.0 5.5M846.9 193.8l-5.1 2.4M838.0 205.4L846.9 193.8M872.6 193.9l-1.1 5.5M872.6 193.9l-5.1 2.4M863.5 205.3L872.6 193.9M898.2 193.9l-1.1 5.5M898.2 193.9l-5.1 2.3M889.1 205.3L898.2 193.9M923.9 193.9l-1.2 5.5M923.9 193.9l-5.1 2.3M914.7 205.3L923.9 193.9M949.6 194.0l-1.2 5.5M949.6 194.0l-5.1 2.2M940.3 205.2L949.6 194.0M975.2 194.0l-1.3 5.5M975.2 194.0l-5.2 2.2M965.9 205.2L975.2 194.0M995.5 194.0l0.7 5.6M995.5 194.0l-4.1 3.8M991.4 205.2L995.5 194.0M615.8 167.9l0.7 5.6M615.8 167.9l-4.1 3.8M611.3 180.2L615.8 167.9M641.4 167.9l-0.6 5.6M641.4 167.9l-4.9 2.8M633.4 180.1L641.4 167.9M667.1 168.0l-0.7 5.6M667.1 168.0l-4.9 2.7M659.0 180.1L667.1 168.0M692.8 168.0l-0.7 5.6M692.8 168.0l-4.9 2.7M684.6 180.1L692.8 168.0M718.5 168.0l-0.8 5.5M718.5 168.0l-4.9 2.6M710.1 180.0L718.5 168.0M744.1 168.1l-0.8 5.5M744.1 168.1l-5.0 2.6M735.7 180.0L744.1 168.1M769.8 168.1l-0.9 5.5M769.8 168.1l-5.0 2.6M761.3 179.9L769.8 168.1M795.5 168.1l-0.9 5.5M795.5 168.1l-5.0 2.5M786.9 179.9L795.5 168.1M821.2 168.2l-0.9 5.5M821.2 168.2l-5.0 2.5M812.4 179.9L821.2 168.2M846.8 168.2l-1.0 5.5M846.8 168.2l-5.0 2.4M838.0 179.8L846.8 168.2M872.5 168.2l-1.0 5.5M872.5 168.2l-5.1 2.4M863.6 179.8L872.5 168.2M898.2 168.3l-1.1 5.5M898.2 168.3l-5.1 2.4M889.2 179.8L898.2 168.3M923.9 168.3l-1.1 5.5M923.9 168.3l-5.1 2.3M914.7 179.7L923.9 168.3M949.5 168.4l-1.2 5.5M949.5 168.4l-5.1 2.3M940.3 179.7L949.5 168.4M975.2 168.4l-1.2 5.5M975.2 168.4l-5.1 2.2M965.9 179.6L975.2 168.4M995.5 168.4l0.7 5.6M995.5 168.4l-4.1 3.8M991.5 179.6L995.5 168.4M615.7 142.3l0.7 5.6M615.7 142.3l-4.1 3.8M611.3 154.6L615.7 142.3M641.4 142.3l-0.6 5.6M641.4 142.3l-4.8 2.8M633.5 154.6L641.4 142.3M667.1 142.3l-0.6 5.6M667.1 142.3l-4.9 2.8M659.0 154.5L667.1 142.3M692.7 142.4l-0.7 5.6M692.7 142.4l-4.9 2.7M684.6 154.5L692.7 142.4M718.4 142.4l-0.7 5.6M718.4 142.4l-4.9 2.7M710.2 154.5L718.4 142.4M744.1 142.4l-0.8 5.5M744.1 142.4l-4.9 2.7M735.8 154.4L744.1 142.4M769.8 142.5l-0.8 5.5M769.8 142.5l-5.0 2.6M761.3 154.4L769.8 142.5M795.4 142.5l-0.8 5.5M795.4 142.5l-5.0 2.6M786.9 154.4L795.4 142.5M821.1 142.6l-0.9 5.5M821.1 142.6l-5.0 2.5M812.5 154.3L821.1 142.6M846.8 142.6l-0.9 5.5M846.8 142.6l-5.0 2.5M838.1 154.3L846.8 142.6M872.5 142.6l-1.0 5.5M872.5 142.6l-5.0 2.4M863.6 154.3L872.5 142.6M898.1 142.7l-1.0 5.5M898.1 142.7l-5.1 2.4M889.2 154.2L898.1 142.7M923.8 142.7l-1.1 5.5M923.8 142.7l-5.1 2.3M914.8 154.2L923.8 142.7M949.5 142.7l-1.1 5.5M949.5 142.7l-5.1 2.3M940.4 154.1L949.5 142.7M975.2 142.8l-1.2 5.5M975.2 142.8l-5.1 2.3M965.9 154.1L975.2 142.8M995.5 142.8l0.7 5.6M995.5 142.8l-4.1 3.9M991.5 154.1L995.5 142.8M615.6 116.6l0.8 5.5M615.6 116.6l-4.0 3.9M611.3 129.1L615.6 116.6M641.3 116.7l-0.5 5.6M641.3 116.7l-4.8 2.9M633.5 129.0L641.3 116.7M667.0 116.7l-0.6 5.6M667.0 116.7l-4.8 2.8M659.1 129.0L667.0 116.7M692.7 116.7l-0.6 5.6M692.7 116.7l-4.9 2.8M684.7 129.0L692.7 116.7M718.3 116.8l-0.7 5.6M718.3 116.8l-4.9 2.7M710.3 128.9L718.3 116.8M744.0 116.8l-0.7 5.6M744.0 116.8l-4.9 2.7M735.8 128.9L744.0 116.8M769.7 116.9l-0.8 5.5M769.7 116.9l-4.9 2.7M761.4 128.9L769.7 116.9M795.4 116.9l-0.8 5.5M795.4 116.9l-5.0 2.6M787.0 128.8L795.4 116.9M821.1 116.9l-0.9 5.5M821.1 116.9l-5.0 2.6M812.5 128.8L821.1 116.9M846.7 117.0l-0.9 5.5M846.7 117.0l-5.0 2.5M838.1 128.7L846.7 117.0M872.4 117.0l-1.0 5.5M872.4 117.0l-5.0 2.5M863.7 128.7L872.4 117.0M898.1 117.1l-1.0 5.5M898.1 117.1l-5.0 2.4M889.3 128.7L898.1 117.1M923.8 117.1l-1.1 5.5M923.8 117.1l-5.1 2.4M914.8 128.6L923.8 117.1M949.5 117.1l-1.1 5.5M949.5 117.1l-5.1 2.3M940.4 128.6L949.5 117.1M975.1 117.2l-1.2 5.5M975.1 117.2l-5.1 2.3M966.0 128.5L975.1 117.2M995.5 117.2l0.7 5.5M995.5 117.2l-4.0 3.9M991.5 128.5L995.5 117.2M615.6 96.8l-0.5 5.6M615.6 96.8l-4.8 2.9M611.3 103.5L615.6 96.8M641.2 96.8l-2.1 5.2M641.2 96.8l-5.4 1.4M633.6 103.5L641.2 96.8M666.9 96.8l-2.1 5.2M666.9 96.8l-5.4 1.3M659.2 103.5L666.9 96.8M692.6 96.8l-2.2 5.2M692.6 96.8l-5.5 1.3M684.7 103.4L692.6 96.8M718.3 96.8l-2.2 5.1M718.3 96.8l-5.5 1.2M710.3 103.4L718.3 96.8M744.0 96.8l-2.3 5.1M744.0 96.8l-5.5 1.2M735.9 103.4L744.0 96.8M769.7 96.8l-2.3 5.1M769.7 96.8l-5.5 1.1M761.4 103.3L769.7 96.8M795.3 96.8l-2.4 5.1M795.3 96.8l-5.5 1.1M787.0 103.3L795.3 96.8M821.0 96.8l-2.4 5.0M821.0 96.8l-5.5 1.0M812.6 103.2L821.0 96.8M846.7 96.8l-2.5 5.0M846.7 96.8l-5.5 1.0M838.2 103.2L846.7 96.8M872.4 96.8l-2.5 5.0M872.4 96.8l-5.5 0.9M863.7 103.2L872.4 96.8M898.1 96.8l-2.6 5.0M898.1 96.8l-5.5 0.9M889.3 103.1L898.1 96.8M923.7 96.8l-2.6 5.0M923.7 96.8l-5.5 0.8M914.9 103.1L923.7 96.8M949.4 96.8l-2.6 4.9M949.4 96.8l-5.5 0.8M940.4 103.0L949.4 96.8M975.1 96.8l-2.7 4.9M975.1 96.8l-5.6 0.7M966.0 103.0L975.1 96.8M995.5 96.8l-0.5 5.6M995.5 96.8l-4.8 2.8M991.6 103.0L995.5 96.8"/>
</g>
<polygon points="783,239.1 834.2,245.2 816.2,295.2 765.4,289.2" fill="none" stroke="#111" stroke-width="1.2"/>
<rect x="608.0" y="93.8" width="390.79999999999995" height="364.7" fill="none" stroke="#aaa" stroke-width="0.9"/>
<path d="M608.0 93.8H998.8V458.5H608.0Z M611.0 97.0V455.2H995.7V97.0Z" fill="#fff" fill-rule="evenodd" stroke="#aaa" stroke-width="0.8"/>
<g fill="#000"><rect x="637.4" y="93.8" width="41.0" height="3.2"/><rect x="637.4" y="455.2" width="41.0" height="3.3"/><rect x="719.4" y="93.8" width="41.0" height="3.2"/><rect x="719.4" y="455.2" width="41.0" height="3.3"/><rect x="801.4" y="93.8" width="41.0" height="3.2"/><rect x="801.4" y="455.2" width="41.0" height="3.3"/><rect x="883.4" y="93.8" width="41.0" height="3.2"/><rect x="883.4" y="455.2" width="41.0" height="3.3"/><rect x="965.4" y="93.8" width="30.3" height="3.2"/><rect x="965.4" y="455.2" width="30.3" height="3.3"/><rect x="608.0" y="128.0" width="3.0" height="40.9"/><rect x="995.7" y="128.0" width="3.1" height="40.9"/><rect x="608.0" y="209.9" width="3.0" height="40.9"/><rect x="995.7" y="209.9" width="3.1" height="40.9"/><rect x="608.0" y="291.7" width="3.0" height="40.9"/><rect x="995.7" y="291.7" width="3.1" height="40.9"/><rect x="608.0" y="373.6" width="3.0" height="40.9"/><rect x="995.7" y="373.6" width="3.1" height="40.9"/></g>
<text x="637.4" y="90.3" font-size="15.3" text-anchor="middle" fill="#111" textLength="45.5" lengthAdjust="spacingAndGlyphs" stroke="#111" stroke-width="0.3">-144.00</text>
<text x="637.4" y="475.8" font-size="15.3" text-anchor="middle" fill="#111" textLength="45.5" lengthAdjust="spacingAndGlyphs" stroke="#111" stroke-width="0.3">-144.00</text>
<text x="719.4" y="90.3" font-size="15.3" text-anchor="middle" fill="#111" textLength="45.5" lengthAdjust="spacingAndGlyphs" stroke="#111" stroke-width="0.3">-143.20</text>
<text x="719.4" y="475.8" font-size="15.3" text-anchor="middle" fill="#111" textLength="45.5" lengthAdjust="spacingAndGlyphs" stroke="#111" stroke-width="0.3">-143.20</text>
<text x="801.4" y="90.3" font-size="15.3" text-anchor="middle" fill="#111" textLength="45.5" lengthAdjust="spacingAndGlyphs" stroke="#111" stroke-width="0.3">-142.40</text>
<text x="801.4" y="475.8" font-size="15.3" text-anchor="middle" fill="#111" textLength="45.5" lengthAdjust="spacingAndGlyphs" stroke="#111" stroke-width="0.3">-142.40</text>
<text x="883.4" y="90.3" font-size="15.3" text-anchor="middle" fill="#111" textLength="45.5" lengthAdjust="spacingAndGlyphs" stroke="#111" stroke-width="0.3">-141.60</text>
<text x="883.4" y="475.8" font-size="15.3" text-anchor="middle" fill="#111" textLength="45.5" lengthAdjust="spacingAndGlyphs" stroke="#111" stroke-width="0.3">-141.60</text>
<text x="965.4" y="90.3" font-size="15.3" text-anchor="middle" fill="#111" textLength="45.5" lengthAdjust="spacingAndGlyphs" stroke="#111" stroke-width="0.3">-140.80</text>
<text x="965.4" y="475.8" font-size="15.3" text-anchor="middle" fill="#111" textLength="45.5" lengthAdjust="spacingAndGlyphs" stroke="#111" stroke-width="0.3">-140.80</text>
<text x="604.6" y="168.9" font-size="15.3" text-anchor="middle" fill="#111" textLength="32.0" lengthAdjust="spacingAndGlyphs" transform="rotate(-90.0 604.6 168.9)" stroke="#111" stroke-width="0.3">56.80</text>
<text x="1002.6" y="168.9" font-size="15.3" text-anchor="middle" fill="#111" textLength="32.0" lengthAdjust="spacingAndGlyphs" transform="rotate(90.0 1002.6 168.9)" stroke="#111" stroke-width="0.3">56.80</text>
<text x="604.6" y="250.8" font-size="15.3" text-anchor="middle" fill="#111" textLength="32.0" lengthAdjust="spacingAndGlyphs" transform="rotate(-90.0 604.6 250.8)" stroke="#111" stroke-width="0.3">56.00</text>
<text x="1002.6" y="250.8" font-size="15.3" text-anchor="middle" fill="#111" textLength="32.0" lengthAdjust="spacingAndGlyphs" transform="rotate(90.0 1002.6 250.8)" stroke="#111" stroke-width="0.3">56.00</text>
<text x="604.6" y="332.6" font-size="15.3" text-anchor="middle" fill="#111" textLength="32.0" lengthAdjust="spacingAndGlyphs" transform="rotate(-90.0 604.6 332.6)" stroke="#111" stroke-width="0.3">55.20</text>
<text x="1002.6" y="332.6" font-size="15.3" text-anchor="middle" fill="#111" textLength="32.0" lengthAdjust="spacingAndGlyphs" transform="rotate(90.0 1002.6 332.6)" stroke="#111" stroke-width="0.3">55.20</text>
<text x="604.6" y="414.5" font-size="15.3" text-anchor="middle" fill="#111" textLength="32.0" lengthAdjust="spacingAndGlyphs" transform="rotate(-90.0 604.6 414.5)" stroke="#111" stroke-width="0.3">54.40</text>
<text x="1002.6" y="414.5" font-size="15.3" text-anchor="middle" fill="#111" textLength="32.0" lengthAdjust="spacingAndGlyphs" transform="rotate(90.0 1002.6 414.5)" stroke="#111" stroke-width="0.3">54.40</text>
<text x="827.4" y="496.6" font-size="14.5" text-anchor="middle" fill="#111" stroke="#111" stroke-width="0.3">(b)</text>
<g clip-path="url(#cclip)">
<path d="M641.3 596.7A103 103 0 0 0 527.2 580.6" stroke="#f6d3f4" stroke-width="14" fill="none" stroke-linecap="round" filter="url(#fb6)" opacity="0.7"/>
<ellipse cx="568.8" cy="571.3" rx="13" ry="5" fill="#d2b8f6" filter="url(#fb6)" opacity="0.8"/>
<ellipse cx="624.4" cy="583.1" rx="11" ry="6" fill="#f2bdf2" filter="url(#fb6)" opacity="0.65" transform="rotate(30 624.4 583.1)"/>
<path d="M503.5 749.7A103 103 0 0 0 617.6 765.8" stroke="#f6d3f4" stroke-width="14" fill="none" stroke-linecap="round" filter="url(#fb6)" opacity="0.7"/>
<ellipse cx="576.0" cy="775.1" rx="13" ry="5" fill="#d2b8f6" filter="url(#fb6)" opacity="0.8"/>
<ellipse cx="520.4" cy="763.3" rx="11" ry="6" fill="#f2bdf2" filter="url(#fb6)" opacity="0.65" transform="rotate(30 520.4 763.3)"/>
<ellipse cx="656.0" cy="637.0" rx="16" ry="11" fill="#fbe2ee" filter="url(#fb6)" opacity="0.6"/>
<ellipse cx="488.8" cy="709.4" rx="16" ry="11" fill="#fbe2ee" filter="url(#fb6)" opacity="0.6"/>
<g filter="url(#fb3)"><g transform="translate(487.5 0) scale(1.13 1) translate(-487.5 0)"><circle cx="487.5" cy="630.8" r="26.5" fill="url(#blob0)"/></g></g>
<g filter="url(#fb3)"><g transform="translate(657.5 0) scale(1.13 1) translate(-657.5 0)"><circle cx="657.5" cy="714.9" r="26.5" fill="url(#blob1)"/></g></g>
<g stroke="#111" stroke-width="1.15" fill="none" stroke-dasharray="12.5 6">
<g mask="url(#ringmask)">
<circle cx="572.4" cy="673.2" r="168.9"/>
<circle cx="572.4" cy="673.2" r="96.5"/>
<circle cx="572.4" cy="673.2" r="42.2"/>
</g>
<path d="M402.9 504.0L741.9 842.1M402.9 842.1L741.9 504.0"/>
</g>
</g>
<text x="438.4" y="571.9" font-size="12.5" text-anchor="middle" fill="#111" stroke="#111" stroke-width="0.2" transform="rotate(-52 438.4 567.9)">640m</text>
<text x="701.8" y="567.2" font-size="12.5" text-anchor="middle" fill="#111" stroke="#111" stroke-width="0.2" transform="rotate(52 701.8 563.2)">640m</text>
<text x="644.4" y="612.9" font-size="12.5" text-anchor="middle" fill="#111" stroke="#111" stroke-width="0.2" transform="rotate(52 644.4 608.9)">1120m</text>
<text x="516.9" y="756.6" font-size="12.5" text-anchor="middle" fill="#111" stroke="#111" stroke-width="0.2" transform="rotate(30 516.9 752.6)">1120m</text>
<text x="507.6" y="833.2" font-size="12.5" text-anchor="middle" fill="#111" stroke="#111" stroke-width="0.2" transform="rotate(22 507.6 829.2)">640m</text>
<path d="M445.5 621.6L701.8 726.9" stroke="#000" stroke-width="4.2" stroke-dasharray="13.9 12.97" fill="none"/>
<path d="M519.3 804.1L619.1 571.3" stroke="#000" stroke-width="4.4" fill="none"/>
<path d="M629.1 548.0L629.3 577.8L607.4 568.4Z" fill="#000"/>
<rect x="402.9" y="504.0" width="339.0" height="338.1" fill="none" stroke="#111" stroke-width="1.25"/>
<path d="M429.1 504.0v3.2M429.1 842.1v-3.2M402.9 529.9h3.2M741.9 529.9h-3.2M457.7 504.0v3.2M457.7 842.1v-3.2M402.9 558.5h3.2M741.9 558.5h-3.2M486.4 504.0v6.0M486.4 842.1v-6.0M402.9 587.2h6.0M741.9 587.2h-6.0M515.1 504.0v3.2M515.1 842.1v-3.2M402.9 615.9h3.2M741.9 615.9h-3.2M543.7 504.0v3.2M543.7 842.1v-3.2M402.9 644.5h3.2M741.9 644.5h-3.2M572.4 504.0v6.0M572.4 842.1v-6.0M402.9 673.2h6.0M741.9 673.2h-6.0M601.1 504.0v3.2M601.1 842.1v-3.2M402.9 701.9h3.2M741.9 701.9h-3.2M629.7 504.0v3.2M629.7 842.1v-3.2M402.9 730.5h3.2M741.9 730.5h-3.2M658.4 504.0v6.0M658.4 842.1v-6.0M402.9 759.2h6.0M741.9 759.2h-6.0M687.1 504.0v3.2M687.1 842.1v-3.2M402.9 787.9h3.2M741.9 787.9h-3.2M715.7 504.0v3.2M715.7 842.1v-3.2M402.9 816.5h3.2M741.9 816.5h-3.2" stroke="#111" stroke-width="1.1" fill="none"/>
<text x="484.9" y="497.6" font-size="12" text-anchor="middle" fill="#111" textLength="30.0" lengthAdjust="spacingAndGlyphs" stroke="#111" stroke-width="0.12">-0.005</text>
<text x="484.9" y="863.2" font-size="12" text-anchor="middle" fill="#111" textLength="30.0" lengthAdjust="spacingAndGlyphs" stroke="#111" stroke-width="0.12">-0.005</text>
<text x="572.4" y="497.6" font-size="12" text-anchor="middle" fill="#111" textLength="26.5" lengthAdjust="spacingAndGlyphs" stroke="#111" stroke-width="0.12">0.000</text>
<text x="572.4" y="863.2" font-size="12" text-anchor="middle" fill="#111" textLength="26.5" lengthAdjust="spacingAndGlyphs" stroke="#111" stroke-width="0.12">0.000</text>
<text x="658.4" y="497.6" font-size="12" text-anchor="middle" fill="#111" textLength="26.5" lengthAdjust="spacingAndGlyphs" stroke="#111" stroke-width="0.12">0.005</text>
<text x="658.4" y="863.2" font-size="12" text-anchor="middle" fill="#111" textLength="26.5" lengthAdjust="spacingAndGlyphs" stroke="#111" stroke-width="0.12">0.005</text>
<text x="397.0" y="763.8" font-size="12" text-anchor="end" fill="#111" textLength="30.0" lengthAdjust="spacingAndGlyphs" stroke="#111" stroke-width="0.12">-0.005</text>
<text x="745.8" y="763.8" font-size="12" text-anchor="start" fill="#111" textLength="30.0" lengthAdjust="spacingAndGlyphs" stroke="#111" stroke-width="0.12">-0.005</text>
<text x="397.0" y="677.8" font-size="12" text-anchor="end" fill="#111" textLength="26.5" lengthAdjust="spacingAndGlyphs" stroke="#111" stroke-width="0.12">0.000</text>
<text x="745.8" y="677.8" font-size="12" text-anchor="start" fill="#111" textLength="26.5" lengthAdjust="spacingAndGlyphs" stroke="#111" stroke-width="0.12">0.000</text>
<text x="397.0" y="591.8" font-size="12" text-anchor="end" fill="#111" textLength="26.5" lengthAdjust="spacingAndGlyphs" stroke="#111" stroke-width="0.12">0.005</text>
<text x="745.8" y="591.8" font-size="12" text-anchor="start" fill="#111" textLength="26.5" lengthAdjust="spacingAndGlyphs" stroke="#111" stroke-width="0.12">0.005</text>
<text x="572.3" y="880.3" font-size="12.5" text-anchor="middle" fill="#111" textLength="48.5" lengthAdjust="spacingAndGlyphs" stroke="#111" stroke-width="0.12">kx[rad/m]</text>
<text x="355.0" y="672.5" font-size="12.5" text-anchor="middle" fill="#111" textLength="53.0" lengthAdjust="spacingAndGlyphs" transform="rotate(-90.0 355.0 672.5)" stroke="#111" stroke-width="0.12">ky[rad/m]</text>
<text x="572.5" y="903.1" font-size="16.5" text-anchor="middle" fill="#111" textLength="175.0" lengthAdjust="spacingAndGlyphs" stroke="#111" stroke-width="0.3">Normalized Energy Density</text>
<rect x="459.1" y="910.3" width="226.5" height="16.90000000000009" fill="url(#ecm)" stroke="#111" stroke-width="1.1"/>
<path d="M478.0 910.3v2.2M478.0 927.2v-2.2M496.9 910.3v2.2M496.9 927.2v-2.2M515.7 910.3v2.2M515.7 927.2v-2.2M534.6 910.3v2.2M534.6 927.2v-2.2M553.5 910.3v2.2M553.5 927.2v-2.2M572.4 910.3v2.2M572.4 927.2v-2.2M591.2 910.3v2.2M591.2 927.2v-2.2M610.1 910.3v2.2M610.1 927.2v-2.2M629.0 910.3v2.2M629.0 927.2v-2.2M647.9 910.3v2.2M647.9 927.2v-2.2M666.7 910.3v2.2M666.7 927.2v-2.2" stroke="#111" stroke-width="0.9" fill="none"/>
<text x="459.6" y="947.5" font-size="13" text-anchor="middle" fill="#111" stroke="#111" stroke-width="0.12">0.0</text>
<text x="497.4" y="947.5" font-size="13" text-anchor="middle" fill="#111" stroke="#111" stroke-width="0.12">0.2</text>
<text x="535.1" y="947.5" font-size="13" text-anchor="middle" fill="#111" stroke="#111" stroke-width="0.12">0.3</text>
<text x="572.9" y="947.5" font-size="13" text-anchor="middle" fill="#111" stroke="#111" stroke-width="0.12">0.5</text>
<text x="610.6" y="947.5" font-size="13" text-anchor="middle" fill="#111" stroke="#111" stroke-width="0.12">0.7</text>
<text x="648.4" y="947.5" font-size="13" text-anchor="middle" fill="#111" stroke="#111" stroke-width="0.12">0.8</text>
<text x="686.1" y="947.5" font-size="13" text-anchor="middle" fill="#111" stroke="#111" stroke-width="0.12">1.0</text>
<text x="573.1" y="969.0" font-size="14.5" text-anchor="middle" fill="#111" stroke="#111" stroke-width="0.3">(c)</text>
</svg>
</body>
</html>
